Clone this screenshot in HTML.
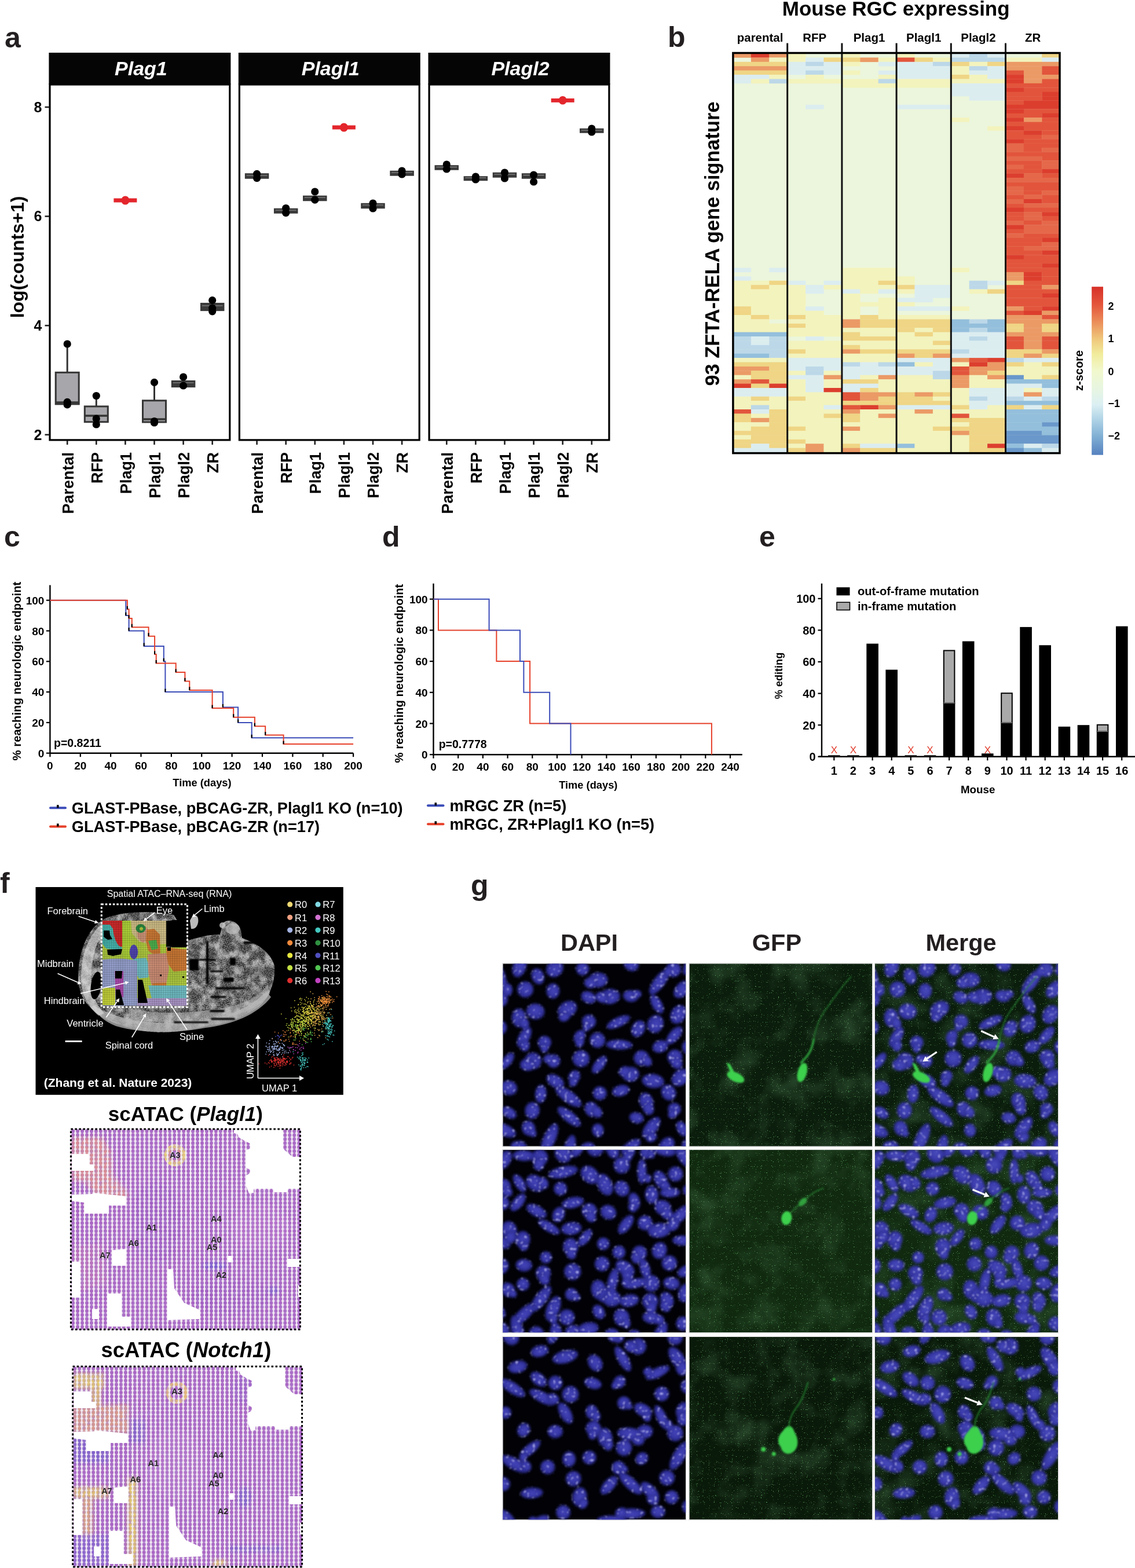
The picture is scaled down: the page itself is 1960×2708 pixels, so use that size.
<!DOCTYPE html>
<html><head><meta charset="utf-8"><title>Figure</title>
<style>
html,body{margin:0;padding:0;background:#fff;}
body{width:1960px;height:2708px;overflow:hidden;}
svg{display:block;}
svg text{font-family:"Liberation Sans", Arial, Helvetica, sans-serif;}
</style></head><body>
<svg width="1960" height="2708" viewBox="0 0 1960 2708">
<rect width="1960" height="2708" fill="#fff"/>
<rect x="84.4" y="91" width="314" height="55" fill="#050505"/>
<rect x="86.0" y="146" width="310.8" height="613.9" fill="none" stroke="#000" stroke-width="3.2"/>
<text x="243.4" y="129.5" font-size="34" font-weight="bold" font-style="italic" fill="#fff" text-anchor="middle">Plag1</text>
<line x1="116.2" y1="761" x2="116.2" y2="768" stroke="#222" stroke-width="2.6"/>
<text transform="translate(126.5,781) rotate(-90)" font-size="27" font-weight="bold" text-anchor="end">Parental</text>
<line x1="166.3" y1="761" x2="166.3" y2="768" stroke="#222" stroke-width="2.6"/>
<text transform="translate(176.6,781) rotate(-90)" font-size="27" font-weight="bold" text-anchor="end">RFP</text>
<line x1="216.4" y1="761" x2="216.4" y2="768" stroke="#222" stroke-width="2.6"/>
<text transform="translate(226.7,781) rotate(-90)" font-size="27" font-weight="bold" text-anchor="end">Plag1</text>
<line x1="266.5" y1="761" x2="266.5" y2="768" stroke="#222" stroke-width="2.6"/>
<text transform="translate(276.8,781) rotate(-90)" font-size="27" font-weight="bold" text-anchor="end">Plagl1</text>
<line x1="316.6" y1="761" x2="316.6" y2="768" stroke="#222" stroke-width="2.6"/>
<text transform="translate(326.9,781) rotate(-90)" font-size="27" font-weight="bold" text-anchor="end">Plagl2</text>
<line x1="366.7" y1="761" x2="366.7" y2="768" stroke="#222" stroke-width="2.6"/>
<text transform="translate(377.0,781) rotate(-90)" font-size="27" font-weight="bold" text-anchor="end">ZR</text>
<rect x="411.8" y="91" width="314" height="55" fill="#050505"/>
<rect x="413.40000000000003" y="146" width="310.8" height="613.9" fill="none" stroke="#000" stroke-width="3.2"/>
<text x="570.8" y="129.5" font-size="34" font-weight="bold" font-style="italic" fill="#fff" text-anchor="middle">Plagl1</text>
<line x1="443.6" y1="761" x2="443.6" y2="768" stroke="#222" stroke-width="2.6"/>
<text transform="translate(453.9,781) rotate(-90)" font-size="27" font-weight="bold" text-anchor="end">Parental</text>
<line x1="493.7" y1="761" x2="493.7" y2="768" stroke="#222" stroke-width="2.6"/>
<text transform="translate(504.0,781) rotate(-90)" font-size="27" font-weight="bold" text-anchor="end">RFP</text>
<line x1="543.8" y1="761" x2="543.8" y2="768" stroke="#222" stroke-width="2.6"/>
<text transform="translate(554.1,781) rotate(-90)" font-size="27" font-weight="bold" text-anchor="end">Plag1</text>
<line x1="593.9" y1="761" x2="593.9" y2="768" stroke="#222" stroke-width="2.6"/>
<text transform="translate(604.2,781) rotate(-90)" font-size="27" font-weight="bold" text-anchor="end">Plagl1</text>
<line x1="644.0" y1="761" x2="644.0" y2="768" stroke="#222" stroke-width="2.6"/>
<text transform="translate(654.3,781) rotate(-90)" font-size="27" font-weight="bold" text-anchor="end">Plagl2</text>
<line x1="694.1" y1="761" x2="694.1" y2="768" stroke="#222" stroke-width="2.6"/>
<text transform="translate(704.4,781) rotate(-90)" font-size="27" font-weight="bold" text-anchor="end">ZR</text>
<rect x="739.5" y="91" width="314" height="55" fill="#050505"/>
<rect x="741.1" y="146" width="310.8" height="613.9" fill="none" stroke="#000" stroke-width="3.2"/>
<text x="898.5" y="129.5" font-size="34" font-weight="bold" font-style="italic" fill="#fff" text-anchor="middle">Plagl2</text>
<line x1="771.3" y1="761" x2="771.3" y2="768" stroke="#222" stroke-width="2.6"/>
<text transform="translate(781.6,781) rotate(-90)" font-size="27" font-weight="bold" text-anchor="end">Parental</text>
<line x1="821.4" y1="761" x2="821.4" y2="768" stroke="#222" stroke-width="2.6"/>
<text transform="translate(831.7,781) rotate(-90)" font-size="27" font-weight="bold" text-anchor="end">RFP</text>
<line x1="871.5" y1="761" x2="871.5" y2="768" stroke="#222" stroke-width="2.6"/>
<text transform="translate(881.8,781) rotate(-90)" font-size="27" font-weight="bold" text-anchor="end">Plag1</text>
<line x1="921.6" y1="761" x2="921.6" y2="768" stroke="#222" stroke-width="2.6"/>
<text transform="translate(931.9,781) rotate(-90)" font-size="27" font-weight="bold" text-anchor="end">Plagl1</text>
<line x1="971.7" y1="761" x2="971.7" y2="768" stroke="#222" stroke-width="2.6"/>
<text transform="translate(982.0,781) rotate(-90)" font-size="27" font-weight="bold" text-anchor="end">Plagl2</text>
<line x1="1021.8" y1="761" x2="1021.8" y2="768" stroke="#222" stroke-width="2.6"/>
<text transform="translate(1032.1,781) rotate(-90)" font-size="27" font-weight="bold" text-anchor="end">ZR</text>
<line x1="77.5" y1="750.8" x2="85" y2="750.8" stroke="#222" stroke-width="2.6"/>
<text x="72.5" y="759.6" font-size="25" font-weight="bold" text-anchor="end">2</text>
<line x1="77.5" y1="562.2" x2="85" y2="562.2" stroke="#222" stroke-width="2.6"/>
<text x="72.5" y="571.0" font-size="25" font-weight="bold" text-anchor="end">4</text>
<line x1="77.5" y1="373.6" x2="85" y2="373.6" stroke="#222" stroke-width="2.6"/>
<text x="72.5" y="382.4" font-size="25" font-weight="bold" text-anchor="end">6</text>
<line x1="77.5" y1="185.0" x2="85" y2="185.0" stroke="#222" stroke-width="2.6"/>
<text x="72.5" y="193.8" font-size="25" font-weight="bold" text-anchor="end">8</text>
<text transform="translate(41.3,444) rotate(-90)" font-size="32" font-weight="bold" text-anchor="middle">log(counts+1)</text>
<line x1="116.2" y1="594.0" x2="116.2" y2="643.3" stroke="#333" stroke-width="3"/>
<rect x="96.2" y="643.3" width="40" height="54.6" fill="#a7a7ab" stroke="#353535" stroke-width="3"/>
<line x1="96.2" y1="695.0" x2="136.2" y2="695.0" stroke="#353535" stroke-width="3.5"/>
<circle cx="116.2" cy="594.0" r="6.6" fill="#000"/>
<circle cx="116.2" cy="694.3" r="6.6" fill="#000"/>
<circle cx="116.2" cy="698.9" r="6.6" fill="#000"/>
<line x1="166.3" y1="683.5" x2="166.3" y2="701.9" stroke="#333" stroke-width="3"/>
<rect x="146.3" y="701.9" width="40" height="26.8" fill="#a7a7ab" stroke="#353535" stroke-width="3"/>
<line x1="146.3" y1="718.0" x2="186.3" y2="718.0" stroke="#353535" stroke-width="3.5"/>
<circle cx="166.3" cy="683.5" r="6.6" fill="#000"/>
<circle cx="166.3" cy="723.0" r="6.6" fill="#000"/>
<circle cx="166.3" cy="733.0" r="6.6" fill="#000"/>
<rect x="196.4" y="342.5" width="40" height="7.0" fill="#e3262c"/>
<circle cx="216.4" cy="345.0" r="6.6" fill="#e3262c"/>
<circle cx="216.4" cy="346.5" r="6.6" fill="#e3262c"/>
<circle cx="216.4" cy="347.0" r="6.6" fill="#e3262c"/>
<line x1="266.5" y1="660.4" x2="266.5" y2="691.8" stroke="#333" stroke-width="3"/>
<rect x="246.5" y="691.8" width="40" height="37.2" fill="#a7a7ab" stroke="#353535" stroke-width="3"/>
<line x1="246.5" y1="724.0" x2="286.5" y2="724.0" stroke="#353535" stroke-width="3.5"/>
<circle cx="266.5" cy="660.4" r="6.6" fill="#000"/>
<circle cx="266.5" cy="727.5" r="6.6" fill="#000"/>
<circle cx="266.5" cy="730.0" r="6.6" fill="#000"/>
<rect x="296.6" y="657.7" width="40" height="10.7" fill="#3a3a3a" stroke="#383838" stroke-width="1.5"/>
<line x1="298.6" y1="661.0" x2="334.6" y2="661.0" stroke="#9a9a9a" stroke-width="1"/>
<circle cx="316.6" cy="651.0" r="6.6" fill="#000"/>
<circle cx="316.6" cy="666.0" r="6.6" fill="#000"/>
<rect x="346.7" y="523.7" width="40" height="12.7" fill="#3a3a3a" stroke="#383838" stroke-width="1.5"/>
<line x1="348.7" y1="528.0" x2="384.7" y2="528.0" stroke="#9a9a9a" stroke-width="1"/>
<circle cx="366.7" cy="518.7" r="6.6" fill="#000"/>
<circle cx="366.7" cy="532.0" r="6.6" fill="#000"/>
<circle cx="366.7" cy="537.8" r="6.6" fill="#000"/>
<rect x="423.6" y="300.0" width="40" height="8.0" fill="#3a3a3a" stroke="#383838" stroke-width="1.5"/>
<line x1="425.6" y1="303.0" x2="461.6" y2="303.0" stroke="#9a9a9a" stroke-width="1"/>
<circle cx="443.6" cy="300.3" r="6.6" fill="#000"/>
<circle cx="443.6" cy="307.7" r="6.6" fill="#000"/>
<rect x="473.7" y="360.5" width="40" height="7.5" fill="#3a3a3a" stroke="#383838" stroke-width="1.5"/>
<line x1="475.7" y1="363.0" x2="511.7" y2="363.0" stroke="#9a9a9a" stroke-width="1"/>
<circle cx="493.7" cy="359.5" r="6.6" fill="#000"/>
<circle cx="493.7" cy="367.7" r="6.6" fill="#000"/>
<rect x="523.8" y="338.5" width="40" height="8.0" fill="#3a3a3a" stroke="#383838" stroke-width="1.5"/>
<line x1="525.8" y1="341.0" x2="561.8" y2="341.0" stroke="#9a9a9a" stroke-width="1"/>
<circle cx="543.8" cy="331.0" r="6.6" fill="#000"/>
<circle cx="543.8" cy="345.2" r="6.6" fill="#000"/>
<rect x="573.9" y="216.5" width="40" height="7.0" fill="#e3262c"/>
<circle cx="593.9" cy="219.0" r="6.6" fill="#e3262c"/>
<circle cx="593.9" cy="221.0" r="6.6" fill="#e3262c"/>
<rect x="624.0" y="351.5" width="40" height="8.0" fill="#3a3a3a" stroke="#383838" stroke-width="1.5"/>
<line x1="626.0" y1="354.0" x2="662.0" y2="354.0" stroke="#9a9a9a" stroke-width="1"/>
<circle cx="644.0" cy="351.0" r="6.6" fill="#000"/>
<circle cx="644.0" cy="360.0" r="6.6" fill="#000"/>
<rect x="674.1" y="295.5" width="40" height="7.5" fill="#3a3a3a" stroke="#383838" stroke-width="1.5"/>
<line x1="676.1" y1="298.0" x2="712.1" y2="298.0" stroke="#9a9a9a" stroke-width="1"/>
<circle cx="694.1" cy="295.0" r="6.6" fill="#000"/>
<circle cx="694.1" cy="301.0" r="6.6" fill="#000"/>
<rect x="751.3" y="286.0" width="40" height="7.0" fill="#3a3a3a" stroke="#383838" stroke-width="1.5"/>
<line x1="753.3" y1="288.5" x2="789.3" y2="288.5" stroke="#9a9a9a" stroke-width="1"/>
<circle cx="771.3" cy="284.0" r="6.6" fill="#000"/>
<circle cx="771.3" cy="292.0" r="6.6" fill="#000"/>
<rect x="801.4" y="305.0" width="40" height="6.5" fill="#3a3a3a" stroke="#383838" stroke-width="1.5"/>
<line x1="803.4" y1="307.0" x2="839.4" y2="307.0" stroke="#9a9a9a" stroke-width="1"/>
<circle cx="821.4" cy="305.0" r="6.6" fill="#000"/>
<circle cx="821.4" cy="310.0" r="6.6" fill="#000"/>
<rect x="851.5" y="298.5" width="40" height="7.5" fill="#3a3a3a" stroke="#383838" stroke-width="1.5"/>
<line x1="853.5" y1="301.0" x2="889.5" y2="301.0" stroke="#9a9a9a" stroke-width="1"/>
<circle cx="871.5" cy="298.0" r="6.6" fill="#000"/>
<circle cx="871.5" cy="308.0" r="6.6" fill="#000"/>
<rect x="901.6" y="300.0" width="40" height="8.0" fill="#3a3a3a" stroke="#383838" stroke-width="1.5"/>
<line x1="903.6" y1="302.5" x2="939.6" y2="302.5" stroke="#9a9a9a" stroke-width="1"/>
<circle cx="921.6" cy="302.0" r="6.6" fill="#000"/>
<circle cx="921.6" cy="314.0" r="6.6" fill="#000"/>
<rect x="951.7" y="170.0" width="40" height="6.8" fill="#e3262c"/>
<circle cx="971.7" cy="172.5" r="6.6" fill="#e3262c"/>
<circle cx="971.7" cy="174.0" r="6.6" fill="#e3262c"/>
<rect x="1001.8" y="222.5" width="40" height="6.5" fill="#3a3a3a" stroke="#383838" stroke-width="1.5"/>
<line x1="1003.8" y1="225.0" x2="1039.8" y2="225.0" stroke="#9a9a9a" stroke-width="1"/>
<circle cx="1021.8" cy="222.0" r="6.6" fill="#000"/>
<circle cx="1021.8" cy="228.0" r="6.6" fill="#000"/>
<text x="8" y="82" font-size="50" font-weight="bold" fill="#231f20">a</text>
<rect x="1265.5" y="92.0" width="565.2" height="689.1" fill="#ecf6dc"/>
<rect x="1265.5" y="92.00" width="31.7" height="7.71" fill="#eb9a66"/>
<rect x="1296.9" y="92.00" width="31.7" height="7.71" fill="#dc3e2e"/>
<rect x="1328.3" y="92.00" width="31.7" height="7.71" fill="#eb9a66"/>
<rect x="1359.7" y="92.00" width="31.7" height="7.71" fill="#f3f3bd"/>
<rect x="1453.9" y="92.00" width="31.7" height="7.71" fill="#f3f3bd"/>
<rect x="1548.1" y="92.00" width="31.7" height="7.71" fill="#f3f3bd"/>
<rect x="1642.3" y="92.00" width="31.7" height="7.71" fill="#dcedf0"/>
<rect x="1673.7" y="92.00" width="31.7" height="7.71" fill="#bcd8e8"/>
<rect x="1705.1" y="92.00" width="31.7" height="7.71" fill="#dcedf0"/>
<rect x="1799.3" y="92.00" width="31.7" height="7.71" fill="#efd585"/>
<rect x="1296.9" y="99.41" width="31.7" height="7.71" fill="#eb9a66"/>
<rect x="1328.3" y="99.41" width="63.1" height="7.71" fill="#f3f3bd"/>
<rect x="1391.1" y="99.41" width="31.7" height="7.71" fill="#dcedf0"/>
<rect x="1422.5" y="99.41" width="63.1" height="7.71" fill="#efd585"/>
<rect x="1485.3" y="99.41" width="31.7" height="7.71" fill="#eb9a66"/>
<rect x="1516.7" y="99.41" width="31.7" height="7.71" fill="#f3f3bd"/>
<rect x="1548.1" y="99.41" width="31.7" height="7.71" fill="#e2553c"/>
<rect x="1579.5" y="99.41" width="31.7" height="7.71" fill="#efd585"/>
<rect x="1610.9" y="99.41" width="31.7" height="7.71" fill="#f3f3bd"/>
<rect x="1642.3" y="99.41" width="94.5" height="7.71" fill="#bcd8e8"/>
<rect x="1736.5" y="99.41" width="63.1" height="7.71" fill="#f3f3bd"/>
<rect x="1799.3" y="99.41" width="31.7" height="7.71" fill="#dcedf0"/>
<rect x="1265.5" y="106.82" width="94.5" height="7.71" fill="#efd585"/>
<rect x="1359.7" y="106.82" width="31.7" height="7.71" fill="#dcedf0"/>
<rect x="1391.1" y="106.82" width="31.7" height="7.71" fill="#bcd8e8"/>
<rect x="1422.5" y="106.82" width="31.7" height="7.71" fill="#dcedf0"/>
<rect x="1453.9" y="106.82" width="31.7" height="7.71" fill="#f3f3bd"/>
<rect x="1516.7" y="106.82" width="94.5" height="7.71" fill="#dcedf0"/>
<rect x="1610.9" y="106.82" width="31.7" height="7.71" fill="#bcd8e8"/>
<rect x="1642.3" y="106.82" width="31.7" height="7.71" fill="#efd585"/>
<rect x="1673.7" y="106.82" width="31.7" height="7.71" fill="#f3f3bd"/>
<rect x="1705.1" y="106.82" width="31.7" height="7.71" fill="#efd585"/>
<rect x="1736.5" y="106.82" width="94.5" height="7.71" fill="#eb9a66"/>
<rect x="1265.5" y="114.23" width="94.5" height="7.71" fill="#eb9a66"/>
<rect x="1359.7" y="114.23" width="94.5" height="7.71" fill="#dcedf0"/>
<rect x="1548.1" y="114.23" width="94.5" height="7.71" fill="#dcedf0"/>
<rect x="1642.3" y="114.23" width="31.7" height="7.71" fill="#f3f3bd"/>
<rect x="1673.7" y="114.23" width="31.7" height="7.71" fill="#bcd8e8"/>
<rect x="1705.1" y="114.23" width="31.7" height="7.71" fill="#dcedf0"/>
<rect x="1736.5" y="114.23" width="63.1" height="7.71" fill="#eb9a66"/>
<rect x="1799.3" y="114.23" width="31.7" height="7.71" fill="#e2553c"/>
<rect x="1265.5" y="121.64" width="94.5" height="7.71" fill="#efd585"/>
<rect x="1359.7" y="121.64" width="31.7" height="7.71" fill="#dcedf0"/>
<rect x="1391.1" y="121.64" width="31.7" height="7.71" fill="#bcd8e8"/>
<rect x="1422.5" y="121.64" width="31.7" height="7.71" fill="#dcedf0"/>
<rect x="1453.9" y="121.64" width="31.7" height="7.71" fill="#f3f3bd"/>
<rect x="1516.7" y="121.64" width="125.9" height="7.71" fill="#dcedf0"/>
<rect x="1642.3" y="121.64" width="31.7" height="7.71" fill="#f3f3bd"/>
<rect x="1673.7" y="121.64" width="63.1" height="7.71" fill="#dcedf0"/>
<rect x="1736.5" y="121.64" width="31.7" height="7.71" fill="#e2553c"/>
<rect x="1767.9" y="121.64" width="31.7" height="7.71" fill="#eb9a66"/>
<rect x="1799.3" y="121.64" width="31.7" height="7.71" fill="#e2553c"/>
<rect x="1265.5" y="129.05" width="63.1" height="7.71" fill="#dcedf0"/>
<rect x="1328.3" y="129.05" width="31.7" height="7.71" fill="#f3f3bd"/>
<rect x="1391.1" y="129.05" width="31.7" height="7.71" fill="#f3f3bd"/>
<rect x="1516.7" y="129.05" width="31.7" height="7.71" fill="#f3f3bd"/>
<rect x="1548.1" y="129.05" width="94.5" height="7.71" fill="#dcedf0"/>
<rect x="1642.3" y="129.05" width="31.7" height="7.71" fill="#efd585"/>
<rect x="1673.7" y="129.05" width="31.7" height="7.71" fill="#f3f3bd"/>
<rect x="1705.1" y="129.05" width="31.7" height="7.71" fill="#dcedf0"/>
<rect x="1736.5" y="129.05" width="31.7" height="7.71" fill="#dc3e2e"/>
<rect x="1767.9" y="129.05" width="63.1" height="7.71" fill="#eb9a66"/>
<rect x="1265.5" y="136.46" width="31.7" height="7.71" fill="#dcedf0"/>
<rect x="1296.9" y="136.46" width="31.7" height="7.71" fill="#f3f3bd"/>
<rect x="1328.3" y="136.46" width="31.7" height="7.71" fill="#bcd8e8"/>
<rect x="1359.7" y="136.46" width="157.3" height="7.71" fill="#f3f3bd"/>
<rect x="1516.7" y="136.46" width="31.7" height="7.71" fill="#bcd8e8"/>
<rect x="1548.1" y="136.46" width="188.7" height="7.71" fill="#f3f3bd"/>
<rect x="1736.5" y="136.46" width="31.7" height="7.71" fill="#dc3e2e"/>
<rect x="1767.9" y="136.46" width="31.7" height="7.71" fill="#eb9a66"/>
<rect x="1799.3" y="136.46" width="31.7" height="7.71" fill="#e2553c"/>
<rect x="1453.9" y="143.87" width="188.7" height="7.71" fill="#f3f3bd"/>
<rect x="1642.3" y="143.87" width="94.5" height="7.71" fill="#dcedf0"/>
<rect x="1736.5" y="143.87" width="94.5" height="7.71" fill="#e2553c"/>
<rect x="1642.3" y="151.28" width="94.5" height="7.71" fill="#dcedf0"/>
<rect x="1736.5" y="151.28" width="31.7" height="7.71" fill="#dc3e2e"/>
<rect x="1767.9" y="151.28" width="63.1" height="7.71" fill="#e2553c"/>
<rect x="1642.3" y="158.69" width="94.5" height="7.71" fill="#dcedf0"/>
<rect x="1736.5" y="158.69" width="63.1" height="7.71" fill="#e2553c"/>
<rect x="1799.3" y="158.69" width="31.7" height="7.71" fill="#dc3e2e"/>
<rect x="1673.7" y="166.10" width="63.1" height="7.71" fill="#dcedf0"/>
<rect x="1736.5" y="166.10" width="63.1" height="7.71" fill="#e2553c"/>
<rect x="1799.3" y="166.10" width="31.7" height="7.71" fill="#dc3e2e"/>
<rect x="1736.5" y="173.51" width="31.7" height="7.71" fill="#e2553c"/>
<rect x="1767.9" y="173.51" width="63.1" height="7.71" fill="#dc3e2e"/>
<rect x="1391.1" y="180.92" width="31.7" height="7.71" fill="#dcedf0"/>
<rect x="1548.1" y="180.92" width="94.5" height="7.71" fill="#dcedf0"/>
<rect x="1736.5" y="180.92" width="94.5" height="7.71" fill="#dc3e2e"/>
<rect x="1736.5" y="188.33" width="31.7" height="7.71" fill="#dc3e2e"/>
<rect x="1767.9" y="188.33" width="63.1" height="7.71" fill="#e2553c"/>
<rect x="1736.5" y="195.74" width="63.1" height="7.71" fill="#e2553c"/>
<rect x="1799.3" y="195.74" width="31.7" height="7.71" fill="#dc3e2e"/>
<rect x="1642.3" y="203.15" width="31.7" height="7.71" fill="#f3f3bd"/>
<rect x="1736.5" y="203.15" width="31.7" height="7.71" fill="#dc3e2e"/>
<rect x="1767.9" y="203.15" width="31.7" height="7.71" fill="#eb9a66"/>
<rect x="1799.3" y="203.15" width="31.7" height="7.71" fill="#e2553c"/>
<rect x="1736.5" y="210.56" width="94.5" height="7.71" fill="#e2553c"/>
<rect x="1705.1" y="217.97" width="31.7" height="7.71" fill="#f3f3bd"/>
<rect x="1736.5" y="217.97" width="31.7" height="7.71" fill="#dc3e2e"/>
<rect x="1767.9" y="217.97" width="63.1" height="7.71" fill="#e2553c"/>
<rect x="1736.5" y="225.38" width="31.7" height="7.71" fill="#e2553c"/>
<rect x="1767.9" y="225.38" width="31.7" height="7.71" fill="#dc3e2e"/>
<rect x="1799.3" y="225.38" width="31.7" height="7.71" fill="#e2553c"/>
<rect x="1736.5" y="232.79" width="63.1" height="7.71" fill="#e2553c"/>
<rect x="1799.3" y="232.79" width="31.7" height="7.71" fill="#e5684a"/>
<rect x="1736.5" y="240.20" width="31.7" height="7.71" fill="#dc3e2e"/>
<rect x="1767.9" y="240.20" width="63.1" height="7.71" fill="#e2553c"/>
<rect x="1736.5" y="247.61" width="31.7" height="7.71" fill="#e5684a"/>
<rect x="1767.9" y="247.61" width="63.1" height="7.71" fill="#e2553c"/>
<rect x="1736.5" y="255.02" width="31.7" height="7.71" fill="#e5684a"/>
<rect x="1767.9" y="255.02" width="31.7" height="7.71" fill="#e2553c"/>
<rect x="1799.3" y="255.02" width="31.7" height="7.71" fill="#e5684a"/>
<rect x="1736.5" y="262.43" width="94.5" height="7.71" fill="#e2553c"/>
<rect x="1736.5" y="269.84" width="63.1" height="7.71" fill="#e5684a"/>
<rect x="1799.3" y="269.84" width="31.7" height="7.71" fill="#e2553c"/>
<rect x="1736.5" y="277.25" width="63.1" height="7.71" fill="#e2553c"/>
<rect x="1799.3" y="277.25" width="31.7" height="7.71" fill="#e5684a"/>
<rect x="1736.5" y="284.66" width="31.7" height="7.71" fill="#e5684a"/>
<rect x="1767.9" y="284.66" width="31.7" height="7.71" fill="#e2553c"/>
<rect x="1799.3" y="284.66" width="31.7" height="7.71" fill="#e5684a"/>
<rect x="1736.5" y="292.07" width="63.1" height="7.71" fill="#e2553c"/>
<rect x="1799.3" y="292.07" width="31.7" height="7.71" fill="#dc3e2e"/>
<rect x="1736.5" y="299.48" width="31.7" height="7.71" fill="#dc3e2e"/>
<rect x="1767.9" y="299.48" width="31.7" height="7.71" fill="#e5684a"/>
<rect x="1799.3" y="299.48" width="31.7" height="7.71" fill="#e2553c"/>
<rect x="1736.5" y="306.89" width="94.5" height="7.71" fill="#e5684a"/>
<rect x="1736.5" y="314.30" width="94.5" height="7.71" fill="#e2553c"/>
<rect x="1736.5" y="321.71" width="31.7" height="7.71" fill="#e5684a"/>
<rect x="1767.9" y="321.71" width="63.1" height="7.71" fill="#e2553c"/>
<rect x="1736.5" y="329.12" width="31.7" height="7.71" fill="#e5684a"/>
<rect x="1767.9" y="329.12" width="31.7" height="7.71" fill="#e2553c"/>
<rect x="1799.3" y="329.12" width="31.7" height="7.71" fill="#e5684a"/>
<rect x="1736.5" y="336.53" width="31.7" height="7.71" fill="#e2553c"/>
<rect x="1767.9" y="336.53" width="31.7" height="7.71" fill="#e5684a"/>
<rect x="1799.3" y="336.53" width="31.7" height="7.71" fill="#e2553c"/>
<rect x="1736.5" y="343.94" width="31.7" height="7.71" fill="#e5684a"/>
<rect x="1767.9" y="343.94" width="31.7" height="7.71" fill="#dc3e2e"/>
<rect x="1799.3" y="343.94" width="31.7" height="7.71" fill="#e2553c"/>
<rect x="1736.5" y="351.35" width="31.7" height="7.71" fill="#e2553c"/>
<rect x="1767.9" y="351.35" width="63.1" height="7.71" fill="#e5684a"/>
<rect x="1736.5" y="358.76" width="31.7" height="7.71" fill="#dc3e2e"/>
<rect x="1767.9" y="358.76" width="63.1" height="7.71" fill="#e2553c"/>
<rect x="1736.5" y="366.17" width="31.7" height="7.71" fill="#e2553c"/>
<rect x="1767.9" y="366.17" width="31.7" height="7.71" fill="#e5684a"/>
<rect x="1799.3" y="366.17" width="31.7" height="7.71" fill="#dc3e2e"/>
<rect x="1736.5" y="373.58" width="31.7" height="7.71" fill="#e2553c"/>
<rect x="1767.9" y="373.58" width="31.7" height="7.71" fill="#e5684a"/>
<rect x="1799.3" y="373.58" width="31.7" height="7.71" fill="#e2553c"/>
<rect x="1736.5" y="380.99" width="31.7" height="7.71" fill="#e5684a"/>
<rect x="1767.9" y="380.99" width="31.7" height="7.71" fill="#e2553c"/>
<rect x="1799.3" y="380.99" width="31.7" height="7.71" fill="#e5684a"/>
<rect x="1736.5" y="388.40" width="31.7" height="7.71" fill="#dc3e2e"/>
<rect x="1767.9" y="388.40" width="63.1" height="7.71" fill="#e5684a"/>
<rect x="1736.5" y="395.81" width="31.7" height="7.71" fill="#e2553c"/>
<rect x="1767.9" y="395.81" width="63.1" height="7.71" fill="#e5684a"/>
<rect x="1736.5" y="403.22" width="31.7" height="7.71" fill="#e5684a"/>
<rect x="1767.9" y="403.22" width="63.1" height="7.71" fill="#e2553c"/>
<rect x="1736.5" y="410.63" width="63.1" height="7.71" fill="#e2553c"/>
<rect x="1799.3" y="410.63" width="31.7" height="7.71" fill="#dc3e2e"/>
<rect x="1736.5" y="418.04" width="63.1" height="7.71" fill="#e2553c"/>
<rect x="1799.3" y="418.04" width="31.7" height="7.71" fill="#e5684a"/>
<rect x="1736.5" y="425.45" width="31.7" height="7.71" fill="#e2553c"/>
<rect x="1767.9" y="425.45" width="63.1" height="7.71" fill="#e5684a"/>
<rect x="1736.5" y="432.86" width="63.1" height="7.71" fill="#e2553c"/>
<rect x="1799.3" y="432.86" width="31.7" height="7.71" fill="#dc3e2e"/>
<rect x="1736.5" y="440.27" width="31.7" height="7.71" fill="#dc3e2e"/>
<rect x="1767.9" y="440.27" width="63.1" height="7.71" fill="#e2553c"/>
<rect x="1736.5" y="447.68" width="94.5" height="7.71" fill="#e2553c"/>
<rect x="1736.5" y="455.09" width="63.1" height="7.71" fill="#e2553c"/>
<rect x="1799.3" y="455.09" width="31.7" height="7.71" fill="#dc3e2e"/>
<rect x="1265.5" y="462.50" width="31.7" height="7.71" fill="#dcedf0"/>
<rect x="1328.3" y="462.50" width="31.7" height="7.71" fill="#dcedf0"/>
<rect x="1453.9" y="462.50" width="94.5" height="7.71" fill="#f3f3bd"/>
<rect x="1642.3" y="462.50" width="31.7" height="7.71" fill="#f3f3bd"/>
<rect x="1736.5" y="462.50" width="94.5" height="7.71" fill="#e2553c"/>
<rect x="1453.9" y="469.91" width="94.5" height="7.71" fill="#f3f3bd"/>
<rect x="1736.5" y="469.91" width="31.7" height="7.71" fill="#eb9a66"/>
<rect x="1767.9" y="469.91" width="31.7" height="7.71" fill="#dc3e2e"/>
<rect x="1799.3" y="469.91" width="31.7" height="7.71" fill="#e2553c"/>
<rect x="1265.5" y="477.32" width="31.7" height="7.71" fill="#dcedf0"/>
<rect x="1453.9" y="477.32" width="125.9" height="7.71" fill="#f3f3bd"/>
<rect x="1736.5" y="477.32" width="31.7" height="7.71" fill="#eb9a66"/>
<rect x="1767.9" y="477.32" width="31.7" height="7.71" fill="#dc3e2e"/>
<rect x="1799.3" y="477.32" width="31.7" height="7.71" fill="#e2553c"/>
<rect x="1265.5" y="484.73" width="63.1" height="7.71" fill="#f3f3bd"/>
<rect x="1328.3" y="484.73" width="31.7" height="7.71" fill="#efd585"/>
<rect x="1359.7" y="484.73" width="31.7" height="7.71" fill="#dcedf0"/>
<rect x="1422.5" y="484.73" width="31.7" height="7.71" fill="#dcedf0"/>
<rect x="1453.9" y="484.73" width="63.1" height="7.71" fill="#f3f3bd"/>
<rect x="1516.7" y="484.73" width="31.7" height="7.71" fill="#efd585"/>
<rect x="1548.1" y="484.73" width="31.7" height="7.71" fill="#f3f3bd"/>
<rect x="1673.7" y="484.73" width="31.7" height="7.71" fill="#bcd8e8"/>
<rect x="1705.1" y="484.73" width="31.7" height="7.71" fill="#dcedf0"/>
<rect x="1736.5" y="484.73" width="31.7" height="7.71" fill="#efd585"/>
<rect x="1767.9" y="484.73" width="63.1" height="7.71" fill="#e2553c"/>
<rect x="1265.5" y="492.14" width="31.7" height="7.71" fill="#f3f3bd"/>
<rect x="1296.9" y="492.14" width="31.7" height="7.71" fill="#efd585"/>
<rect x="1328.3" y="492.14" width="63.1" height="7.71" fill="#f3f3bd"/>
<rect x="1391.1" y="492.14" width="31.7" height="7.71" fill="#dcedf0"/>
<rect x="1422.5" y="492.14" width="125.9" height="7.71" fill="#f3f3bd"/>
<rect x="1548.1" y="492.14" width="31.7" height="7.71" fill="#efd585"/>
<rect x="1579.5" y="492.14" width="63.1" height="7.71" fill="#dcedf0"/>
<rect x="1673.7" y="492.14" width="31.7" height="7.71" fill="#bcd8e8"/>
<rect x="1736.5" y="492.14" width="63.1" height="7.71" fill="#e2553c"/>
<rect x="1799.3" y="492.14" width="31.7" height="7.71" fill="#eb9a66"/>
<rect x="1265.5" y="499.55" width="125.9" height="7.71" fill="#f3f3bd"/>
<rect x="1391.1" y="499.55" width="31.7" height="7.71" fill="#dcedf0"/>
<rect x="1453.9" y="499.55" width="31.7" height="7.71" fill="#dcedf0"/>
<rect x="1485.3" y="499.55" width="31.7" height="7.71" fill="#f3f3bd"/>
<rect x="1516.7" y="499.55" width="31.7" height="7.71" fill="#dcedf0"/>
<rect x="1548.1" y="499.55" width="31.7" height="7.71" fill="#f3f3bd"/>
<rect x="1579.5" y="499.55" width="63.1" height="7.71" fill="#dcedf0"/>
<rect x="1673.7" y="499.55" width="31.7" height="7.71" fill="#f3f3bd"/>
<rect x="1705.1" y="499.55" width="31.7" height="7.71" fill="#efd585"/>
<rect x="1736.5" y="499.55" width="94.5" height="7.71" fill="#e2553c"/>
<rect x="1265.5" y="506.96" width="125.9" height="7.71" fill="#f3f3bd"/>
<rect x="1453.9" y="506.96" width="31.7" height="7.71" fill="#f3f3bd"/>
<rect x="1579.5" y="506.96" width="63.1" height="7.71" fill="#dcedf0"/>
<rect x="1736.5" y="506.96" width="63.1" height="7.71" fill="#e2553c"/>
<rect x="1799.3" y="506.96" width="31.7" height="7.71" fill="#dc3e2e"/>
<rect x="1265.5" y="514.37" width="125.9" height="7.71" fill="#f3f3bd"/>
<rect x="1453.9" y="514.37" width="31.7" height="7.71" fill="#f3f3bd"/>
<rect x="1516.7" y="514.37" width="31.7" height="7.71" fill="#f3f3bd"/>
<rect x="1548.1" y="514.37" width="63.1" height="7.71" fill="#dcedf0"/>
<rect x="1736.5" y="514.37" width="94.5" height="7.71" fill="#e2553c"/>
<rect x="1265.5" y="521.78" width="125.9" height="7.71" fill="#f3f3bd"/>
<rect x="1453.9" y="521.78" width="125.9" height="7.71" fill="#f3f3bd"/>
<rect x="1736.5" y="521.78" width="94.5" height="7.71" fill="#e2553c"/>
<rect x="1265.5" y="529.19" width="31.7" height="7.71" fill="#efd585"/>
<rect x="1296.9" y="529.19" width="94.5" height="7.71" fill="#f3f3bd"/>
<rect x="1391.1" y="529.19" width="31.7" height="7.71" fill="#dcedf0"/>
<rect x="1453.9" y="529.19" width="31.7" height="7.71" fill="#f3f3bd"/>
<rect x="1516.7" y="529.19" width="31.7" height="7.71" fill="#f3f3bd"/>
<rect x="1548.1" y="529.19" width="94.5" height="7.71" fill="#dcedf0"/>
<rect x="1642.3" y="529.19" width="31.7" height="7.71" fill="#f3f3bd"/>
<rect x="1736.5" y="529.19" width="31.7" height="7.71" fill="#eb9a66"/>
<rect x="1767.9" y="529.19" width="31.7" height="7.71" fill="#e2553c"/>
<rect x="1799.3" y="529.19" width="31.7" height="7.71" fill="#dc3e2e"/>
<rect x="1265.5" y="536.60" width="31.7" height="7.71" fill="#efd585"/>
<rect x="1296.9" y="536.60" width="125.9" height="7.71" fill="#f3f3bd"/>
<rect x="1453.9" y="536.60" width="31.7" height="7.71" fill="#f3f3bd"/>
<rect x="1516.7" y="536.60" width="31.7" height="7.71" fill="#f3f3bd"/>
<rect x="1736.5" y="536.60" width="31.7" height="7.71" fill="#e2553c"/>
<rect x="1767.9" y="536.60" width="31.7" height="7.71" fill="#dc3e2e"/>
<rect x="1799.3" y="536.60" width="31.7" height="7.71" fill="#eb9a66"/>
<rect x="1265.5" y="544.01" width="31.7" height="7.71" fill="#f3f3bd"/>
<rect x="1296.9" y="544.01" width="31.7" height="7.71" fill="#efd585"/>
<rect x="1328.3" y="544.01" width="31.7" height="7.71" fill="#f3f3bd"/>
<rect x="1359.7" y="544.01" width="31.7" height="7.71" fill="#efd585"/>
<rect x="1391.1" y="544.01" width="94.5" height="7.71" fill="#f3f3bd"/>
<rect x="1485.3" y="544.01" width="31.7" height="7.71" fill="#efd585"/>
<rect x="1516.7" y="544.01" width="125.9" height="7.71" fill="#f3f3bd"/>
<rect x="1736.5" y="544.01" width="63.1" height="7.71" fill="#eb9a66"/>
<rect x="1799.3" y="544.01" width="31.7" height="7.71" fill="#e2553c"/>
<rect x="1265.5" y="551.42" width="63.1" height="7.71" fill="#f3f3bd"/>
<rect x="1359.7" y="551.42" width="94.5" height="7.71" fill="#f3f3bd"/>
<rect x="1453.9" y="551.42" width="31.7" height="7.71" fill="#eb9a66"/>
<rect x="1485.3" y="551.42" width="157.3" height="7.71" fill="#efd585"/>
<rect x="1642.3" y="551.42" width="31.7" height="7.71" fill="#94bfdc"/>
<rect x="1673.7" y="551.42" width="31.7" height="7.71" fill="#bcd8e8"/>
<rect x="1705.1" y="551.42" width="31.7" height="7.71" fill="#94bfdc"/>
<rect x="1736.5" y="551.42" width="94.5" height="7.71" fill="#eb9a66"/>
<rect x="1265.5" y="558.83" width="94.5" height="7.71" fill="#f3f3bd"/>
<rect x="1359.7" y="558.83" width="31.7" height="7.71" fill="#efd585"/>
<rect x="1391.1" y="558.83" width="63.1" height="7.71" fill="#f3f3bd"/>
<rect x="1453.9" y="558.83" width="31.7" height="7.71" fill="#eb9a66"/>
<rect x="1485.3" y="558.83" width="157.3" height="7.71" fill="#efd585"/>
<rect x="1642.3" y="558.83" width="94.5" height="7.71" fill="#94bfdc"/>
<rect x="1736.5" y="558.83" width="31.7" height="7.71" fill="#efd585"/>
<rect x="1767.9" y="558.83" width="31.7" height="7.71" fill="#eb9a66"/>
<rect x="1799.3" y="558.83" width="31.7" height="7.71" fill="#efd585"/>
<rect x="1265.5" y="566.24" width="282.9" height="7.71" fill="#f3f3bd"/>
<rect x="1548.1" y="566.24" width="31.7" height="7.71" fill="#efd585"/>
<rect x="1579.5" y="566.24" width="31.7" height="7.71" fill="#f3f3bd"/>
<rect x="1610.9" y="566.24" width="31.7" height="7.71" fill="#efd585"/>
<rect x="1642.3" y="566.24" width="31.7" height="7.71" fill="#94bfdc"/>
<rect x="1673.7" y="566.24" width="31.7" height="7.71" fill="#bcd8e8"/>
<rect x="1705.1" y="566.24" width="31.7" height="7.71" fill="#94bfdc"/>
<rect x="1736.5" y="566.24" width="31.7" height="7.71" fill="#efd585"/>
<rect x="1767.9" y="566.24" width="31.7" height="7.71" fill="#eb9a66"/>
<rect x="1799.3" y="566.24" width="31.7" height="7.71" fill="#efd585"/>
<rect x="1265.5" y="573.65" width="94.5" height="7.71" fill="#94bfdc"/>
<rect x="1359.7" y="573.65" width="94.5" height="7.71" fill="#f3f3bd"/>
<rect x="1453.9" y="573.65" width="31.7" height="7.71" fill="#efd585"/>
<rect x="1485.3" y="573.65" width="94.5" height="7.71" fill="#f3f3bd"/>
<rect x="1579.5" y="573.65" width="31.7" height="7.71" fill="#efd585"/>
<rect x="1610.9" y="573.65" width="31.7" height="7.71" fill="#f3f3bd"/>
<rect x="1642.3" y="573.65" width="94.5" height="7.71" fill="#dcedf0"/>
<rect x="1736.5" y="573.65" width="94.5" height="7.71" fill="#eb9a66"/>
<rect x="1265.5" y="581.06" width="31.7" height="7.71" fill="#bcd8e8"/>
<rect x="1296.9" y="581.06" width="31.7" height="7.71" fill="#dcedf0"/>
<rect x="1328.3" y="581.06" width="31.7" height="7.71" fill="#bcd8e8"/>
<rect x="1391.1" y="581.06" width="31.7" height="7.71" fill="#dcedf0"/>
<rect x="1453.9" y="581.06" width="94.5" height="7.71" fill="#efd585"/>
<rect x="1548.1" y="581.06" width="94.5" height="7.71" fill="#f3f3bd"/>
<rect x="1642.3" y="581.06" width="31.7" height="7.71" fill="#dcedf0"/>
<rect x="1673.7" y="581.06" width="31.7" height="7.71" fill="#bcd8e8"/>
<rect x="1705.1" y="581.06" width="31.7" height="7.71" fill="#dcedf0"/>
<rect x="1736.5" y="581.06" width="31.7" height="7.71" fill="#e2553c"/>
<rect x="1767.9" y="581.06" width="31.7" height="7.71" fill="#eb9a66"/>
<rect x="1799.3" y="581.06" width="31.7" height="7.71" fill="#e2553c"/>
<rect x="1265.5" y="588.47" width="31.7" height="7.71" fill="#bcd8e8"/>
<rect x="1296.9" y="588.47" width="31.7" height="7.71" fill="#dcedf0"/>
<rect x="1328.3" y="588.47" width="31.7" height="7.71" fill="#bcd8e8"/>
<rect x="1359.7" y="588.47" width="251.5" height="7.71" fill="#f3f3bd"/>
<rect x="1610.9" y="588.47" width="31.7" height="7.71" fill="#efd585"/>
<rect x="1642.3" y="588.47" width="94.5" height="7.71" fill="#dcedf0"/>
<rect x="1736.5" y="588.47" width="31.7" height="7.71" fill="#e2553c"/>
<rect x="1767.9" y="588.47" width="31.7" height="7.71" fill="#eb9a66"/>
<rect x="1799.3" y="588.47" width="31.7" height="7.71" fill="#e2553c"/>
<rect x="1265.5" y="595.88" width="94.5" height="7.71" fill="#bcd8e8"/>
<rect x="1359.7" y="595.88" width="94.5" height="7.71" fill="#f3f3bd"/>
<rect x="1453.9" y="595.88" width="31.7" height="7.71" fill="#efd585"/>
<rect x="1485.3" y="595.88" width="157.3" height="7.71" fill="#f3f3bd"/>
<rect x="1642.3" y="595.88" width="94.5" height="7.71" fill="#dcedf0"/>
<rect x="1736.5" y="595.88" width="31.7" height="7.71" fill="#e2553c"/>
<rect x="1767.9" y="595.88" width="31.7" height="7.71" fill="#eb9a66"/>
<rect x="1799.3" y="595.88" width="31.7" height="7.71" fill="#e2553c"/>
<rect x="1265.5" y="603.29" width="94.5" height="7.71" fill="#bcd8e8"/>
<rect x="1359.7" y="603.29" width="31.7" height="7.71" fill="#efd585"/>
<rect x="1391.1" y="603.29" width="63.1" height="7.71" fill="#f3f3bd"/>
<rect x="1453.9" y="603.29" width="31.7" height="7.71" fill="#eb9a66"/>
<rect x="1485.3" y="603.29" width="157.3" height="7.71" fill="#efd585"/>
<rect x="1642.3" y="603.29" width="31.7" height="7.71" fill="#bcd8e8"/>
<rect x="1673.7" y="603.29" width="63.1" height="7.71" fill="#dcedf0"/>
<rect x="1736.5" y="603.29" width="63.1" height="7.71" fill="#efd585"/>
<rect x="1799.3" y="603.29" width="31.7" height="7.71" fill="#eb9a66"/>
<rect x="1265.5" y="610.70" width="63.1" height="7.71" fill="#94bfdc"/>
<rect x="1328.3" y="610.70" width="31.7" height="7.71" fill="#bcd8e8"/>
<rect x="1359.7" y="610.70" width="188.7" height="7.71" fill="#f3f3bd"/>
<rect x="1548.1" y="610.70" width="31.7" height="7.71" fill="#eb9a66"/>
<rect x="1579.5" y="610.70" width="31.7" height="7.71" fill="#efd585"/>
<rect x="1610.9" y="610.70" width="31.7" height="7.71" fill="#eb9a66"/>
<rect x="1642.3" y="610.70" width="94.5" height="7.71" fill="#dcedf0"/>
<rect x="1736.5" y="610.70" width="31.7" height="7.71" fill="#efd585"/>
<rect x="1767.9" y="610.70" width="31.7" height="7.71" fill="#eb9a66"/>
<rect x="1799.3" y="610.70" width="31.7" height="7.71" fill="#efd585"/>
<rect x="1265.5" y="618.11" width="94.5" height="7.71" fill="#f3f3bd"/>
<rect x="1359.7" y="618.11" width="94.5" height="7.71" fill="#dcedf0"/>
<rect x="1453.9" y="618.11" width="94.5" height="7.71" fill="#f3f3bd"/>
<rect x="1548.1" y="618.11" width="94.5" height="7.71" fill="#dcedf0"/>
<rect x="1642.3" y="618.11" width="31.7" height="7.71" fill="#eb9a66"/>
<rect x="1673.7" y="618.11" width="31.7" height="7.71" fill="#e2553c"/>
<rect x="1705.1" y="618.11" width="31.7" height="7.71" fill="#dc3e2e"/>
<rect x="1736.5" y="618.11" width="31.7" height="7.71" fill="#bcd8e8"/>
<rect x="1767.9" y="618.11" width="63.1" height="7.71" fill="#dcedf0"/>
<rect x="1265.5" y="625.52" width="94.5" height="7.71" fill="#efd585"/>
<rect x="1359.7" y="625.52" width="94.5" height="7.71" fill="#dcedf0"/>
<rect x="1453.9" y="625.52" width="31.7" height="7.71" fill="#bcd8e8"/>
<rect x="1485.3" y="625.52" width="31.7" height="7.71" fill="#dcedf0"/>
<rect x="1516.7" y="625.52" width="31.7" height="7.71" fill="#bcd8e8"/>
<rect x="1548.1" y="625.52" width="31.7" height="7.71" fill="#94bfdc"/>
<rect x="1579.5" y="625.52" width="31.7" height="7.71" fill="#f3f3bd"/>
<rect x="1610.9" y="625.52" width="31.7" height="7.71" fill="#dcedf0"/>
<rect x="1642.3" y="625.52" width="31.7" height="7.71" fill="#f3f3bd"/>
<rect x="1673.7" y="625.52" width="31.7" height="7.71" fill="#dc3e2e"/>
<rect x="1705.1" y="625.52" width="31.7" height="7.71" fill="#eb9a66"/>
<rect x="1736.5" y="625.52" width="31.7" height="7.71" fill="#efd585"/>
<rect x="1767.9" y="625.52" width="31.7" height="7.71" fill="#f3f3bd"/>
<rect x="1799.3" y="625.52" width="31.7" height="7.71" fill="#efd585"/>
<rect x="1265.5" y="632.93" width="63.1" height="7.71" fill="#eb9a66"/>
<rect x="1328.3" y="632.93" width="31.7" height="7.71" fill="#efd585"/>
<rect x="1359.7" y="632.93" width="31.7" height="7.71" fill="#dcedf0"/>
<rect x="1391.1" y="632.93" width="31.7" height="7.71" fill="#bcd8e8"/>
<rect x="1422.5" y="632.93" width="220.1" height="7.71" fill="#dcedf0"/>
<rect x="1642.3" y="632.93" width="31.7" height="7.71" fill="#e2553c"/>
<rect x="1673.7" y="632.93" width="63.1" height="7.71" fill="#eb9a66"/>
<rect x="1736.5" y="632.93" width="94.5" height="7.71" fill="#f3f3bd"/>
<rect x="1265.5" y="640.34" width="31.7" height="7.71" fill="#eb9a66"/>
<rect x="1296.9" y="640.34" width="63.1" height="7.71" fill="#efd585"/>
<rect x="1359.7" y="640.34" width="31.7" height="7.71" fill="#f3f3bd"/>
<rect x="1391.1" y="640.34" width="31.7" height="7.71" fill="#bcd8e8"/>
<rect x="1422.5" y="640.34" width="31.7" height="7.71" fill="#f3f3bd"/>
<rect x="1453.9" y="640.34" width="157.3" height="7.71" fill="#dcedf0"/>
<rect x="1610.9" y="640.34" width="31.7" height="7.71" fill="#bcd8e8"/>
<rect x="1642.3" y="640.34" width="31.7" height="7.71" fill="#e2553c"/>
<rect x="1673.7" y="640.34" width="31.7" height="7.71" fill="#eb9a66"/>
<rect x="1705.1" y="640.34" width="31.7" height="7.71" fill="#efd585"/>
<rect x="1736.5" y="640.34" width="94.5" height="7.71" fill="#f3f3bd"/>
<rect x="1265.5" y="647.75" width="31.7" height="7.71" fill="#f3f3bd"/>
<rect x="1296.9" y="647.75" width="63.1" height="7.71" fill="#efd585"/>
<rect x="1359.7" y="647.75" width="63.1" height="7.71" fill="#dcedf0"/>
<rect x="1422.5" y="647.75" width="31.7" height="7.71" fill="#eb9a66"/>
<rect x="1453.9" y="647.75" width="31.7" height="7.71" fill="#dcedf0"/>
<rect x="1485.3" y="647.75" width="31.7" height="7.71" fill="#f3f3bd"/>
<rect x="1516.7" y="647.75" width="31.7" height="7.71" fill="#eb9a66"/>
<rect x="1548.1" y="647.75" width="63.1" height="7.71" fill="#f3f3bd"/>
<rect x="1610.9" y="647.75" width="31.7" height="7.71" fill="#bcd8e8"/>
<rect x="1642.3" y="647.75" width="31.7" height="7.71" fill="#eb9a66"/>
<rect x="1673.7" y="647.75" width="31.7" height="7.71" fill="#f3f3bd"/>
<rect x="1705.1" y="647.75" width="31.7" height="7.71" fill="#eb9a66"/>
<rect x="1736.5" y="647.75" width="31.7" height="7.71" fill="#6a98cb"/>
<rect x="1767.9" y="647.75" width="31.7" height="7.71" fill="#f3f3bd"/>
<rect x="1799.3" y="647.75" width="31.7" height="7.71" fill="#efd585"/>
<rect x="1265.5" y="655.16" width="31.7" height="7.71" fill="#eb9a66"/>
<rect x="1296.9" y="655.16" width="31.7" height="7.71" fill="#e2553c"/>
<rect x="1328.3" y="655.16" width="31.7" height="7.71" fill="#efd585"/>
<rect x="1359.7" y="655.16" width="31.7" height="7.71" fill="#f3f3bd"/>
<rect x="1391.1" y="655.16" width="31.7" height="7.71" fill="#dcedf0"/>
<rect x="1422.5" y="655.16" width="31.7" height="7.71" fill="#f3f3bd"/>
<rect x="1453.9" y="655.16" width="63.1" height="7.71" fill="#efd585"/>
<rect x="1516.7" y="655.16" width="125.9" height="7.71" fill="#f3f3bd"/>
<rect x="1642.3" y="655.16" width="31.7" height="7.71" fill="#eb9a66"/>
<rect x="1673.7" y="655.16" width="63.1" height="7.71" fill="#f3f3bd"/>
<rect x="1736.5" y="655.16" width="94.5" height="7.71" fill="#94bfdc"/>
<rect x="1265.5" y="662.57" width="31.7" height="7.71" fill="#dc3e2e"/>
<rect x="1296.9" y="662.57" width="31.7" height="7.71" fill="#efd585"/>
<rect x="1328.3" y="662.57" width="31.7" height="7.71" fill="#dc3e2e"/>
<rect x="1359.7" y="662.57" width="31.7" height="7.71" fill="#f3f3bd"/>
<rect x="1391.1" y="662.57" width="31.7" height="7.71" fill="#dcedf0"/>
<rect x="1422.5" y="662.57" width="31.7" height="7.71" fill="#f3f3bd"/>
<rect x="1453.9" y="662.57" width="63.1" height="7.71" fill="#dcedf0"/>
<rect x="1516.7" y="662.57" width="125.9" height="7.71" fill="#f3f3bd"/>
<rect x="1642.3" y="662.57" width="31.7" height="7.71" fill="#eb9a66"/>
<rect x="1673.7" y="662.57" width="63.1" height="7.71" fill="#f3f3bd"/>
<rect x="1736.5" y="662.57" width="63.1" height="7.71" fill="#dcedf0"/>
<rect x="1799.3" y="662.57" width="31.7" height="7.71" fill="#94bfdc"/>
<rect x="1265.5" y="669.98" width="94.5" height="7.71" fill="#dcedf0"/>
<rect x="1359.7" y="669.98" width="31.7" height="7.71" fill="#f3f3bd"/>
<rect x="1391.1" y="669.98" width="31.7" height="7.71" fill="#dcedf0"/>
<rect x="1422.5" y="669.98" width="31.7" height="7.71" fill="#dc3e2e"/>
<rect x="1453.9" y="669.98" width="31.7" height="7.71" fill="#dcedf0"/>
<rect x="1485.3" y="669.98" width="31.7" height="7.71" fill="#efd585"/>
<rect x="1516.7" y="669.98" width="157.3" height="7.71" fill="#f3f3bd"/>
<rect x="1673.7" y="669.98" width="94.5" height="7.71" fill="#dcedf0"/>
<rect x="1767.9" y="669.98" width="31.7" height="7.71" fill="#f3f3bd"/>
<rect x="1799.3" y="669.98" width="31.7" height="7.71" fill="#dcedf0"/>
<rect x="1265.5" y="677.39" width="94.5" height="7.71" fill="#dcedf0"/>
<rect x="1359.7" y="677.39" width="94.5" height="7.71" fill="#f3f3bd"/>
<rect x="1453.9" y="677.39" width="31.7" height="7.71" fill="#e2553c"/>
<rect x="1485.3" y="677.39" width="63.1" height="7.71" fill="#eb9a66"/>
<rect x="1548.1" y="677.39" width="31.7" height="7.71" fill="#efd585"/>
<rect x="1579.5" y="677.39" width="31.7" height="7.71" fill="#eb9a66"/>
<rect x="1610.9" y="677.39" width="31.7" height="7.71" fill="#efd585"/>
<rect x="1642.3" y="677.39" width="31.7" height="7.71" fill="#f3f3bd"/>
<rect x="1673.7" y="677.39" width="94.5" height="7.71" fill="#dcedf0"/>
<rect x="1767.9" y="677.39" width="31.7" height="7.71" fill="#eb9a66"/>
<rect x="1799.3" y="677.39" width="31.7" height="7.71" fill="#dcedf0"/>
<rect x="1265.5" y="684.80" width="31.7" height="7.71" fill="#f3f3bd"/>
<rect x="1296.9" y="684.80" width="31.7" height="7.71" fill="#efd585"/>
<rect x="1328.3" y="684.80" width="31.7" height="7.71" fill="#f3f3bd"/>
<rect x="1359.7" y="684.80" width="31.7" height="7.71" fill="#efd585"/>
<rect x="1391.1" y="684.80" width="63.1" height="7.71" fill="#f3f3bd"/>
<rect x="1453.9" y="684.80" width="31.7" height="7.71" fill="#e2553c"/>
<rect x="1485.3" y="684.80" width="31.7" height="7.71" fill="#eb9a66"/>
<rect x="1516.7" y="684.80" width="94.5" height="7.71" fill="#efd585"/>
<rect x="1610.9" y="684.80" width="63.1" height="7.71" fill="#f3f3bd"/>
<rect x="1673.7" y="684.80" width="31.7" height="7.71" fill="#bcd8e8"/>
<rect x="1705.1" y="684.80" width="31.7" height="7.71" fill="#dcedf0"/>
<rect x="1736.5" y="684.80" width="31.7" height="7.71" fill="#bcd8e8"/>
<rect x="1767.9" y="684.80" width="31.7" height="7.71" fill="#dcedf0"/>
<rect x="1799.3" y="684.80" width="31.7" height="7.71" fill="#bcd8e8"/>
<rect x="1265.5" y="692.21" width="188.7" height="7.71" fill="#f3f3bd"/>
<rect x="1453.9" y="692.21" width="188.7" height="7.71" fill="#efd585"/>
<rect x="1642.3" y="692.21" width="31.7" height="7.71" fill="#f3f3bd"/>
<rect x="1673.7" y="692.21" width="63.1" height="7.71" fill="#dcedf0"/>
<rect x="1736.5" y="692.21" width="94.5" height="7.71" fill="#94bfdc"/>
<rect x="1265.5" y="699.62" width="31.7" height="7.71" fill="#f3f3bd"/>
<rect x="1296.9" y="699.62" width="31.7" height="7.71" fill="#bcd8e8"/>
<rect x="1328.3" y="699.62" width="94.5" height="7.71" fill="#f3f3bd"/>
<rect x="1422.5" y="699.62" width="31.7" height="7.71" fill="#dcedf0"/>
<rect x="1453.9" y="699.62" width="31.7" height="7.71" fill="#e2553c"/>
<rect x="1485.3" y="699.62" width="31.7" height="7.71" fill="#dc3e2e"/>
<rect x="1516.7" y="699.62" width="31.7" height="7.71" fill="#eb9a66"/>
<rect x="1548.1" y="699.62" width="94.5" height="7.71" fill="#dcedf0"/>
<rect x="1642.3" y="699.62" width="31.7" height="7.71" fill="#efd585"/>
<rect x="1673.7" y="699.62" width="31.7" height="7.71" fill="#dcedf0"/>
<rect x="1705.1" y="699.62" width="31.7" height="7.71" fill="#f3f3bd"/>
<rect x="1736.5" y="699.62" width="31.7" height="7.71" fill="#efd585"/>
<rect x="1767.9" y="699.62" width="31.7" height="7.71" fill="#dcedf0"/>
<rect x="1799.3" y="699.62" width="31.7" height="7.71" fill="#efd585"/>
<rect x="1265.5" y="707.03" width="31.7" height="7.71" fill="#e2553c"/>
<rect x="1296.9" y="707.03" width="31.7" height="7.71" fill="#dcedf0"/>
<rect x="1328.3" y="707.03" width="31.7" height="7.71" fill="#efd585"/>
<rect x="1359.7" y="707.03" width="94.5" height="7.71" fill="#f3f3bd"/>
<rect x="1453.9" y="707.03" width="31.7" height="7.71" fill="#eb9a66"/>
<rect x="1485.3" y="707.03" width="94.5" height="7.71" fill="#f3f3bd"/>
<rect x="1579.5" y="707.03" width="31.7" height="7.71" fill="#eb9a66"/>
<rect x="1610.9" y="707.03" width="125.9" height="7.71" fill="#f3f3bd"/>
<rect x="1736.5" y="707.03" width="94.5" height="7.71" fill="#94bfdc"/>
<rect x="1265.5" y="714.44" width="31.7" height="7.71" fill="#efd585"/>
<rect x="1296.9" y="714.44" width="31.7" height="7.71" fill="#f3f3bd"/>
<rect x="1328.3" y="714.44" width="31.7" height="7.71" fill="#efd585"/>
<rect x="1359.7" y="714.44" width="63.1" height="7.71" fill="#f3f3bd"/>
<rect x="1422.5" y="714.44" width="63.1" height="7.71" fill="#efd585"/>
<rect x="1485.3" y="714.44" width="31.7" height="7.71" fill="#f3f3bd"/>
<rect x="1516.7" y="714.44" width="31.7" height="7.71" fill="#eb9a66"/>
<rect x="1548.1" y="714.44" width="94.5" height="7.71" fill="#f3f3bd"/>
<rect x="1642.3" y="714.44" width="31.7" height="7.71" fill="#e2553c"/>
<rect x="1673.7" y="714.44" width="63.1" height="7.71" fill="#f3f3bd"/>
<rect x="1736.5" y="714.44" width="94.5" height="7.71" fill="#94bfdc"/>
<rect x="1265.5" y="721.85" width="31.7" height="7.71" fill="#efd585"/>
<rect x="1296.9" y="721.85" width="31.7" height="7.71" fill="#eb9a66"/>
<rect x="1328.3" y="721.85" width="31.7" height="7.71" fill="#efd585"/>
<rect x="1359.7" y="721.85" width="94.5" height="7.71" fill="#f3f3bd"/>
<rect x="1453.9" y="721.85" width="31.7" height="7.71" fill="#efd585"/>
<rect x="1485.3" y="721.85" width="157.3" height="7.71" fill="#f3f3bd"/>
<rect x="1642.3" y="721.85" width="94.5" height="7.71" fill="#efd585"/>
<rect x="1736.5" y="721.85" width="94.5" height="7.71" fill="#94bfdc"/>
<rect x="1265.5" y="729.26" width="63.1" height="7.71" fill="#f3f3bd"/>
<rect x="1328.3" y="729.26" width="31.7" height="7.71" fill="#efd585"/>
<rect x="1359.7" y="729.26" width="314.3" height="7.71" fill="#f3f3bd"/>
<rect x="1673.7" y="729.26" width="63.1" height="7.71" fill="#efd585"/>
<rect x="1736.5" y="729.26" width="63.1" height="7.71" fill="#94bfdc"/>
<rect x="1799.3" y="729.26" width="31.7" height="7.71" fill="#6a98cb"/>
<rect x="1265.5" y="736.67" width="31.7" height="7.71" fill="#f3f3bd"/>
<rect x="1296.9" y="736.67" width="94.5" height="7.71" fill="#efd585"/>
<rect x="1391.1" y="736.67" width="63.1" height="7.71" fill="#f3f3bd"/>
<rect x="1453.9" y="736.67" width="31.7" height="7.71" fill="#eb9a66"/>
<rect x="1485.3" y="736.67" width="125.9" height="7.71" fill="#f3f3bd"/>
<rect x="1610.9" y="736.67" width="125.9" height="7.71" fill="#efd585"/>
<rect x="1736.5" y="736.67" width="94.5" height="7.71" fill="#94bfdc"/>
<rect x="1265.5" y="744.08" width="94.5" height="7.71" fill="#efd585"/>
<rect x="1359.7" y="744.08" width="282.9" height="7.71" fill="#f3f3bd"/>
<rect x="1642.3" y="744.08" width="31.7" height="7.71" fill="#eb9a66"/>
<rect x="1673.7" y="744.08" width="63.1" height="7.71" fill="#efd585"/>
<rect x="1736.5" y="744.08" width="63.1" height="7.71" fill="#6a98cb"/>
<rect x="1799.3" y="744.08" width="31.7" height="7.71" fill="#94bfdc"/>
<rect x="1265.5" y="751.49" width="31.7" height="7.71" fill="#f3f3bd"/>
<rect x="1296.9" y="751.49" width="63.1" height="7.71" fill="#efd585"/>
<rect x="1359.7" y="751.49" width="314.3" height="7.71" fill="#f3f3bd"/>
<rect x="1673.7" y="751.49" width="63.1" height="7.71" fill="#efd585"/>
<rect x="1736.5" y="751.49" width="94.5" height="7.71" fill="#6a98cb"/>
<rect x="1265.5" y="758.90" width="125.9" height="7.71" fill="#efd585"/>
<rect x="1391.1" y="758.90" width="282.9" height="7.71" fill="#f3f3bd"/>
<rect x="1673.7" y="758.90" width="63.1" height="7.71" fill="#efd585"/>
<rect x="1736.5" y="758.90" width="94.5" height="7.71" fill="#6a98cb"/>
<rect x="1265.5" y="766.31" width="31.7" height="7.71" fill="#efd585"/>
<rect x="1296.9" y="766.31" width="31.7" height="7.71" fill="#dcedf0"/>
<rect x="1328.3" y="766.31" width="31.7" height="7.71" fill="#efd585"/>
<rect x="1359.7" y="766.31" width="31.7" height="7.71" fill="#f3f3bd"/>
<rect x="1391.1" y="766.31" width="31.7" height="7.71" fill="#eb9a66"/>
<rect x="1422.5" y="766.31" width="31.7" height="7.71" fill="#f3f3bd"/>
<rect x="1453.9" y="766.31" width="31.7" height="7.71" fill="#efd585"/>
<rect x="1485.3" y="766.31" width="63.1" height="7.71" fill="#dcedf0"/>
<rect x="1548.1" y="766.31" width="31.7" height="7.71" fill="#94bfdc"/>
<rect x="1579.5" y="766.31" width="94.5" height="7.71" fill="#f3f3bd"/>
<rect x="1673.7" y="766.31" width="31.7" height="7.71" fill="#efd585"/>
<rect x="1705.1" y="766.31" width="31.7" height="7.71" fill="#dc3e2e"/>
<rect x="1736.5" y="766.31" width="31.7" height="7.71" fill="#94bfdc"/>
<rect x="1767.9" y="766.31" width="31.7" height="7.71" fill="#dcedf0"/>
<rect x="1799.3" y="766.31" width="31.7" height="7.71" fill="#bcd8e8"/>
<rect x="1265.5" y="773.72" width="94.5" height="7.71" fill="#dcedf0"/>
<rect x="1359.7" y="773.72" width="31.7" height="7.71" fill="#efd585"/>
<rect x="1391.1" y="773.72" width="31.7" height="7.71" fill="#eb9a66"/>
<rect x="1422.5" y="773.72" width="31.7" height="7.71" fill="#f3f3bd"/>
<rect x="1453.9" y="773.72" width="31.7" height="7.71" fill="#eb9a66"/>
<rect x="1485.3" y="773.72" width="63.1" height="7.71" fill="#efd585"/>
<rect x="1548.1" y="773.72" width="125.9" height="7.71" fill="#f3f3bd"/>
<rect x="1673.7" y="773.72" width="63.1" height="7.71" fill="#efd585"/>
<rect x="1736.5" y="773.72" width="31.7" height="7.71" fill="#6a98cb"/>
<rect x="1767.9" y="773.72" width="31.7" height="7.71" fill="#94bfdc"/>
<rect x="1799.3" y="773.72" width="31.7" height="7.71" fill="#dcedf0"/>
<line x1="1359.7" y1="74.5" x2="1359.7" y2="782.6" stroke="#111" stroke-width="3"/>
<line x1="1453.9" y1="74.5" x2="1453.9" y2="782.6" stroke="#111" stroke-width="3"/>
<line x1="1548.1" y1="74.5" x2="1548.1" y2="782.6" stroke="#111" stroke-width="3"/>
<line x1="1642.3" y1="74.5" x2="1642.3" y2="782.6" stroke="#111" stroke-width="3"/>
<line x1="1736.5" y1="74.5" x2="1736.5" y2="782.6" stroke="#111" stroke-width="3"/>
<rect x="1265.9" y="91.5" width="564.1" height="691.1" fill="none" stroke="#000" stroke-width="3.5"/>
<text x="1312.6" y="72.3" font-size="20.5" font-weight="bold" text-anchor="middle">parental</text>
<text x="1406.8" y="72.3" font-size="20.5" font-weight="bold" text-anchor="middle">RFP</text>
<text x="1501.0" y="72.3" font-size="20.5" font-weight="bold" text-anchor="middle">Plag1</text>
<text x="1595.2" y="72.3" font-size="20.5" font-weight="bold" text-anchor="middle">Plagl1</text>
<text x="1689.4" y="72.3" font-size="20.5" font-weight="bold" text-anchor="middle">Plagl2</text>
<text x="1783.6" y="72.3" font-size="20.5" font-weight="bold" text-anchor="middle">ZR</text>
<text x="1547.2" y="27" font-size="35" font-weight="bold" text-anchor="middle">Mouse RGC expressing</text>
<text x="1153" y="81" font-size="50" font-weight="bold" fill="#231f20">b</text>
<text transform="translate(1241.5,421) rotate(-90)" font-size="34.4" font-weight="bold" text-anchor="middle">93 ZFTA-RELA gene signature</text>
<defs><linearGradient id="cbar" x1="0" y1="0" x2="0" y2="1">
<stop offset="0" stop-color="#d73027"/><stop offset="0.11" stop-color="#e4573d"/><stop offset="0.21" stop-color="#eb8e5a"/>
<stop offset="0.31" stop-color="#efc77b"/><stop offset="0.40" stop-color="#f1ec9c"/><stop offset="0.50" stop-color="#f1f8cd"/>
<stop offset="0.60" stop-color="#e8f6e0"/><stop offset="0.70" stop-color="#dcf0f3"/><stop offset="0.79" stop-color="#afd3e6"/>
<stop offset="0.89" stop-color="#80afd4"/><stop offset="1" stop-color="#5681bf"/></linearGradient></defs>
<rect x="1885.2" y="495.2" width="19.8" height="290.5" fill="url(#cbar)"/>
<text x="1913.4" y="534.5" font-size="18" font-weight="bold">2</text>
<text x="1913.4" y="591.0" font-size="18" font-weight="bold">1</text>
<text x="1913.4" y="647.5" font-size="18" font-weight="bold">0</text>
<text x="1913.4" y="703.0" font-size="18" font-weight="bold">−1</text>
<text x="1913.4" y="759.0" font-size="18" font-weight="bold">−2</text>
<text transform="translate(1869.6,640) rotate(-90)" font-size="20" font-weight="bold" text-anchor="middle">z-score</text>
<path d="M86.4,1010.5 L86.4,1300.7 L610.1,1300.7" fill="none" stroke="#000" stroke-width="2.4"/>
<line x1="79.9" y1="1300.7" x2="86.4" y2="1300.7" stroke="#000" stroke-width="2.2"/>
<text x="76.4" y="1307.7" font-size="19" font-weight="bold" text-anchor="end">0</text>
<line x1="79.9" y1="1247.9" x2="86.4" y2="1247.9" stroke="#000" stroke-width="2.2"/>
<text x="76.4" y="1254.9" font-size="19" font-weight="bold" text-anchor="end">20</text>
<line x1="79.9" y1="1195.1" x2="86.4" y2="1195.1" stroke="#000" stroke-width="2.2"/>
<text x="76.4" y="1202.1" font-size="19" font-weight="bold" text-anchor="end">40</text>
<line x1="79.9" y1="1142.3" x2="86.4" y2="1142.3" stroke="#000" stroke-width="2.2"/>
<text x="76.4" y="1149.3" font-size="19" font-weight="bold" text-anchor="end">60</text>
<line x1="79.9" y1="1089.5" x2="86.4" y2="1089.5" stroke="#000" stroke-width="2.2"/>
<text x="76.4" y="1096.5" font-size="19" font-weight="bold" text-anchor="end">80</text>
<line x1="79.9" y1="1036.7" x2="86.4" y2="1036.7" stroke="#000" stroke-width="2.2"/>
<text x="76.4" y="1043.7" font-size="19" font-weight="bold" text-anchor="end">100</text>
<line x1="86.4" y1="1300.7" x2="86.4" y2="1307.2" stroke="#000" stroke-width="2.2"/>
<line x1="138.8" y1="1300.7" x2="138.8" y2="1307.2" stroke="#000" stroke-width="2.2"/>
<line x1="191.1" y1="1300.7" x2="191.1" y2="1307.2" stroke="#000" stroke-width="2.2"/>
<line x1="243.5" y1="1300.7" x2="243.5" y2="1307.2" stroke="#000" stroke-width="2.2"/>
<line x1="295.9" y1="1300.7" x2="295.9" y2="1307.2" stroke="#000" stroke-width="2.2"/>
<line x1="348.2" y1="1300.7" x2="348.2" y2="1307.2" stroke="#000" stroke-width="2.2"/>
<line x1="400.6" y1="1300.7" x2="400.6" y2="1307.2" stroke="#000" stroke-width="2.2"/>
<line x1="453.0" y1="1300.7" x2="453.0" y2="1307.2" stroke="#000" stroke-width="2.2"/>
<line x1="505.4" y1="1300.7" x2="505.4" y2="1307.2" stroke="#000" stroke-width="2.2"/>
<line x1="557.7" y1="1300.7" x2="557.7" y2="1307.2" stroke="#000" stroke-width="2.2"/>
<line x1="610.1" y1="1300.7" x2="610.1" y2="1307.2" stroke="#000" stroke-width="2.2"/>
<text x="86.4" y="1328.5" font-size="19" font-weight="bold" text-anchor="middle">0</text>
<text x="138.8" y="1328.5" font-size="19" font-weight="bold" text-anchor="middle">20</text>
<text x="191.1" y="1328.5" font-size="19" font-weight="bold" text-anchor="middle">40</text>
<text x="243.5" y="1328.5" font-size="19" font-weight="bold" text-anchor="middle">60</text>
<text x="295.9" y="1328.5" font-size="19" font-weight="bold" text-anchor="middle">80</text>
<text x="348.2" y="1328.5" font-size="19" font-weight="bold" text-anchor="middle">100</text>
<text x="400.6" y="1328.5" font-size="19" font-weight="bold" text-anchor="middle">120</text>
<text x="453.0" y="1328.5" font-size="19" font-weight="bold" text-anchor="middle">140</text>
<text x="505.4" y="1328.5" font-size="19" font-weight="bold" text-anchor="middle">160</text>
<text x="557.7" y="1328.5" font-size="19" font-weight="bold" text-anchor="middle">180</text>
<text x="610.1" y="1328.5" font-size="19" font-weight="bold" text-anchor="middle">200</text>
<path d="M86.4,1036.7 L217.3,1036.7 L217.3,1063.1 L222.6,1063.1 L222.6,1089.5 L248.7,1089.5 L248.7,1115.9 L282.8,1115.9 L282.8,1142.3 L285.4,1142.3 L285.4,1195.1 L384.9,1195.1 L384.9,1221.5 L411.1,1221.5 L411.1,1247.9 L434.7,1247.9 L434.7,1274.3 L610.1,1274.3" fill="none" stroke="#3b4cb8" stroke-width="2"/>
<path d="M86.4,1036.7 L219.9,1036.7 L219.9,1052.3 L222.6,1052.3 L222.6,1067.9 L227.8,1067.9 L227.8,1083.2 L256.6,1083.2 L256.6,1098.7 L267.1,1098.7 L267.1,1129.9 L269.7,1129.9 L269.7,1145.5 L303.7,1145.5 L303.7,1161.0 L319.4,1161.0 L319.4,1176.4 L327.3,1176.4 L327.3,1191.9 L366.6,1191.9 L366.6,1223.1 L403.2,1223.1 L403.2,1238.7 L439.9,1238.7 L439.9,1254.2 L458.2,1254.2 L458.2,1269.5 L489.6,1269.5 L489.6,1285.1 L610.1,1285.1" fill="none" stroke="#e6402a" stroke-width="2"/>
<line x1="217.3" y1="1057.6" x2="217.3" y2="1063.1" stroke="#000" stroke-width="2.2"/>
<line x1="222.6" y1="1084.0" x2="222.6" y2="1089.5" stroke="#000" stroke-width="2.2"/>
<line x1="248.7" y1="1110.4" x2="248.7" y2="1115.9" stroke="#000" stroke-width="2.2"/>
<line x1="282.8" y1="1136.8" x2="282.8" y2="1142.3" stroke="#000" stroke-width="2.2"/>
<line x1="285.4" y1="1189.6" x2="285.4" y2="1195.1" stroke="#000" stroke-width="2.2"/>
<line x1="384.9" y1="1216.0" x2="384.9" y2="1221.5" stroke="#000" stroke-width="2.2"/>
<line x1="411.1" y1="1242.4" x2="411.1" y2="1247.9" stroke="#000" stroke-width="2.2"/>
<line x1="434.7" y1="1268.8" x2="434.7" y2="1274.3" stroke="#000" stroke-width="2.2"/>
<line x1="219.9" y1="1046.8" x2="219.9" y2="1052.3" stroke="#000" stroke-width="2.2"/>
<line x1="222.6" y1="1062.4" x2="222.6" y2="1067.9" stroke="#000" stroke-width="2.2"/>
<line x1="227.8" y1="1077.7" x2="227.8" y2="1083.2" stroke="#000" stroke-width="2.2"/>
<line x1="256.6" y1="1093.2" x2="256.6" y2="1098.7" stroke="#000" stroke-width="2.2"/>
<line x1="267.1" y1="1124.4" x2="267.1" y2="1129.9" stroke="#000" stroke-width="2.2"/>
<line x1="269.7" y1="1140.0" x2="269.7" y2="1145.5" stroke="#000" stroke-width="2.2"/>
<line x1="303.7" y1="1155.5" x2="303.7" y2="1161.0" stroke="#000" stroke-width="2.2"/>
<line x1="319.4" y1="1170.9" x2="319.4" y2="1176.4" stroke="#000" stroke-width="2.2"/>
<line x1="327.3" y1="1186.4" x2="327.3" y2="1191.9" stroke="#000" stroke-width="2.2"/>
<line x1="366.6" y1="1217.6" x2="366.6" y2="1223.1" stroke="#000" stroke-width="2.2"/>
<line x1="403.2" y1="1233.2" x2="403.2" y2="1238.7" stroke="#000" stroke-width="2.2"/>
<line x1="439.9" y1="1248.7" x2="439.9" y2="1254.2" stroke="#000" stroke-width="2.2"/>
<line x1="458.2" y1="1264.0" x2="458.2" y2="1269.5" stroke="#000" stroke-width="2.2"/>
<line x1="489.6" y1="1279.6" x2="489.6" y2="1285.1" stroke="#000" stroke-width="2.2"/>
<text x="93" y="1290" font-size="19.5" font-weight="bold">p=0.8211</text>
<text x="349" y="1358" font-size="18.3" font-weight="bold" text-anchor="middle">Time (days)</text>
<text transform="translate(36.3,1159) rotate(-90)" font-size="20.3" font-weight="bold" text-anchor="middle">% reaching neurologic endpoint</text>
<line x1="87" y1="1395.2" x2="113" y2="1395.2" stroke="#3b4cb8" stroke-width="4" stroke-linecap="round"/>
<rect x="98" y="1390.2" width="3.6" height="5" fill="#000"/>
<text x="123.8" y="1404.5" font-size="27.2" font-weight="bold">GLAST-PBase, pBCAG-ZR, Plagl1 KO (n=10)</text>
<line x1="87" y1="1427.4" x2="113" y2="1427.4" stroke="#e6402a" stroke-width="4" stroke-linecap="round"/>
<rect x="98" y="1422.4" width="3.6" height="5" fill="#000"/>
<text x="123.8" y="1436.8" font-size="27.2" font-weight="bold">GLAST-PBase, pBCAG-ZR (n=17)</text>
<text x="7" y="943.5" font-size="50" font-weight="bold" fill="#231f20">c</text>
<path d="M748.5,1007.7 L748.5,1303.2 L1281.8,1303.2" fill="none" stroke="#000" stroke-width="2.4"/>
<line x1="742.0" y1="1303.2" x2="748.5" y2="1303.2" stroke="#000" stroke-width="2.2"/>
<text x="738.6" y="1310.2" font-size="19" font-weight="bold" text-anchor="end">0</text>
<line x1="742.0" y1="1249.5" x2="748.5" y2="1249.5" stroke="#000" stroke-width="2.2"/>
<text x="738.6" y="1256.5" font-size="19" font-weight="bold" text-anchor="end">20</text>
<line x1="742.0" y1="1195.8" x2="748.5" y2="1195.8" stroke="#000" stroke-width="2.2"/>
<text x="738.6" y="1202.8" font-size="19" font-weight="bold" text-anchor="end">40</text>
<line x1="742.0" y1="1142.1" x2="748.5" y2="1142.1" stroke="#000" stroke-width="2.2"/>
<text x="738.6" y="1149.1" font-size="19" font-weight="bold" text-anchor="end">60</text>
<line x1="742.0" y1="1088.4" x2="748.5" y2="1088.4" stroke="#000" stroke-width="2.2"/>
<text x="738.6" y="1095.4" font-size="19" font-weight="bold" text-anchor="end">80</text>
<line x1="742.0" y1="1034.7" x2="748.5" y2="1034.7" stroke="#000" stroke-width="2.2"/>
<text x="738.6" y="1041.7" font-size="19" font-weight="bold" text-anchor="end">100</text>
<line x1="748.5" y1="1303.2" x2="748.5" y2="1309.7" stroke="#000" stroke-width="2.2"/>
<line x1="791.2" y1="1303.2" x2="791.2" y2="1309.7" stroke="#000" stroke-width="2.2"/>
<line x1="833.9" y1="1303.2" x2="833.9" y2="1309.7" stroke="#000" stroke-width="2.2"/>
<line x1="876.6" y1="1303.2" x2="876.6" y2="1309.7" stroke="#000" stroke-width="2.2"/>
<line x1="919.3" y1="1303.2" x2="919.3" y2="1309.7" stroke="#000" stroke-width="2.2"/>
<line x1="962.0" y1="1303.2" x2="962.0" y2="1309.7" stroke="#000" stroke-width="2.2"/>
<line x1="1004.7" y1="1303.2" x2="1004.7" y2="1309.7" stroke="#000" stroke-width="2.2"/>
<line x1="1047.4" y1="1303.2" x2="1047.4" y2="1309.7" stroke="#000" stroke-width="2.2"/>
<line x1="1090.1" y1="1303.2" x2="1090.1" y2="1309.7" stroke="#000" stroke-width="2.2"/>
<line x1="1132.9" y1="1303.2" x2="1132.9" y2="1309.7" stroke="#000" stroke-width="2.2"/>
<line x1="1175.6" y1="1303.2" x2="1175.6" y2="1309.7" stroke="#000" stroke-width="2.2"/>
<line x1="1218.3" y1="1303.2" x2="1218.3" y2="1309.7" stroke="#000" stroke-width="2.2"/>
<line x1="1261.0" y1="1303.2" x2="1261.0" y2="1309.7" stroke="#000" stroke-width="2.2"/>
<text x="748.5" y="1331" font-size="19" font-weight="bold" text-anchor="middle">0</text>
<text x="791.2" y="1331" font-size="19" font-weight="bold" text-anchor="middle">20</text>
<text x="833.9" y="1331" font-size="19" font-weight="bold" text-anchor="middle">40</text>
<text x="876.6" y="1331" font-size="19" font-weight="bold" text-anchor="middle">60</text>
<text x="919.3" y="1331" font-size="19" font-weight="bold" text-anchor="middle">80</text>
<text x="962.0" y="1331" font-size="19" font-weight="bold" text-anchor="middle">100</text>
<text x="1004.7" y="1331" font-size="19" font-weight="bold" text-anchor="middle">120</text>
<text x="1047.4" y="1331" font-size="19" font-weight="bold" text-anchor="middle">140</text>
<text x="1090.1" y="1331" font-size="19" font-weight="bold" text-anchor="middle">160</text>
<text x="1132.9" y="1331" font-size="19" font-weight="bold" text-anchor="middle">180</text>
<text x="1175.6" y="1331" font-size="19" font-weight="bold" text-anchor="middle">200</text>
<text x="1218.3" y="1331" font-size="19" font-weight="bold" text-anchor="middle">220</text>
<text x="1261.0" y="1331" font-size="19" font-weight="bold" text-anchor="middle">240</text>
<path d="M748.5,1034.7 L757.0,1034.7 L757.0,1088.4 L857.4,1088.4 L857.4,1142.1 L915.1,1142.1 L915.1,1249.5 L1228.9,1249.5 L1228.9,1303.2" fill="none" stroke="#e6402a" stroke-width="2"/>
<path d="M748.5,1034.7 L844.6,1034.7 L844.6,1088.4 L898.0,1088.4 L898.0,1142.1 L904.4,1142.1 L904.4,1195.8 L949.2,1195.8 L949.2,1249.5 L985.5,1249.5 L985.5,1303.2" fill="none" stroke="#3b4cb8" stroke-width="2"/>
<text x="757.7" y="1292" font-size="19.5" font-weight="bold">p=0.7778</text>
<text x="1015.8" y="1362" font-size="18.3" font-weight="bold" text-anchor="middle">Time (days)</text>
<text transform="translate(696,1163) rotate(-90)" font-size="20.3" font-weight="bold" text-anchor="middle">% reaching neurologic endpoint</text>
<line x1="739" y1="1391.2" x2="765.5" y2="1391.2" stroke="#3b4cb8" stroke-width="4" stroke-linecap="round"/>
<rect x="750.5" y="1386.2" width="3.6" height="5" fill="#000"/>
<text x="776.6" y="1400.5" font-size="27.2" font-weight="bold">mRGC ZR (n=5)</text>
<line x1="739" y1="1423.3" x2="765.5" y2="1423.3" stroke="#e6402a" stroke-width="4" stroke-linecap="round"/>
<rect x="750.5" y="1418.3" width="3.6" height="5" fill="#000"/>
<text x="776.6" y="1432.6" font-size="27.2" font-weight="bold">mRGC, ZR+Plagl1 KO (n=5)</text>
<text x="660" y="943.5" font-size="50" font-weight="bold" fill="#231f20">d</text>
<path d="M1419,1007.7 L1419,1306.8" fill="none" stroke="#000" stroke-width="2.4"/>
<line x1="1413.7" y1="1306.8" x2="1960" y2="1306.8" stroke="#000" stroke-width="2.4"/>
<line x1="1412.5" y1="1306.8" x2="1419" y2="1306.8" stroke="#000" stroke-width="2.2"/>
<text x="1408.5" y="1314.1" font-size="20" font-weight="bold" text-anchor="end">0</text>
<line x1="1412.5" y1="1252.2" x2="1419" y2="1252.2" stroke="#000" stroke-width="2.2"/>
<text x="1408.5" y="1259.5" font-size="20" font-weight="bold" text-anchor="end">20</text>
<line x1="1412.5" y1="1197.6" x2="1419" y2="1197.6" stroke="#000" stroke-width="2.2"/>
<text x="1408.5" y="1204.9" font-size="20" font-weight="bold" text-anchor="end">40</text>
<line x1="1412.5" y1="1143.0" x2="1419" y2="1143.0" stroke="#000" stroke-width="2.2"/>
<text x="1408.5" y="1150.3" font-size="20" font-weight="bold" text-anchor="end">60</text>
<line x1="1412.5" y1="1088.4" x2="1419" y2="1088.4" stroke="#000" stroke-width="2.2"/>
<text x="1408.5" y="1095.7" font-size="20" font-weight="bold" text-anchor="end">80</text>
<line x1="1412.5" y1="1033.8" x2="1419" y2="1033.8" stroke="#000" stroke-width="2.2"/>
<text x="1408.5" y="1041.1" font-size="20" font-weight="bold" text-anchor="end">100</text>
<line x1="1440.3" y1="1306.8" x2="1440.3" y2="1313.3" stroke="#000" stroke-width="2.2"/>
<rect x="1430.0" y="1304.3" width="20.6" height="2.5" fill="#000"/>
<text x="1440.3" y="1337.5" font-size="20" font-weight="bold" text-anchor="middle">1</text>
<text x="1440.3" y="1300.5" font-size="17" fill="#e03a2a" text-anchor="middle">X</text>
<line x1="1473.4" y1="1306.8" x2="1473.4" y2="1313.3" stroke="#000" stroke-width="2.2"/>
<rect x="1463.1" y="1304.3" width="20.6" height="2.5" fill="#000"/>
<text x="1473.4" y="1337.5" font-size="20" font-weight="bold" text-anchor="middle">2</text>
<text x="1473.4" y="1300.5" font-size="17" fill="#e03a2a" text-anchor="middle">X</text>
<line x1="1506.6" y1="1306.8" x2="1506.6" y2="1313.3" stroke="#000" stroke-width="2.2"/>
<rect x="1496.3" y="1111.6" width="20.6" height="195.2" fill="#000"/>
<text x="1506.6" y="1337.5" font-size="20" font-weight="bold" text-anchor="middle">3</text>
<line x1="1539.7" y1="1306.8" x2="1539.7" y2="1313.3" stroke="#000" stroke-width="2.2"/>
<rect x="1529.4" y="1156.6" width="20.6" height="150.2" fill="#000"/>
<text x="1539.7" y="1337.5" font-size="20" font-weight="bold" text-anchor="middle">4</text>
<line x1="1572.8" y1="1306.8" x2="1572.8" y2="1313.3" stroke="#000" stroke-width="2.2"/>
<rect x="1562.5" y="1304.3" width="20.6" height="2.5" fill="#000"/>
<text x="1572.8" y="1337.5" font-size="20" font-weight="bold" text-anchor="middle">5</text>
<text x="1572.8" y="1300.5" font-size="17" fill="#e03a2a" text-anchor="middle">X</text>
<line x1="1606.0" y1="1306.8" x2="1606.0" y2="1313.3" stroke="#000" stroke-width="2.2"/>
<rect x="1595.7" y="1304.3" width="20.6" height="2.5" fill="#000"/>
<text x="1606.0" y="1337.5" font-size="20" font-weight="bold" text-anchor="middle">6</text>
<text x="1606.0" y="1300.5" font-size="17" fill="#e03a2a" text-anchor="middle">X</text>
<line x1="1639.1" y1="1306.8" x2="1639.1" y2="1313.3" stroke="#000" stroke-width="2.2"/>
<rect x="1628.8" y="1214.0" width="20.6" height="92.8" fill="#000"/>
<rect x="1629.8" y="1123.5" width="18.6" height="90.5" fill="#a9a9a9" stroke="#000" stroke-width="2"/>
<line x1="1629.8" y1="1214.0" x2="1648.4" y2="1214.0" stroke="#ccc" stroke-width="1"/>
<text x="1639.1" y="1337.5" font-size="20" font-weight="bold" text-anchor="middle">7</text>
<line x1="1672.2" y1="1306.8" x2="1672.2" y2="1313.3" stroke="#000" stroke-width="2.2"/>
<rect x="1661.9" y="1107.5" width="20.6" height="199.3" fill="#000"/>
<text x="1672.2" y="1337.5" font-size="20" font-weight="bold" text-anchor="middle">8</text>
<line x1="1705.3" y1="1306.8" x2="1705.3" y2="1313.3" stroke="#000" stroke-width="2.2"/>
<rect x="1695.0" y="1301.3" width="20.6" height="5.5" fill="#000"/>
<text x="1705.3" y="1337.5" font-size="20" font-weight="bold" text-anchor="middle">9</text>
<text x="1705.3" y="1300.5" font-size="17" fill="#e03a2a" text-anchor="middle">X</text>
<line x1="1738.5" y1="1306.8" x2="1738.5" y2="1313.3" stroke="#000" stroke-width="2.2"/>
<rect x="1728.2" y="1248.1" width="20.6" height="58.7" fill="#000"/>
<rect x="1729.2" y="1197.2" width="18.6" height="50.9" fill="#a9a9a9" stroke="#000" stroke-width="2"/>
<line x1="1729.2" y1="1248.1" x2="1747.8" y2="1248.1" stroke="#ccc" stroke-width="1"/>
<text x="1738.5" y="1337.5" font-size="20" font-weight="bold" text-anchor="middle">10</text>
<line x1="1771.6" y1="1306.8" x2="1771.6" y2="1313.3" stroke="#000" stroke-width="2.2"/>
<rect x="1761.3" y="1082.9" width="20.6" height="223.9" fill="#000"/>
<text x="1771.6" y="1337.5" font-size="20" font-weight="bold" text-anchor="middle">11</text>
<line x1="1804.7" y1="1306.8" x2="1804.7" y2="1313.3" stroke="#000" stroke-width="2.2"/>
<rect x="1794.4" y="1114.3" width="20.6" height="192.5" fill="#000"/>
<text x="1804.7" y="1337.5" font-size="20" font-weight="bold" text-anchor="middle">12</text>
<line x1="1837.9" y1="1306.8" x2="1837.9" y2="1313.3" stroke="#000" stroke-width="2.2"/>
<rect x="1827.6" y="1254.9" width="20.6" height="51.9" fill="#000"/>
<text x="1837.9" y="1337.5" font-size="20" font-weight="bold" text-anchor="middle">13</text>
<line x1="1871.0" y1="1306.8" x2="1871.0" y2="1313.3" stroke="#000" stroke-width="2.2"/>
<rect x="1860.7" y="1252.2" width="20.6" height="54.6" fill="#000"/>
<text x="1871.0" y="1337.5" font-size="20" font-weight="bold" text-anchor="middle">14</text>
<line x1="1904.1" y1="1306.8" x2="1904.1" y2="1313.3" stroke="#000" stroke-width="2.2"/>
<rect x="1893.8" y="1263.1" width="20.6" height="43.7" fill="#000"/>
<rect x="1894.8" y="1251.8" width="18.6" height="11.3" fill="#a9a9a9" stroke="#000" stroke-width="2"/>
<line x1="1894.8" y1="1263.1" x2="1913.4" y2="1263.1" stroke="#ccc" stroke-width="1"/>
<text x="1904.1" y="1337.5" font-size="20" font-weight="bold" text-anchor="middle">15</text>
<line x1="1937.2" y1="1306.8" x2="1937.2" y2="1313.3" stroke="#000" stroke-width="2.2"/>
<rect x="1927.0" y="1081.6" width="20.6" height="225.2" fill="#000"/>
<text x="1937.2" y="1337.5" font-size="20" font-weight="bold" text-anchor="middle">16</text>
<text x="1688.7" y="1370" font-size="18.8" font-weight="bold" text-anchor="middle">Mouse</text>
<text transform="translate(1351.3,1167) rotate(-90)" font-size="18.1" font-weight="bold" text-anchor="middle">% editing</text>
<rect x="1444.5" y="1014.3" width="23" height="14" fill="#000"/>
<rect x="1445" y="1040.2" width="22.5" height="13.3" fill="#a9a9a9" stroke="#000" stroke-width="1.6"/>
<text x="1480.9" y="1028" font-size="20.2" font-weight="bold">out-of-frame mutation</text>
<text x="1480.9" y="1053.7" font-size="20.2" font-weight="bold">in-frame mutation</text>
<text x="1311" y="943.5" font-size="50" font-weight="bold" fill="#231f20">e</text>
<rect x="61.5" y="1532" width="531.3" height="358.8" fill="#000"/>
<defs>
<filter id="speck" x="0" y="0" width="100%" height="100%" filterUnits="objectBoundingBox">
<feTurbulence type="fractalNoise" baseFrequency="0.55" numOctaves="2" seed="11" result="t"/>
<feColorMatrix in="t" type="matrix" values="0 0 0 0 1  0 0 0 0 1  0 0 0 0 1  3.2 0 0 0 -1.05" result="w"/>
<feComposite in="w" in2="SourceGraphic" operator="in"/>
</filter>
<filter id="speck2" x="0" y="0" width="100%" height="100%" filterUnits="objectBoundingBox">
<feTurbulence type="fractalNoise" baseFrequency="0.5" numOctaves="2" seed="4" result="t"/>
<feColorMatrix in="t" type="matrix" values="0 0 0 0 1  0 0 0 0 1  0 0 0 0 1  3.6 0 0 0 -1.45" result="w"/>
<feComposite in="w" in2="SourceGraphic" operator="in"/>
</filter>
<pattern id="gridpat" x="177" y="1590" width="3.1" height="3.1" patternUnits="userSpaceOnUse">
<rect width="3.1" height="3.1" fill="none" stroke="#000" stroke-width="0.6" stroke-opacity="0.6"/>
</pattern>
</defs>
<defs>
<filter id="etex" x="0" y="0" width="100%" height="100%" filterUnits="objectBoundingBox">
<feTurbulence type="fractalNoise" baseFrequency="0.07" numOctaves="4" seed="3" result="t"/>
<feColorMatrix in="t" type="matrix" values="0 0 0 0 1  0 0 0 0 1  0 0 0 0 1  2.6 0 0 0 -0.95" result="w"/>
<feComposite in="w" in2="SourceGraphic" operator="in"/>
</filter>
<filter id="eblur" x="-20%" y="-50%" width="140%" height="200%"><feGaussianBlur stdDeviation="1.0"/></filter>
</defs>
<path d="M135,1690 C135,1645 150,1605 178,1588 C205,1574 260,1572 300,1580 L326,1624 C345,1618 360,1614 380,1614 L385,1594 C395,1586 410,1590 416,1606 L418,1620 C445,1630 468,1645 474,1668 C476,1700 462,1728 445,1740 C420,1758 385,1770 355,1772 C320,1782 280,1786 245,1780 C205,1772 175,1760 158,1742 C143,1728 135,1710 135,1690 Z" fill="#262626"/>
<path d="M135,1690 C135,1645 150,1605 178,1588 C205,1574 260,1572 300,1580 L326,1624 C345,1618 360,1614 380,1614 L385,1594 C395,1586 410,1590 416,1606 L418,1620 C445,1630 468,1645 474,1668 C476,1700 462,1728 445,1740 C420,1758 385,1770 355,1772 C320,1782 280,1786 245,1780 C205,1772 175,1760 158,1742 C143,1728 135,1710 135,1690 Z" fill="#fff" filter="url(#etex)" opacity="0.55"/>
<path d="M135,1690 C135,1645 150,1605 178,1588 C205,1574 260,1572 300,1580 L326,1624 C345,1618 360,1614 380,1614 L385,1594 C395,1586 410,1590 416,1606 L418,1620 C445,1630 468,1645 474,1668 C476,1700 462,1728 445,1740 C420,1758 385,1770 355,1772 C320,1782 280,1786 245,1780 C205,1772 175,1760 158,1742 C143,1728 135,1710 135,1690 Z" fill="#fff" filter="url(#speck)" opacity="0.35"/>
<path d="M160,1735 C200,1762 260,1770 330,1765 C380,1760 430,1745 460,1712 L468,1722 C445,1752 400,1770 355,1775 C300,1786 240,1784 200,1772 C180,1764 166,1752 160,1735Z" fill="#b8b8b8" opacity="0.75"/>
<path d="M226,1742 C270,1752 330,1752 400,1738 C430,1730 450,1718 462,1700 L466,1716 C450,1738 420,1752 380,1760 C330,1768 270,1768 226,1760Z" fill="#bbb" opacity="0.55"/>
<path d="M140,1690 C140,1650 152,1615 176,1596 L184,1602 C166,1622 156,1660 158,1698 C160,1722 168,1738 180,1750 L170,1754 C152,1738 140,1715 140,1690Z" fill="#ddd" opacity="0.6"/>
<ellipse cx="166" cy="1702" rx="9" ry="24" fill="#000" transform="rotate(8 166 1702)"/>
<g fill="#000" filter="url(#eblur)">
<rect x="356" y="1625" width="4" height="75" rx="2"/>
<rect x="343" y="1656" width="30" height="3" rx="2"/>
<rect x="363" y="1676" width="22" height="3" rx="2"/>
<rect x="372" y="1705" width="50" height="3.5" rx="2"/>
<rect x="363" y="1720" width="28" height="3.5" rx="2"/>
<rect x="362" y="1744" width="26" height="4" rx="2"/>
<rect x="364" y="1758" width="42" height="3.5" rx="2"/>
<rect x="386" y="1688" width="18" height="8" rx="2"/>
<rect x="327" y="1656" width="16" height="20" rx="2"/>
<rect x="397" y="1654" width="10" height="13" rx="2"/>
<rect x="420" y="1626" width="30" height="4" rx="2"/>
<rect x="300" y="1764" width="60" height="3" rx="2"/>
</g>
<ellipse cx="384" cy="1598" rx="5" ry="5" fill="#ccc" opacity="0.8"/>
<ellipse cx="402" cy="1604" rx="12" ry="10" fill="#bbb" opacity="0.7"/>
<rect x="297" y="1589" width="26" height="48" fill="#000"/>
<path d="M328,1590 C332,1580 340,1578 342,1586 C344,1596 338,1606 330,1604Z" fill="#bbb"/>
<g><path d="M177,1590 L287,1590 L287,1636 L322,1636 L322,1737 L177,1737Z" fill="#c6e448"/><path d="M226,1590 L287,1590 L287,1630 L262,1632 L240,1626 L228,1612Z" fill="#ecd89a"/><path d="M236,1604 L252,1600 L262,1612 L258,1622 L246,1628 L238,1620Z" fill="#eaa486" opacity="0.9"/><path d="M177,1597 L195,1597 L199,1612 L205,1628 L212,1638 L200,1641 L183,1638 L177,1630Z" fill="#4ec8c0"/><path d="M177,1590 L217,1590 C223,1598 224,1615 221,1625 C218,1633 212,1637 206,1634 C200,1628 196,1616 195,1604 L190,1597 L177,1597 Z" fill="#e83030"/><path d="M179,1607 L189,1607 L190,1615 L194,1622 L186,1623 L179,1618Z" fill="#000"/><path d="M185,1640 L211,1639 L209,1648 L195,1651 L186,1649Z" fill="#000"/><path d="M211,1590 L225,1590 L225,1658 L214,1660 L211,1645Z" fill="#c2ec40"/><ellipse cx="243" cy="1603.5" rx="8.5" ry="7.5" fill="#2f9a48"/><ellipse cx="244" cy="1604" rx="3" ry="3" fill="#c6e448"/><path d="M253,1606 L266,1604 L276,1614 L277,1646 L268,1650 L256,1642 L252,1626Z" fill="#e88a3c"/><path d="M256,1625 L270,1623 L273,1638 L262,1641Z" fill="#58c858"/><path d="M287,1636 L322,1640 L322,1676 L300,1678 L288,1662Z" fill="#e88a3c"/><path d="M230,1656 L252,1654 L258,1668 L256,1688 L240,1690 L232,1676Z" fill="#80d8e0"/><path d="M255,1648 L287,1646 L292,1672 L287,1700 L262,1702 L256,1680Z" fill="#eaa286"/><path d="M263,1698 L287,1697 L288,1710 L264,1711Z" fill="#e88a3c"/><path d="M256,1702 L322,1702 L322,1724 L262,1724Z" fill="#80d8e0"/><path d="M218,1724 L322,1724 L322,1737 L218,1737Z" fill="#c0a8e0"/><path d="M177,1657 C200,1655 225,1655 237,1660 L237,1737 L177,1737Z" fill="#a8b4e6"/><path d="M198,1677 L213,1677 L213,1722 L200,1722Z" fill="#c454c4"/><path d="M199,1677 L211,1677 L210,1690 L199,1690Z" fill="#000"/><path d="M238,1692 L246,1692 L255,1732 L238,1732Z" fill="#000"/><path d="M200,1709 L207,1709 L214,1736 L200,1736Z" fill="#000"/><path d="M177,1706 L199,1706 L199,1736 L177,1736Z" fill="#dcec40"/><ellipse cx="231" cy="1644" rx="7.2" ry="12.5" fill="#5a4ec8"/><rect x="287" y="1590" width="35" height="45" fill="#000"/><rect x="289" y="1636" width="6" height="6" fill="#000"/><rect x="276" y="1683" width="3" height="3" fill="#000"/><rect x="315" y="1686" width="3" height="3" fill="#000"/></g>
<rect x="177" y="1590" width="145" height="147" fill="url(#gridpat)"/>
<rect x="175.3" y="1561.7" width="148.2" height="177.6" fill="none" stroke="#fff" stroke-width="3" stroke-dasharray="3.5 3"/>
<circle cx="500.7" cy="1561.9" r="4.6" fill="#efd873"/>
<text x="509.0" y="1568.4" font-size="16.5" fill="#fff">R0</text>
<circle cx="500.7" cy="1584.3" r="4.6" fill="#f0a283"/>
<text x="509.0" y="1590.8" font-size="16.5" fill="#fff">R1</text>
<circle cx="500.7" cy="1606.3" r="4.6" fill="#a3b3e3"/>
<text x="509.0" y="1612.8" font-size="16.5" fill="#fff">R2</text>
<circle cx="500.7" cy="1628.3" r="4.6" fill="#f08a3c"/>
<text x="509.0" y="1634.8" font-size="16.5" fill="#fff">R3</text>
<circle cx="500.7" cy="1650" r="4.6" fill="#e6e640"/>
<text x="509.0" y="1656.5" font-size="16.5" fill="#fff">R4</text>
<circle cx="500.7" cy="1671.4" r="4.6" fill="#c2e044"/>
<text x="509.0" y="1677.9" font-size="16.5" fill="#fff">R5</text>
<circle cx="500.7" cy="1693.4" r="4.6" fill="#e03030"/>
<text x="509.0" y="1699.9" font-size="16.5" fill="#fff">R6</text>
<circle cx="549" cy="1561.9" r="4.6" fill="#82d8e2"/>
<text x="557.3" y="1568.4" font-size="16.5" fill="#fff">R7</text>
<circle cx="549" cy="1584.3" r="4.6" fill="#d272d2"/>
<text x="557.3" y="1590.8" font-size="16.5" fill="#fff">R8</text>
<circle cx="549" cy="1606.3" r="4.6" fill="#44c8c0"/>
<text x="557.3" y="1612.8" font-size="16.5" fill="#fff">R9</text>
<circle cx="549" cy="1628.3" r="4.6" fill="#2f9040"/>
<text x="557.3" y="1634.8" font-size="16.5" fill="#fff">R10</text>
<circle cx="549" cy="1650" r="4.6" fill="#5050c0"/>
<text x="557.3" y="1656.5" font-size="16.5" fill="#fff">R11</text>
<circle cx="549" cy="1671.4" r="4.6" fill="#52c452"/>
<text x="557.3" y="1677.9" font-size="16.5" fill="#fff">R12</text>
<circle cx="549" cy="1693.4" r="4.6" fill="#c244c2"/>
<text x="557.3" y="1699.9" font-size="16.5" fill="#fff">R13</text>
<g><rect x="533.2" y="1767.0" width="1.5" height="1.5" fill="#d8d040"/><rect x="519.9" y="1763.9" width="1.5" height="1.5" fill="#d8d040"/><rect x="528.6" y="1748.9" width="1.5" height="1.5" fill="#d8d040"/><rect x="556.7" y="1753.9" width="1.5" height="1.5" fill="#d8d040"/><rect x="531.4" y="1760.8" width="1.5" height="1.5" fill="#d8d040"/><rect x="546.6" y="1751.6" width="1.5" height="1.5" fill="#d8d040"/><rect x="539.6" y="1740.3" width="1.5" height="1.5" fill="#d8d040"/><rect x="527.2" y="1746.7" width="1.5" height="1.5" fill="#d8d040"/><rect x="514.7" y="1733.9" width="1.5" height="1.5" fill="#d8d040"/><rect x="510.9" y="1749.1" width="1.5" height="1.5" fill="#d8d040"/><rect x="529.8" y="1748.2" width="1.5" height="1.5" fill="#d8d040"/><rect x="532.9" y="1736.0" width="1.5" height="1.5" fill="#d8d040"/><rect x="531.0" y="1754.9" width="1.5" height="1.5" fill="#d8d040"/><rect x="541.8" y="1741.8" width="1.5" height="1.5" fill="#d8d040"/><rect x="526.8" y="1727.8" width="1.5" height="1.5" fill="#d8d040"/><rect x="525.5" y="1725.6" width="1.5" height="1.5" fill="#d8d040"/><rect x="513.5" y="1765.2" width="1.5" height="1.5" fill="#d8d040"/><rect x="503.4" y="1761.6" width="1.5" height="1.5" fill="#d8d040"/><rect x="536.3" y="1748.3" width="1.5" height="1.5" fill="#d8d040"/><rect x="538.0" y="1758.3" width="1.5" height="1.5" fill="#d8d040"/><rect x="545.6" y="1749.2" width="1.5" height="1.5" fill="#d8d040"/><rect x="524.3" y="1744.7" width="1.5" height="1.5" fill="#d8d040"/><rect x="519.2" y="1751.5" width="1.5" height="1.5" fill="#d8d040"/><rect x="521.8" y="1764.8" width="1.5" height="1.5" fill="#d8d040"/><rect x="507.7" y="1738.9" width="1.5" height="1.5" fill="#d8d040"/><rect x="519.6" y="1726.9" width="1.5" height="1.5" fill="#d8d040"/><rect x="556.7" y="1723.1" width="1.5" height="1.5" fill="#d8d040"/><rect x="528.3" y="1745.7" width="1.5" height="1.5" fill="#d8d040"/><rect x="553.5" y="1728.2" width="1.5" height="1.5" fill="#d8d040"/><rect x="545.9" y="1743.2" width="1.5" height="1.5" fill="#d8d040"/><rect x="530.0" y="1743.9" width="1.5" height="1.5" fill="#d8d040"/><rect x="540.3" y="1738.3" width="1.5" height="1.5" fill="#d8d040"/><rect x="531.0" y="1756.2" width="1.5" height="1.5" fill="#d8d040"/><rect x="555.9" y="1723.1" width="1.5" height="1.5" fill="#d8d040"/><rect x="551.8" y="1763.4" width="1.5" height="1.5" fill="#d8d040"/><rect x="525.7" y="1755.7" width="1.5" height="1.5" fill="#d8d040"/><rect x="525.9" y="1771.8" width="1.5" height="1.5" fill="#d8d040"/><rect x="534.7" y="1749.4" width="1.5" height="1.5" fill="#d8d040"/><rect x="529.0" y="1749.6" width="1.5" height="1.5" fill="#d8d040"/><rect x="529.7" y="1741.5" width="1.5" height="1.5" fill="#d8d040"/><rect x="558.8" y="1729.1" width="1.5" height="1.5" fill="#d8d040"/><rect x="485.1" y="1750.5" width="1.5" height="1.5" fill="#d8d040"/><rect x="530.1" y="1756.5" width="1.5" height="1.5" fill="#d8d040"/><rect x="529.3" y="1750.2" width="1.5" height="1.5" fill="#d8d040"/><rect x="536.3" y="1763.6" width="1.5" height="1.5" fill="#d8d040"/><rect x="526.2" y="1747.5" width="1.5" height="1.5" fill="#d8d040"/><rect x="557.2" y="1758.4" width="1.5" height="1.5" fill="#d8d040"/><rect x="519.2" y="1779.9" width="1.5" height="1.5" fill="#d8d040"/><rect x="542.1" y="1744.9" width="1.5" height="1.5" fill="#d8d040"/><rect x="516.7" y="1755.6" width="1.5" height="1.5" fill="#d8d040"/><rect x="521.2" y="1739.3" width="1.5" height="1.5" fill="#d8d040"/><rect x="515.2" y="1745.9" width="1.5" height="1.5" fill="#d8d040"/><rect x="546.4" y="1746.8" width="1.5" height="1.5" fill="#d8d040"/><rect x="513.2" y="1760.0" width="1.5" height="1.5" fill="#d8d040"/><rect x="532.9" y="1762.1" width="1.5" height="1.5" fill="#d8d040"/><rect x="547.6" y="1750.0" width="1.5" height="1.5" fill="#d8d040"/><rect x="530.1" y="1751.5" width="1.5" height="1.5" fill="#d8d040"/><rect x="517.3" y="1760.0" width="1.5" height="1.5" fill="#d8d040"/><rect x="549.8" y="1754.1" width="1.5" height="1.5" fill="#d8d040"/><rect x="528.9" y="1748.9" width="1.5" height="1.5" fill="#d8d040"/><rect x="521.9" y="1742.4" width="1.5" height="1.5" fill="#d8d040"/><rect x="526.8" y="1741.9" width="1.5" height="1.5" fill="#d8d040"/><rect x="526.3" y="1733.1" width="1.5" height="1.5" fill="#d8d040"/><rect x="536.6" y="1752.6" width="1.5" height="1.5" fill="#d8d040"/><rect x="517.0" y="1724.4" width="1.5" height="1.5" fill="#d8d040"/><rect x="531.9" y="1765.2" width="1.5" height="1.5" fill="#d8d040"/><rect x="522.5" y="1746.2" width="1.5" height="1.5" fill="#d8d040"/><rect x="524.6" y="1759.8" width="1.5" height="1.5" fill="#d8d040"/><rect x="520.1" y="1763.8" width="1.5" height="1.5" fill="#d8d040"/><rect x="528.1" y="1763.1" width="1.5" height="1.5" fill="#d8d040"/><rect x="532.4" y="1749.2" width="1.5" height="1.5" fill="#d8d040"/><rect x="512.8" y="1743.8" width="1.5" height="1.5" fill="#d8d040"/><rect x="528.6" y="1759.9" width="1.5" height="1.5" fill="#d8d040"/><rect x="535.2" y="1743.6" width="1.5" height="1.5" fill="#d8d040"/><rect x="537.3" y="1763.8" width="1.5" height="1.5" fill="#d8d040"/><rect x="530.1" y="1746.7" width="1.5" height="1.5" fill="#d8d040"/><rect x="526.9" y="1761.7" width="1.5" height="1.5" fill="#d8d040"/><rect x="539.0" y="1740.8" width="1.5" height="1.5" fill="#d8d040"/><rect x="536.9" y="1746.2" width="1.5" height="1.5" fill="#d8d040"/><rect x="522.2" y="1766.9" width="1.5" height="1.5" fill="#d8d040"/><rect x="542.7" y="1743.3" width="1.5" height="1.5" fill="#d8d040"/><rect x="533.0" y="1758.0" width="1.5" height="1.5" fill="#d8d040"/><rect x="523.7" y="1750.6" width="1.5" height="1.5" fill="#d8d040"/><rect x="540.7" y="1730.5" width="1.5" height="1.5" fill="#d8d040"/><rect x="536.3" y="1760.9" width="1.5" height="1.5" fill="#d8d040"/><rect x="538.6" y="1735.9" width="1.5" height="1.5" fill="#d8d040"/><rect x="536.1" y="1741.6" width="1.5" height="1.5" fill="#d8d040"/><rect x="539.4" y="1759.3" width="1.5" height="1.5" fill="#d8d040"/><rect x="534.8" y="1742.8" width="1.5" height="1.5" fill="#d8d040"/><rect x="524.3" y="1762.2" width="1.5" height="1.5" fill="#d8d040"/><rect x="520.3" y="1757.9" width="1.5" height="1.5" fill="#d8d040"/><rect x="538.6" y="1748.7" width="1.5" height="1.5" fill="#d8d040"/><rect x="563.1" y="1752.8" width="1.5" height="1.5" fill="#d8d040"/><rect x="559.9" y="1727.8" width="1.5" height="1.5" fill="#d8d040"/><rect x="502.8" y="1763.8" width="1.5" height="1.5" fill="#d8d040"/><rect x="540.3" y="1748.3" width="1.5" height="1.5" fill="#d8d040"/><rect x="531.3" y="1729.2" width="1.5" height="1.5" fill="#d8d040"/><rect x="523.8" y="1739.6" width="1.5" height="1.5" fill="#d8d040"/><rect x="529.1" y="1762.6" width="1.5" height="1.5" fill="#d8d040"/><rect x="532.7" y="1756.5" width="1.5" height="1.5" fill="#d8d040"/><rect x="522.9" y="1746.8" width="1.5" height="1.5" fill="#d8d040"/><rect x="533.5" y="1748.6" width="1.5" height="1.5" fill="#d8d040"/><rect x="548.4" y="1741.5" width="1.5" height="1.5" fill="#d8d040"/><rect x="556.6" y="1740.2" width="1.5" height="1.5" fill="#d8d040"/><rect x="545.8" y="1742.7" width="1.5" height="1.5" fill="#d8d040"/><rect x="553.4" y="1753.6" width="1.5" height="1.5" fill="#d8d040"/><rect x="537.2" y="1760.9" width="1.5" height="1.5" fill="#d8d040"/><rect x="523.7" y="1739.5" width="1.5" height="1.5" fill="#d8d040"/><rect x="505.7" y="1766.6" width="1.5" height="1.5" fill="#d8d040"/><rect x="523.0" y="1744.9" width="1.5" height="1.5" fill="#d8d040"/><rect x="531.6" y="1775.9" width="1.5" height="1.5" fill="#d8d040"/><rect x="509.5" y="1755.0" width="1.5" height="1.5" fill="#d8d040"/><rect x="526.9" y="1758.4" width="1.5" height="1.5" fill="#d8d040"/><rect x="508.6" y="1747.2" width="1.5" height="1.5" fill="#d8d040"/><rect x="542.9" y="1770.7" width="1.5" height="1.5" fill="#d8d040"/><rect x="552.8" y="1741.7" width="1.5" height="1.5" fill="#d8d040"/><rect x="532.7" y="1750.7" width="1.5" height="1.5" fill="#d8d040"/><rect x="514.1" y="1734.7" width="1.5" height="1.5" fill="#d8d040"/><rect x="541.8" y="1754.9" width="1.5" height="1.5" fill="#d8d040"/><rect x="530.1" y="1766.6" width="1.5" height="1.5" fill="#d8d040"/><rect x="519.0" y="1758.3" width="1.5" height="1.5" fill="#d8d040"/><rect x="532.1" y="1751.3" width="1.5" height="1.5" fill="#d8d040"/><rect x="538.4" y="1754.1" width="1.5" height="1.5" fill="#d8d040"/><rect x="535.5" y="1755.2" width="1.5" height="1.5" fill="#d8d040"/><rect x="557.2" y="1748.3" width="1.5" height="1.5" fill="#d8d040"/><rect x="545.2" y="1759.3" width="1.5" height="1.5" fill="#d8d040"/><rect x="527.5" y="1761.5" width="1.5" height="1.5" fill="#d8d040"/><rect x="520.9" y="1765.9" width="1.5" height="1.5" fill="#d8d040"/><rect x="521.5" y="1746.1" width="1.5" height="1.5" fill="#d8d040"/><rect x="536.2" y="1762.0" width="1.5" height="1.5" fill="#d8d040"/><rect x="543.8" y="1762.7" width="1.5" height="1.5" fill="#d8d040"/><rect x="529.3" y="1740.5" width="1.5" height="1.5" fill="#d8d040"/><rect x="539.1" y="1755.6" width="1.5" height="1.5" fill="#d8d040"/><rect x="519.6" y="1763.7" width="1.5" height="1.5" fill="#d8d040"/><rect x="534.6" y="1740.5" width="1.5" height="1.5" fill="#d8d040"/><rect x="537.7" y="1736.1" width="1.5" height="1.5" fill="#d8d040"/><rect x="520.6" y="1756.8" width="1.5" height="1.5" fill="#d8d040"/><rect x="511.8" y="1752.5" width="1.5" height="1.5" fill="#d8d040"/><rect x="514.4" y="1760.8" width="1.5" height="1.5" fill="#d8d040"/><rect x="522.5" y="1754.2" width="1.5" height="1.5" fill="#d8d040"/><rect x="512.5" y="1747.9" width="1.5" height="1.5" fill="#d8d040"/><rect x="544.3" y="1757.5" width="1.5" height="1.5" fill="#d8d040"/><rect x="508.1" y="1763.1" width="1.5" height="1.5" fill="#d8d040"/><rect x="543.6" y="1747.5" width="1.5" height="1.5" fill="#d8d040"/><rect x="550.4" y="1739.3" width="1.5" height="1.5" fill="#d8d040"/><rect x="530.9" y="1765.4" width="1.5" height="1.5" fill="#d8d040"/><rect x="549.0" y="1767.4" width="1.5" height="1.5" fill="#d8d040"/><rect x="517.8" y="1730.6" width="1.5" height="1.5" fill="#d8d040"/><rect x="537.1" y="1734.8" width="1.5" height="1.5" fill="#d8d040"/><rect x="530.3" y="1736.6" width="1.5" height="1.5" fill="#d8d040"/><rect x="545.8" y="1761.6" width="1.5" height="1.5" fill="#d8d040"/><rect x="539.2" y="1752.2" width="1.5" height="1.5" fill="#d8d040"/><rect x="532.6" y="1748.4" width="1.5" height="1.5" fill="#d8d040"/><rect x="537.0" y="1755.0" width="1.5" height="1.5" fill="#d8d040"/><rect x="538.0" y="1746.9" width="1.5" height="1.5" fill="#d8d040"/><rect x="556.7" y="1755.4" width="1.5" height="1.5" fill="#d8d040"/><rect x="550.1" y="1768.0" width="1.5" height="1.5" fill="#d8d040"/><rect x="520.6" y="1731.8" width="1.5" height="1.5" fill="#d8d040"/><rect x="548.3" y="1747.3" width="1.5" height="1.5" fill="#d8d040"/><rect x="533.1" y="1748.9" width="1.5" height="1.5" fill="#d8d040"/><rect x="533.7" y="1737.7" width="1.5" height="1.5" fill="#d8d040"/><rect x="530.7" y="1746.4" width="1.5" height="1.5" fill="#d8d040"/><rect x="531.8" y="1724.0" width="1.5" height="1.5" fill="#d8d040"/><rect x="542.7" y="1756.0" width="1.5" height="1.5" fill="#d8d040"/><rect x="509.6" y="1743.2" width="1.5" height="1.5" fill="#d8d040"/><rect x="532.4" y="1759.5" width="1.5" height="1.5" fill="#d8d040"/><rect x="532.0" y="1768.6" width="1.5" height="1.5" fill="#d8d040"/><rect x="532.3" y="1740.0" width="1.5" height="1.5" fill="#d8d040"/><rect x="523.2" y="1760.9" width="1.5" height="1.5" fill="#d8d040"/><rect x="524.0" y="1762.1" width="1.5" height="1.5" fill="#d8d040"/><rect x="545.3" y="1759.1" width="1.5" height="1.5" fill="#d8d040"/><rect x="545.2" y="1749.9" width="1.5" height="1.5" fill="#d8d040"/><rect x="531.9" y="1744.9" width="1.5" height="1.5" fill="#d8d040"/><rect x="524.1" y="1733.2" width="1.5" height="1.5" fill="#d8d040"/><rect x="524.8" y="1739.1" width="1.5" height="1.5" fill="#d8d040"/><rect x="513.4" y="1753.8" width="1.5" height="1.5" fill="#d8d040"/><rect x="537.9" y="1747.9" width="1.5" height="1.5" fill="#d8d040"/><rect x="549.8" y="1763.3" width="1.5" height="1.5" fill="#d8d040"/><rect x="545.6" y="1744.8" width="1.5" height="1.5" fill="#d8d040"/><rect x="512.6" y="1758.7" width="1.5" height="1.5" fill="#d8d040"/><rect x="536.0" y="1760.7" width="1.5" height="1.5" fill="#d8d040"/><rect x="537.4" y="1767.1" width="1.5" height="1.5" fill="#d8d040"/><rect x="528.3" y="1760.0" width="1.5" height="1.5" fill="#d8d040"/><rect x="520.4" y="1724.3" width="1.5" height="1.5" fill="#d8d040"/><rect x="526.2" y="1770.0" width="1.5" height="1.5" fill="#d8d040"/><rect x="510.2" y="1764.2" width="1.5" height="1.5" fill="#d8d040"/><rect x="523.2" y="1747.2" width="1.5" height="1.5" fill="#d8d040"/><rect x="532.6" y="1754.5" width="1.5" height="1.5" fill="#d8d040"/><rect x="519.3" y="1753.5" width="1.5" height="1.5" fill="#d8d040"/><rect x="537.8" y="1762.0" width="1.5" height="1.5" fill="#d8d040"/><rect x="522.2" y="1770.6" width="1.5" height="1.5" fill="#d8d040"/><rect x="556.8" y="1781.0" width="1.5" height="1.5" fill="#d8d040"/><rect x="514.6" y="1754.1" width="1.5" height="1.5" fill="#d8d040"/><rect x="507.8" y="1756.5" width="1.5" height="1.5" fill="#d8d040"/><rect x="539.2" y="1738.2" width="1.5" height="1.5" fill="#d8d040"/><rect x="511.4" y="1754.2" width="1.5" height="1.5" fill="#d8d040"/><rect x="540.2" y="1742.5" width="1.5" height="1.5" fill="#d8d040"/><rect x="528.6" y="1721.7" width="1.5" height="1.5" fill="#d8d040"/><rect x="522.8" y="1753.8" width="1.5" height="1.5" fill="#d8d040"/><rect x="534.0" y="1771.0" width="1.5" height="1.5" fill="#d8d040"/><rect x="517.2" y="1725.0" width="1.5" height="1.5" fill="#d8d040"/><rect x="537.9" y="1744.9" width="1.5" height="1.5" fill="#d8d040"/><rect x="535.7" y="1760.6" width="1.5" height="1.5" fill="#d8d040"/><rect x="539.8" y="1769.3" width="1.5" height="1.5" fill="#d8d040"/><rect x="549.6" y="1732.0" width="1.5" height="1.5" fill="#d8d040"/><rect x="531.2" y="1776.0" width="1.5" height="1.5" fill="#d8d040"/><rect x="526.7" y="1763.6" width="1.5" height="1.5" fill="#d8d040"/><rect x="531.3" y="1747.0" width="1.5" height="1.5" fill="#d8d040"/><rect x="552.6" y="1764.5" width="1.5" height="1.5" fill="#d8d040"/><rect x="528.8" y="1762.9" width="1.5" height="1.5" fill="#d8d040"/><rect x="514.9" y="1743.3" width="1.5" height="1.5" fill="#d8d040"/><rect x="543.7" y="1752.5" width="1.5" height="1.5" fill="#d8d040"/><rect x="518.2" y="1757.4" width="1.5" height="1.5" fill="#d8d040"/><rect x="536.3" y="1767.4" width="1.5" height="1.5" fill="#d8d040"/><rect x="544.4" y="1748.7" width="1.5" height="1.5" fill="#d8d040"/><rect x="525.7" y="1750.3" width="1.5" height="1.5" fill="#d8d040"/><rect x="529.0" y="1769.5" width="1.5" height="1.5" fill="#d8d040"/><rect x="552.6" y="1768.3" width="1.5" height="1.5" fill="#d8d040"/><rect x="536.9" y="1749.1" width="1.5" height="1.5" fill="#d8d040"/><rect x="543.7" y="1747.8" width="1.5" height="1.5" fill="#d8d040"/><rect x="535.1" y="1732.0" width="1.5" height="1.5" fill="#d8d040"/><rect x="526.5" y="1769.3" width="1.5" height="1.5" fill="#d8d040"/><rect x="518.7" y="1734.1" width="1.5" height="1.5" fill="#d8d040"/><rect x="529.9" y="1772.0" width="1.5" height="1.5" fill="#d8d040"/><rect x="550.9" y="1747.7" width="1.5" height="1.5" fill="#d8d040"/><rect x="525.8" y="1750.7" width="1.5" height="1.5" fill="#d8d040"/><rect x="519.9" y="1752.4" width="1.5" height="1.5" fill="#d8d040"/><rect x="528.1" y="1734.3" width="1.5" height="1.5" fill="#d8d040"/><rect x="524.5" y="1748.9" width="1.5" height="1.5" fill="#d8d040"/><rect x="520.8" y="1738.6" width="1.5" height="1.5" fill="#d8d040"/><rect x="543.8" y="1774.7" width="1.5" height="1.5" fill="#d8d040"/><rect x="528.3" y="1746.9" width="1.5" height="1.5" fill="#d8d040"/><rect x="538.5" y="1749.2" width="1.5" height="1.5" fill="#d8d040"/><rect x="521.8" y="1768.7" width="1.5" height="1.5" fill="#d8d040"/><rect x="518.5" y="1743.2" width="1.5" height="1.5" fill="#d8d040"/><rect x="523.4" y="1741.4" width="1.5" height="1.5" fill="#d8d040"/><rect x="528.9" y="1758.9" width="1.5" height="1.5" fill="#d8d040"/><rect x="550.7" y="1760.0" width="1.5" height="1.5" fill="#d8d040"/><rect x="532.5" y="1737.0" width="1.5" height="1.5" fill="#d8d040"/><rect x="531.2" y="1740.7" width="1.5" height="1.5" fill="#d8d040"/><rect x="530.7" y="1763.7" width="1.5" height="1.5" fill="#d8d040"/><rect x="534.7" y="1749.5" width="1.5" height="1.5" fill="#d8d040"/><rect x="522.2" y="1751.7" width="1.5" height="1.5" fill="#d8d040"/><rect x="533.4" y="1740.9" width="1.5" height="1.5" fill="#d8d040"/><rect x="525.4" y="1762.6" width="1.5" height="1.5" fill="#d8d040"/><rect x="510.4" y="1746.7" width="1.5" height="1.5" fill="#d8d040"/><rect x="516.8" y="1770.6" width="1.5" height="1.5" fill="#d8d040"/><rect x="539.9" y="1758.2" width="1.5" height="1.5" fill="#d8d040"/><rect x="537.2" y="1755.4" width="1.5" height="1.5" fill="#d8d040"/><rect x="535.8" y="1733.0" width="1.5" height="1.5" fill="#d8d040"/><rect x="535.4" y="1759.1" width="1.5" height="1.5" fill="#d8d040"/><rect x="513.4" y="1761.9" width="1.5" height="1.5" fill="#d8d040"/><rect x="540.7" y="1733.7" width="1.5" height="1.5" fill="#d8d040"/><rect x="525.9" y="1748.3" width="1.5" height="1.5" fill="#d8d040"/><rect x="525.1" y="1756.7" width="1.5" height="1.5" fill="#d8d040"/><rect x="515.4" y="1749.3" width="1.5" height="1.5" fill="#d8d040"/><rect x="534.9" y="1760.7" width="1.5" height="1.5" fill="#d8d040"/><rect x="532.6" y="1749.1" width="1.5" height="1.5" fill="#d8d040"/><rect x="541.0" y="1728.1" width="1.5" height="1.5" fill="#d8d040"/><rect x="544.1" y="1748.3" width="1.5" height="1.5" fill="#d8d040"/><rect x="515.7" y="1746.8" width="1.5" height="1.5" fill="#d8d040"/><rect x="508.2" y="1727.5" width="1.5" height="1.5" fill="#d8d040"/><rect x="527.7" y="1742.7" width="1.5" height="1.5" fill="#d8d040"/><rect x="541.5" y="1741.4" width="1.5" height="1.5" fill="#d8d040"/><rect x="515.2" y="1740.5" width="1.5" height="1.5" fill="#d8d040"/><rect x="554.3" y="1752.3" width="1.5" height="1.5" fill="#d8d040"/><rect x="524.1" y="1740.1" width="1.5" height="1.5" fill="#d8d040"/><rect x="517.7" y="1750.0" width="1.5" height="1.5" fill="#d8d040"/><rect x="537.6" y="1765.8" width="1.5" height="1.5" fill="#d8d040"/><rect x="546.9" y="1755.3" width="1.5" height="1.5" fill="#d8d040"/><rect x="523.4" y="1741.7" width="1.5" height="1.5" fill="#d8d040"/><rect x="501.9" y="1739.8" width="1.5" height="1.5" fill="#d8d040"/><rect x="537.5" y="1747.9" width="1.5" height="1.5" fill="#d8d040"/><rect x="536.8" y="1735.8" width="1.5" height="1.5" fill="#d8d040"/><rect x="543.7" y="1755.5" width="1.5" height="1.5" fill="#d8d040"/><rect x="532.5" y="1756.8" width="1.5" height="1.5" fill="#d8d040"/><rect x="502.9" y="1745.3" width="1.5" height="1.5" fill="#d8d040"/><rect x="520.3" y="1773.7" width="1.5" height="1.5" fill="#d8d040"/><rect x="529.6" y="1745.9" width="1.5" height="1.5" fill="#d8d040"/><rect x="543.1" y="1739.4" width="1.5" height="1.5" fill="#d8d040"/><rect x="550.5" y="1743.6" width="1.5" height="1.5" fill="#d8d040"/><rect x="531.2" y="1741.0" width="1.5" height="1.5" fill="#d8d040"/><rect x="542.5" y="1725.9" width="1.5" height="1.5" fill="#d8d040"/><rect x="541.0" y="1742.2" width="1.5" height="1.5" fill="#d8d040"/><rect x="532.6" y="1738.2" width="1.5" height="1.5" fill="#d8d040"/><rect x="535.0" y="1754.2" width="1.5" height="1.5" fill="#d8d040"/><rect x="539.7" y="1755.8" width="1.5" height="1.5" fill="#d8d040"/><rect x="540.1" y="1763.9" width="1.5" height="1.5" fill="#d8d040"/><rect x="526.9" y="1737.8" width="1.5" height="1.5" fill="#d8d040"/><rect x="515.4" y="1760.2" width="1.5" height="1.5" fill="#d8d040"/><rect x="527.1" y="1764.6" width="1.5" height="1.5" fill="#d8d040"/><rect x="532.6" y="1739.9" width="1.5" height="1.5" fill="#d8d040"/><rect x="543.8" y="1775.3" width="1.5" height="1.5" fill="#d8d040"/><rect x="529.6" y="1740.7" width="1.5" height="1.5" fill="#d8d040"/><rect x="521.0" y="1762.7" width="1.5" height="1.5" fill="#d8d040"/><rect x="524.4" y="1747.1" width="1.5" height="1.5" fill="#d8d040"/><rect x="540.9" y="1752.1" width="1.5" height="1.5" fill="#d8d040"/><rect x="533.5" y="1745.5" width="1.5" height="1.5" fill="#d8d040"/><rect x="523.7" y="1754.0" width="1.5" height="1.5" fill="#d8d040"/><rect x="534.0" y="1759.1" width="1.5" height="1.5" fill="#d8d040"/><rect x="525.5" y="1756.1" width="1.5" height="1.5" fill="#d8d040"/><rect x="538.2" y="1753.0" width="1.5" height="1.5" fill="#d8d040"/><rect x="539.4" y="1764.1" width="1.5" height="1.5" fill="#d8d040"/><rect x="534.6" y="1752.9" width="1.5" height="1.5" fill="#d8d040"/><rect x="519.4" y="1755.9" width="1.5" height="1.5" fill="#d8d040"/><rect x="530.8" y="1748.3" width="1.5" height="1.5" fill="#d8d040"/><rect x="521.3" y="1758.9" width="1.5" height="1.5" fill="#d8d040"/><rect x="565.3" y="1757.2" width="1.5" height="1.5" fill="#d8d040"/><rect x="533.1" y="1757.2" width="1.5" height="1.5" fill="#d8d040"/><rect x="524.3" y="1753.1" width="1.5" height="1.5" fill="#d8d040"/><rect x="523.4" y="1744.3" width="1.5" height="1.5" fill="#d8d040"/><rect x="535.0" y="1754.8" width="1.5" height="1.5" fill="#d8d040"/><rect x="530.5" y="1742.5" width="1.5" height="1.5" fill="#d8d040"/><rect x="535.4" y="1738.9" width="1.5" height="1.5" fill="#d8d040"/><rect x="542.0" y="1747.8" width="1.5" height="1.5" fill="#d8d040"/><rect x="532.0" y="1761.4" width="1.5" height="1.5" fill="#d8d040"/><rect x="539.2" y="1736.5" width="1.5" height="1.5" fill="#d8d040"/><rect x="528.8" y="1756.4" width="1.5" height="1.5" fill="#d8d040"/><rect x="517.9" y="1723.1" width="1.5" height="1.5" fill="#d8d040"/><rect x="531.1" y="1751.4" width="1.5" height="1.5" fill="#d8d040"/><rect x="552.3" y="1753.2" width="1.5" height="1.5" fill="#e8b050"/><rect x="549.3" y="1755.4" width="1.5" height="1.5" fill="#e8b050"/><rect x="561.7" y="1758.8" width="1.5" height="1.5" fill="#e8b050"/><rect x="553.4" y="1746.5" width="1.5" height="1.5" fill="#e8b050"/><rect x="559.2" y="1749.4" width="1.5" height="1.5" fill="#e8b050"/><rect x="555.4" y="1722.5" width="1.5" height="1.5" fill="#e8b050"/><rect x="550.5" y="1750.6" width="1.5" height="1.5" fill="#e8b050"/><rect x="543.4" y="1770.0" width="1.5" height="1.5" fill="#e8b050"/><rect x="552.0" y="1750.0" width="1.5" height="1.5" fill="#e8b050"/><rect x="542.8" y="1778.3" width="1.5" height="1.5" fill="#e8b050"/><rect x="555.5" y="1761.2" width="1.5" height="1.5" fill="#e8b050"/><rect x="540.4" y="1770.2" width="1.5" height="1.5" fill="#e8b050"/><rect x="553.6" y="1748.2" width="1.5" height="1.5" fill="#e8b050"/><rect x="547.0" y="1729.3" width="1.5" height="1.5" fill="#e8b050"/><rect x="554.5" y="1736.7" width="1.5" height="1.5" fill="#e8b050"/><rect x="556.4" y="1745.9" width="1.5" height="1.5" fill="#e8b050"/><rect x="541.8" y="1757.2" width="1.5" height="1.5" fill="#e8b050"/><rect x="550.1" y="1736.2" width="1.5" height="1.5" fill="#e8b050"/><rect x="547.3" y="1760.5" width="1.5" height="1.5" fill="#e8b050"/><rect x="545.5" y="1733.2" width="1.5" height="1.5" fill="#e8b050"/><rect x="545.6" y="1738.6" width="1.5" height="1.5" fill="#e8b050"/><rect x="542.2" y="1752.7" width="1.5" height="1.5" fill="#e8b050"/><rect x="547.5" y="1749.1" width="1.5" height="1.5" fill="#e8b050"/><rect x="531.5" y="1756.9" width="1.5" height="1.5" fill="#e8b050"/><rect x="546.0" y="1746.3" width="1.5" height="1.5" fill="#e8b050"/><rect x="549.6" y="1778.9" width="1.5" height="1.5" fill="#e8b050"/><rect x="535.1" y="1729.6" width="1.5" height="1.5" fill="#e8b050"/><rect x="555.6" y="1741.0" width="1.5" height="1.5" fill="#e8b050"/><rect x="561.0" y="1738.3" width="1.5" height="1.5" fill="#e8b050"/><rect x="543.2" y="1763.6" width="1.5" height="1.5" fill="#e8b050"/><rect x="557.1" y="1758.2" width="1.5" height="1.5" fill="#e8b050"/><rect x="552.5" y="1750.2" width="1.5" height="1.5" fill="#e8b050"/><rect x="543.6" y="1749.2" width="1.5" height="1.5" fill="#e8b050"/><rect x="560.6" y="1761.9" width="1.5" height="1.5" fill="#e8b050"/><rect x="548.2" y="1756.4" width="1.5" height="1.5" fill="#e8b050"/><rect x="556.3" y="1768.5" width="1.5" height="1.5" fill="#e8b050"/><rect x="546.7" y="1750.9" width="1.5" height="1.5" fill="#e8b050"/><rect x="551.3" y="1788.3" width="1.5" height="1.5" fill="#e8b050"/><rect x="550.4" y="1769.7" width="1.5" height="1.5" fill="#e8b050"/><rect x="532.7" y="1763.8" width="1.5" height="1.5" fill="#e8b050"/><rect x="534.0" y="1737.0" width="1.5" height="1.5" fill="#e8b050"/><rect x="541.7" y="1750.0" width="1.5" height="1.5" fill="#e8b050"/><rect x="549.8" y="1757.1" width="1.5" height="1.5" fill="#e8b050"/><rect x="550.2" y="1745.9" width="1.5" height="1.5" fill="#e8b050"/><rect x="573.8" y="1757.5" width="1.5" height="1.5" fill="#e8b050"/><rect x="554.6" y="1780.1" width="1.5" height="1.5" fill="#e8b050"/><rect x="557.6" y="1760.0" width="1.5" height="1.5" fill="#e8b050"/><rect x="551.2" y="1777.9" width="1.5" height="1.5" fill="#e8b050"/><rect x="537.3" y="1738.7" width="1.5" height="1.5" fill="#e8b050"/><rect x="549.5" y="1723.7" width="1.5" height="1.5" fill="#e8b050"/><rect x="540.3" y="1767.7" width="1.5" height="1.5" fill="#e8b050"/><rect x="543.4" y="1754.3" width="1.5" height="1.5" fill="#e8b050"/><rect x="554.9" y="1735.8" width="1.5" height="1.5" fill="#e8b050"/><rect x="550.7" y="1743.3" width="1.5" height="1.5" fill="#e8b050"/><rect x="537.2" y="1748.2" width="1.5" height="1.5" fill="#e8b050"/><rect x="547.4" y="1746.4" width="1.5" height="1.5" fill="#e8b050"/><rect x="541.5" y="1765.3" width="1.5" height="1.5" fill="#e8b050"/><rect x="559.4" y="1759.7" width="1.5" height="1.5" fill="#e8b050"/><rect x="547.0" y="1737.4" width="1.5" height="1.5" fill="#e8b050"/><rect x="539.9" y="1736.7" width="1.5" height="1.5" fill="#e8b050"/><rect x="550.1" y="1764.7" width="1.5" height="1.5" fill="#e8b050"/><rect x="557.0" y="1751.7" width="1.5" height="1.5" fill="#e8b050"/><rect x="544.2" y="1754.5" width="1.5" height="1.5" fill="#e8b050"/><rect x="549.2" y="1760.2" width="1.5" height="1.5" fill="#e8b050"/><rect x="562.6" y="1742.5" width="1.5" height="1.5" fill="#e8b050"/><rect x="568.7" y="1722.9" width="1.5" height="1.5" fill="#e8b050"/><rect x="530.4" y="1731.0" width="1.5" height="1.5" fill="#e8b050"/><rect x="537.8" y="1748.8" width="1.5" height="1.5" fill="#e8b050"/><rect x="568.5" y="1742.3" width="1.5" height="1.5" fill="#e8b050"/><rect x="558.9" y="1747.0" width="1.5" height="1.5" fill="#e8b050"/><rect x="549.5" y="1737.8" width="1.5" height="1.5" fill="#e8b050"/><rect x="570.5" y="1751.5" width="1.5" height="1.5" fill="#e8b050"/><rect x="541.9" y="1783.5" width="1.5" height="1.5" fill="#e8b050"/><rect x="549.8" y="1757.8" width="1.5" height="1.5" fill="#e8b050"/><rect x="546.6" y="1740.5" width="1.5" height="1.5" fill="#e8b050"/><rect x="533.8" y="1749.6" width="1.5" height="1.5" fill="#e8b050"/><rect x="564.0" y="1757.8" width="1.5" height="1.5" fill="#e8b050"/><rect x="546.3" y="1766.7" width="1.5" height="1.5" fill="#e8b050"/><rect x="538.8" y="1771.1" width="1.5" height="1.5" fill="#e8b050"/><rect x="547.8" y="1740.5" width="1.5" height="1.5" fill="#e8b050"/><rect x="554.7" y="1759.1" width="1.5" height="1.5" fill="#e8b050"/><rect x="544.6" y="1755.0" width="1.5" height="1.5" fill="#e8b050"/><rect x="557.7" y="1771.5" width="1.5" height="1.5" fill="#e8b050"/><rect x="539.6" y="1715.5" width="1.5" height="1.5" fill="#e8b050"/><rect x="568.3" y="1748.4" width="1.5" height="1.5" fill="#e8b050"/><rect x="543.9" y="1758.0" width="1.5" height="1.5" fill="#e8b050"/><rect x="543.8" y="1766.4" width="1.5" height="1.5" fill="#e8b050"/><rect x="535.7" y="1749.2" width="1.5" height="1.5" fill="#e8b050"/><rect x="535.6" y="1773.1" width="1.5" height="1.5" fill="#e8b050"/><rect x="545.6" y="1767.2" width="1.5" height="1.5" fill="#e8b050"/><rect x="561.7" y="1735.4" width="1.5" height="1.5" fill="#e8b050"/><rect x="545.8" y="1762.0" width="1.5" height="1.5" fill="#e8b050"/><rect x="548.5" y="1750.1" width="1.5" height="1.5" fill="#e8b050"/><rect x="556.3" y="1764.7" width="1.5" height="1.5" fill="#e8b050"/><rect x="542.1" y="1750.1" width="1.5" height="1.5" fill="#e8b050"/><rect x="554.4" y="1754.9" width="1.5" height="1.5" fill="#e8b050"/><rect x="549.4" y="1736.4" width="1.5" height="1.5" fill="#e8b050"/><rect x="565.4" y="1748.8" width="1.5" height="1.5" fill="#e8b050"/><rect x="550.7" y="1751.5" width="1.5" height="1.5" fill="#e8b050"/><rect x="548.6" y="1754.1" width="1.5" height="1.5" fill="#e8b050"/><rect x="539.7" y="1757.2" width="1.5" height="1.5" fill="#e8b050"/><rect x="559.9" y="1757.6" width="1.5" height="1.5" fill="#e8b050"/><rect x="555.2" y="1758.7" width="1.5" height="1.5" fill="#e8b050"/><rect x="548.3" y="1777.2" width="1.5" height="1.5" fill="#e8b050"/><rect x="541.2" y="1757.3" width="1.5" height="1.5" fill="#e8b050"/><rect x="558.2" y="1756.0" width="1.5" height="1.5" fill="#e8b050"/><rect x="537.6" y="1736.9" width="1.5" height="1.5" fill="#e8b050"/><rect x="563.5" y="1738.7" width="1.5" height="1.5" fill="#e8b050"/><rect x="548.1" y="1759.6" width="1.5" height="1.5" fill="#e8b050"/><rect x="548.9" y="1727.3" width="1.5" height="1.5" fill="#e8b050"/><rect x="529.2" y="1750.5" width="1.5" height="1.5" fill="#e8b050"/><rect x="540.3" y="1748.4" width="1.5" height="1.5" fill="#e8b050"/><rect x="548.9" y="1754.3" width="1.5" height="1.5" fill="#e8b050"/><rect x="534.7" y="1728.6" width="1.5" height="1.5" fill="#e8b050"/><rect x="557.3" y="1743.3" width="1.5" height="1.5" fill="#e8b050"/><rect x="536.4" y="1724.3" width="1.5" height="1.5" fill="#e8b050"/><rect x="553.3" y="1734.5" width="1.5" height="1.5" fill="#e8b050"/><rect x="537.6" y="1760.7" width="1.5" height="1.5" fill="#e8b050"/><rect x="551.0" y="1759.8" width="1.5" height="1.5" fill="#e8b050"/><rect x="535.4" y="1712.1" width="1.5" height="1.5" fill="#e8b050"/><rect x="538.2" y="1747.8" width="1.5" height="1.5" fill="#e8b050"/><rect x="541.4" y="1764.4" width="1.5" height="1.5" fill="#e8b050"/><rect x="551.6" y="1737.5" width="1.5" height="1.5" fill="#e8b050"/><rect x="553.6" y="1749.9" width="1.5" height="1.5" fill="#e8b050"/><rect x="543.2" y="1767.6" width="1.5" height="1.5" fill="#e8b050"/><rect x="531.4" y="1766.4" width="1.5" height="1.5" fill="#e8b050"/><rect x="558.8" y="1723.4" width="1.5" height="1.5" fill="#e8b050"/><rect x="546.1" y="1749.7" width="1.5" height="1.5" fill="#e8b050"/><rect x="536.7" y="1744.0" width="1.5" height="1.5" fill="#e8b050"/><rect x="539.9" y="1752.9" width="1.5" height="1.5" fill="#e8b050"/><rect x="542.4" y="1722.2" width="1.5" height="1.5" fill="#e8b050"/><rect x="559.9" y="1764.5" width="1.5" height="1.5" fill="#e8b050"/><rect x="539.7" y="1764.2" width="1.5" height="1.5" fill="#e8b050"/><rect x="568.1" y="1730.3" width="1.5" height="1.5" fill="#e8b050"/><rect x="543.9" y="1744.8" width="1.5" height="1.5" fill="#e8b050"/><rect x="553.6" y="1747.8" width="1.5" height="1.5" fill="#e8b050"/><rect x="534.1" y="1769.6" width="1.5" height="1.5" fill="#e8b050"/><rect x="544.8" y="1762.2" width="1.5" height="1.5" fill="#e8b050"/><rect x="570.8" y="1741.6" width="1.5" height="1.5" fill="#e8b050"/><rect x="543.9" y="1764.7" width="1.5" height="1.5" fill="#e8b050"/><rect x="546.9" y="1759.3" width="1.5" height="1.5" fill="#e8b050"/><rect x="548.0" y="1791.2" width="1.5" height="1.5" fill="#e8b050"/><rect x="554.3" y="1756.8" width="1.5" height="1.5" fill="#e8b050"/><rect x="549.3" y="1757.4" width="1.5" height="1.5" fill="#e8b050"/><rect x="531.7" y="1748.2" width="1.5" height="1.5" fill="#e8b050"/><rect x="555.4" y="1735.2" width="1.5" height="1.5" fill="#e8b050"/><rect x="548.4" y="1750.7" width="1.5" height="1.5" fill="#e8b050"/><rect x="542.9" y="1787.0" width="1.5" height="1.5" fill="#e8b050"/><rect x="555.2" y="1756.7" width="1.5" height="1.5" fill="#e8b050"/><rect x="540.1" y="1753.2" width="1.5" height="1.5" fill="#e8b050"/><rect x="545.0" y="1750.8" width="1.5" height="1.5" fill="#e8b050"/><rect x="550.2" y="1787.1" width="1.5" height="1.5" fill="#e8b050"/><rect x="561.4" y="1775.9" width="1.5" height="1.5" fill="#e8b050"/><rect x="561.7" y="1791.6" width="1.5" height="1.5" fill="#e8b050"/><rect x="541.4" y="1734.0" width="1.5" height="1.5" fill="#e8b050"/><rect x="550.1" y="1755.7" width="1.5" height="1.5" fill="#e8b050"/><rect x="548.4" y="1743.3" width="1.5" height="1.5" fill="#e8b050"/><rect x="554.9" y="1776.2" width="1.5" height="1.5" fill="#e8b050"/><rect x="550.2" y="1748.9" width="1.5" height="1.5" fill="#e8b050"/><rect x="560.0" y="1747.8" width="1.5" height="1.5" fill="#e8b050"/><rect x="559.9" y="1728.6" width="1.5" height="1.5" fill="#f0903c"/><rect x="548.3" y="1736.4" width="1.5" height="1.5" fill="#f0903c"/><rect x="561.4" y="1729.6" width="1.5" height="1.5" fill="#f0903c"/><rect x="563.9" y="1729.1" width="1.5" height="1.5" fill="#f0903c"/><rect x="554.0" y="1735.9" width="1.5" height="1.5" fill="#f0903c"/><rect x="565.5" y="1728.5" width="1.5" height="1.5" fill="#f0903c"/><rect x="580.9" y="1720.7" width="1.5" height="1.5" fill="#f0903c"/><rect x="566.5" y="1726.5" width="1.5" height="1.5" fill="#f0903c"/><rect x="553.0" y="1736.7" width="1.5" height="1.5" fill="#f0903c"/><rect x="552.7" y="1727.7" width="1.5" height="1.5" fill="#f0903c"/><rect x="561.5" y="1728.0" width="1.5" height="1.5" fill="#f0903c"/><rect x="556.4" y="1733.9" width="1.5" height="1.5" fill="#f0903c"/><rect x="563.6" y="1720.6" width="1.5" height="1.5" fill="#f0903c"/><rect x="554.7" y="1728.4" width="1.5" height="1.5" fill="#f0903c"/><rect x="555.1" y="1729.2" width="1.5" height="1.5" fill="#f0903c"/><rect x="564.0" y="1724.1" width="1.5" height="1.5" fill="#f0903c"/><rect x="550.4" y="1720.5" width="1.5" height="1.5" fill="#f0903c"/><rect x="564.2" y="1724.4" width="1.5" height="1.5" fill="#f0903c"/><rect x="573.2" y="1724.8" width="1.5" height="1.5" fill="#f0903c"/><rect x="564.3" y="1730.4" width="1.5" height="1.5" fill="#f0903c"/><rect x="562.6" y="1728.6" width="1.5" height="1.5" fill="#f0903c"/><rect x="568.1" y="1726.3" width="1.5" height="1.5" fill="#f0903c"/><rect x="564.1" y="1725.2" width="1.5" height="1.5" fill="#f0903c"/><rect x="574.1" y="1727.9" width="1.5" height="1.5" fill="#f0903c"/><rect x="567.1" y="1712.1" width="1.5" height="1.5" fill="#f0903c"/><rect x="559.1" y="1721.4" width="1.5" height="1.5" fill="#f0903c"/><rect x="562.3" y="1724.8" width="1.5" height="1.5" fill="#f0903c"/><rect x="555.7" y="1725.6" width="1.5" height="1.5" fill="#f0903c"/><rect x="566.9" y="1732.4" width="1.5" height="1.5" fill="#f0903c"/><rect x="558.8" y="1732.3" width="1.5" height="1.5" fill="#f0903c"/><rect x="558.3" y="1730.1" width="1.5" height="1.5" fill="#f0903c"/><rect x="556.9" y="1732.3" width="1.5" height="1.5" fill="#f0903c"/><rect x="576.0" y="1725.6" width="1.5" height="1.5" fill="#f0903c"/><rect x="569.4" y="1719.8" width="1.5" height="1.5" fill="#f0903c"/><rect x="558.2" y="1740.3" width="1.5" height="1.5" fill="#f0903c"/><rect x="561.6" y="1729.5" width="1.5" height="1.5" fill="#f0903c"/><rect x="552.3" y="1727.0" width="1.5" height="1.5" fill="#f0903c"/><rect x="557.3" y="1733.1" width="1.5" height="1.5" fill="#f0903c"/><rect x="558.8" y="1739.8" width="1.5" height="1.5" fill="#f0903c"/><rect x="555.5" y="1728.7" width="1.5" height="1.5" fill="#f0903c"/><rect x="550.0" y="1725.0" width="1.5" height="1.5" fill="#f0903c"/><rect x="569.3" y="1726.5" width="1.5" height="1.5" fill="#f0903c"/><rect x="554.2" y="1729.5" width="1.5" height="1.5" fill="#f0903c"/><rect x="567.7" y="1729.2" width="1.5" height="1.5" fill="#f0903c"/><rect x="568.0" y="1719.9" width="1.5" height="1.5" fill="#f0903c"/><rect x="573.0" y="1730.6" width="1.5" height="1.5" fill="#f0903c"/><rect x="549.4" y="1736.4" width="1.5" height="1.5" fill="#f0903c"/><rect x="559.2" y="1729.6" width="1.5" height="1.5" fill="#f0903c"/><rect x="550.1" y="1723.9" width="1.5" height="1.5" fill="#f0903c"/><rect x="551.1" y="1731.2" width="1.5" height="1.5" fill="#f0903c"/><rect x="560.6" y="1722.4" width="1.5" height="1.5" fill="#f0903c"/><rect x="559.8" y="1732.6" width="1.5" height="1.5" fill="#f0903c"/><rect x="557.3" y="1729.9" width="1.5" height="1.5" fill="#f0903c"/><rect x="554.9" y="1718.7" width="1.5" height="1.5" fill="#f0903c"/><rect x="559.1" y="1725.6" width="1.5" height="1.5" fill="#f0903c"/><rect x="563.1" y="1731.7" width="1.5" height="1.5" fill="#f0903c"/><rect x="559.5" y="1725.2" width="1.5" height="1.5" fill="#f0903c"/><rect x="566.6" y="1729.2" width="1.5" height="1.5" fill="#f0903c"/><rect x="561.7" y="1728.2" width="1.5" height="1.5" fill="#f0903c"/><rect x="548.9" y="1724.3" width="1.5" height="1.5" fill="#f0903c"/><rect x="552.4" y="1725.2" width="1.5" height="1.5" fill="#f0903c"/><rect x="567.4" y="1718.6" width="1.5" height="1.5" fill="#f0903c"/><rect x="567.5" y="1724.2" width="1.5" height="1.5" fill="#f0903c"/><rect x="560.7" y="1724.7" width="1.5" height="1.5" fill="#f0903c"/><rect x="566.3" y="1723.7" width="1.5" height="1.5" fill="#f0903c"/><rect x="549.5" y="1728.6" width="1.5" height="1.5" fill="#f0903c"/><rect x="561.1" y="1730.2" width="1.5" height="1.5" fill="#f0903c"/><rect x="565.6" y="1721.0" width="1.5" height="1.5" fill="#f0903c"/><rect x="563.2" y="1727.6" width="1.5" height="1.5" fill="#f0903c"/><rect x="561.6" y="1727.5" width="1.5" height="1.5" fill="#f0903c"/><rect x="563.9" y="1724.2" width="1.5" height="1.5" fill="#f0903c"/><rect x="561.1" y="1731.9" width="1.5" height="1.5" fill="#f0903c"/><rect x="555.6" y="1726.6" width="1.5" height="1.5" fill="#f0903c"/><rect x="555.9" y="1721.7" width="1.5" height="1.5" fill="#f0903c"/><rect x="559.5" y="1727.9" width="1.5" height="1.5" fill="#f0903c"/><rect x="571.1" y="1726.0" width="1.5" height="1.5" fill="#f0903c"/><rect x="567.6" y="1729.7" width="1.5" height="1.5" fill="#f0903c"/><rect x="562.4" y="1711.5" width="1.5" height="1.5" fill="#f0903c"/><rect x="562.8" y="1727.3" width="1.5" height="1.5" fill="#f0903c"/><rect x="555.8" y="1727.7" width="1.5" height="1.5" fill="#f0903c"/><rect x="570.8" y="1721.2" width="1.5" height="1.5" fill="#f0903c"/><rect x="558.9" y="1731.5" width="1.5" height="1.5" fill="#f0903c"/><rect x="551.2" y="1721.8" width="1.5" height="1.5" fill="#f0903c"/><rect x="563.8" y="1731.8" width="1.5" height="1.5" fill="#f0903c"/><rect x="569.3" y="1730.8" width="1.5" height="1.5" fill="#f0903c"/><rect x="575.8" y="1728.9" width="1.5" height="1.5" fill="#f0903c"/><rect x="554.2" y="1726.0" width="1.5" height="1.5" fill="#f0903c"/><rect x="565.8" y="1728.9" width="1.5" height="1.5" fill="#f0903c"/><rect x="550.4" y="1728.9" width="1.5" height="1.5" fill="#f0903c"/><rect x="557.2" y="1726.0" width="1.5" height="1.5" fill="#f0903c"/><rect x="570.8" y="1726.2" width="1.5" height="1.5" fill="#f0903c"/><rect x="558.0" y="1726.4" width="1.5" height="1.5" fill="#f0903c"/><rect x="558.1" y="1737.2" width="1.5" height="1.5" fill="#f0903c"/><rect x="567.0" y="1731.6" width="1.5" height="1.5" fill="#f0903c"/><rect x="557.9" y="1723.8" width="1.5" height="1.5" fill="#f0903c"/><rect x="563.5" y="1716.1" width="1.5" height="1.5" fill="#f0903c"/><rect x="568.1" y="1720.6" width="1.5" height="1.5" fill="#f0903c"/><rect x="562.6" y="1728.7" width="1.5" height="1.5" fill="#f0903c"/><rect x="557.3" y="1728.8" width="1.5" height="1.5" fill="#f0903c"/><rect x="566.2" y="1736.5" width="1.5" height="1.5" fill="#f0903c"/><rect x="564.4" y="1736.1" width="1.5" height="1.5" fill="#f0903c"/><rect x="564.8" y="1726.0" width="1.5" height="1.5" fill="#f0903c"/><rect x="567.2" y="1724.4" width="1.5" height="1.5" fill="#f0903c"/><rect x="562.9" y="1730.1" width="1.5" height="1.5" fill="#f0903c"/><rect x="568.9" y="1728.4" width="1.5" height="1.5" fill="#f0903c"/><rect x="553.2" y="1733.5" width="1.5" height="1.5" fill="#f0903c"/><rect x="563.0" y="1725.5" width="1.5" height="1.5" fill="#f0903c"/><rect x="557.2" y="1729.9" width="1.5" height="1.5" fill="#f0903c"/><rect x="564.0" y="1730.4" width="1.5" height="1.5" fill="#f0903c"/><rect x="561.2" y="1734.7" width="1.5" height="1.5" fill="#f0903c"/><rect x="560.4" y="1729.0" width="1.5" height="1.5" fill="#f0903c"/><rect x="563.2" y="1732.3" width="1.5" height="1.5" fill="#f0903c"/><rect x="557.9" y="1725.5" width="1.5" height="1.5" fill="#f0903c"/><rect x="560.7" y="1723.7" width="1.5" height="1.5" fill="#f0903c"/><rect x="558.1" y="1721.0" width="1.5" height="1.5" fill="#f0903c"/><rect x="566.5" y="1734.4" width="1.5" height="1.5" fill="#f0903c"/><rect x="556.1" y="1730.8" width="1.5" height="1.5" fill="#f0903c"/><rect x="555.1" y="1722.9" width="1.5" height="1.5" fill="#f0903c"/><rect x="560.1" y="1727.6" width="1.5" height="1.5" fill="#f0903c"/><rect x="564.7" y="1717.4" width="1.5" height="1.5" fill="#f0903c"/><rect x="561.7" y="1772.9" width="1.5" height="1.5" fill="#46c8c0"/><rect x="566.0" y="1795.4" width="1.5" height="1.5" fill="#46c8c0"/><rect x="565.9" y="1764.8" width="1.5" height="1.5" fill="#46c8c0"/><rect x="571.8" y="1742.7" width="1.5" height="1.5" fill="#46c8c0"/><rect x="559.5" y="1801.8" width="1.5" height="1.5" fill="#46c8c0"/><rect x="564.5" y="1772.7" width="1.5" height="1.5" fill="#46c8c0"/><rect x="566.2" y="1762.2" width="1.5" height="1.5" fill="#46c8c0"/><rect x="566.4" y="1757.5" width="1.5" height="1.5" fill="#46c8c0"/><rect x="570.8" y="1780.4" width="1.5" height="1.5" fill="#46c8c0"/><rect x="569.7" y="1761.9" width="1.5" height="1.5" fill="#46c8c0"/><rect x="559.3" y="1766.6" width="1.5" height="1.5" fill="#46c8c0"/><rect x="562.6" y="1776.2" width="1.5" height="1.5" fill="#46c8c0"/><rect x="560.5" y="1761.8" width="1.5" height="1.5" fill="#46c8c0"/><rect x="567.5" y="1776.7" width="1.5" height="1.5" fill="#46c8c0"/><rect x="567.4" y="1758.1" width="1.5" height="1.5" fill="#46c8c0"/><rect x="564.3" y="1794.0" width="1.5" height="1.5" fill="#46c8c0"/><rect x="570.7" y="1762.9" width="1.5" height="1.5" fill="#46c8c0"/><rect x="574.6" y="1770.5" width="1.5" height="1.5" fill="#46c8c0"/><rect x="567.0" y="1762.9" width="1.5" height="1.5" fill="#46c8c0"/><rect x="573.0" y="1773.1" width="1.5" height="1.5" fill="#46c8c0"/><rect x="566.7" y="1761.8" width="1.5" height="1.5" fill="#46c8c0"/><rect x="561.9" y="1773.9" width="1.5" height="1.5" fill="#46c8c0"/><rect x="567.0" y="1789.0" width="1.5" height="1.5" fill="#46c8c0"/><rect x="563.4" y="1767.8" width="1.5" height="1.5" fill="#46c8c0"/><rect x="570.9" y="1780.9" width="1.5" height="1.5" fill="#46c8c0"/><rect x="564.3" y="1788.0" width="1.5" height="1.5" fill="#46c8c0"/><rect x="568.9" y="1781.7" width="1.5" height="1.5" fill="#46c8c0"/><rect x="568.4" y="1782.6" width="1.5" height="1.5" fill="#46c8c0"/><rect x="565.3" y="1769.6" width="1.5" height="1.5" fill="#46c8c0"/><rect x="571.3" y="1776.3" width="1.5" height="1.5" fill="#46c8c0"/><rect x="568.4" y="1784.4" width="1.5" height="1.5" fill="#46c8c0"/><rect x="567.9" y="1776.4" width="1.5" height="1.5" fill="#46c8c0"/><rect x="558.2" y="1766.2" width="1.5" height="1.5" fill="#46c8c0"/><rect x="570.3" y="1762.3" width="1.5" height="1.5" fill="#46c8c0"/><rect x="565.8" y="1774.4" width="1.5" height="1.5" fill="#46c8c0"/><rect x="566.4" y="1781.4" width="1.5" height="1.5" fill="#46c8c0"/><rect x="568.9" y="1770.0" width="1.5" height="1.5" fill="#46c8c0"/><rect x="571.3" y="1768.0" width="1.5" height="1.5" fill="#46c8c0"/><rect x="564.1" y="1775.5" width="1.5" height="1.5" fill="#46c8c0"/><rect x="569.5" y="1770.4" width="1.5" height="1.5" fill="#46c8c0"/><rect x="562.7" y="1766.3" width="1.5" height="1.5" fill="#46c8c0"/><rect x="567.9" y="1779.4" width="1.5" height="1.5" fill="#46c8c0"/><rect x="574.0" y="1770.2" width="1.5" height="1.5" fill="#46c8c0"/><rect x="566.1" y="1748.4" width="1.5" height="1.5" fill="#46c8c0"/><rect x="572.1" y="1782.0" width="1.5" height="1.5" fill="#46c8c0"/><rect x="567.0" y="1764.1" width="1.5" height="1.5" fill="#46c8c0"/><rect x="556.6" y="1779.9" width="1.5" height="1.5" fill="#46c8c0"/><rect x="563.9" y="1788.5" width="1.5" height="1.5" fill="#46c8c0"/><rect x="570.0" y="1786.1" width="1.5" height="1.5" fill="#46c8c0"/><rect x="566.4" y="1785.0" width="1.5" height="1.5" fill="#46c8c0"/><rect x="561.4" y="1788.0" width="1.5" height="1.5" fill="#46c8c0"/><rect x="566.8" y="1759.0" width="1.5" height="1.5" fill="#46c8c0"/><rect x="565.4" y="1761.3" width="1.5" height="1.5" fill="#46c8c0"/><rect x="568.0" y="1764.0" width="1.5" height="1.5" fill="#46c8c0"/><rect x="561.9" y="1768.0" width="1.5" height="1.5" fill="#46c8c0"/><rect x="566.1" y="1774.2" width="1.5" height="1.5" fill="#46c8c0"/><rect x="569.8" y="1785.8" width="1.5" height="1.5" fill="#46c8c0"/><rect x="568.6" y="1790.0" width="1.5" height="1.5" fill="#46c8c0"/><rect x="557.1" y="1771.2" width="1.5" height="1.5" fill="#46c8c0"/><rect x="570.7" y="1757.5" width="1.5" height="1.5" fill="#46c8c0"/><rect x="566.2" y="1774.4" width="1.5" height="1.5" fill="#46c8c0"/><rect x="560.8" y="1765.7" width="1.5" height="1.5" fill="#46c8c0"/><rect x="569.4" y="1768.5" width="1.5" height="1.5" fill="#46c8c0"/><rect x="573.1" y="1797.9" width="1.5" height="1.5" fill="#46c8c0"/><rect x="566.7" y="1759.4" width="1.5" height="1.5" fill="#46c8c0"/><rect x="566.8" y="1765.8" width="1.5" height="1.5" fill="#46c8c0"/><rect x="561.3" y="1767.5" width="1.5" height="1.5" fill="#46c8c0"/><rect x="565.1" y="1768.0" width="1.5" height="1.5" fill="#46c8c0"/><rect x="570.7" y="1783.7" width="1.5" height="1.5" fill="#46c8c0"/><rect x="568.6" y="1768.0" width="1.5" height="1.5" fill="#46c8c0"/><rect x="568.7" y="1772.2" width="1.5" height="1.5" fill="#46c8c0"/><rect x="567.9" y="1761.3" width="1.5" height="1.5" fill="#46c8c0"/><rect x="554.7" y="1781.7" width="1.5" height="1.5" fill="#46c8c0"/><rect x="564.6" y="1766.5" width="1.5" height="1.5" fill="#46c8c0"/><rect x="566.9" y="1771.3" width="1.5" height="1.5" fill="#46c8c0"/><rect x="565.8" y="1788.7" width="1.5" height="1.5" fill="#46c8c0"/><rect x="567.5" y="1774.5" width="1.5" height="1.5" fill="#46c8c0"/><rect x="563.5" y="1770.9" width="1.5" height="1.5" fill="#46c8c0"/><rect x="568.8" y="1771.1" width="1.5" height="1.5" fill="#46c8c0"/><rect x="568.3" y="1761.7" width="1.5" height="1.5" fill="#46c8c0"/><rect x="568.5" y="1760.8" width="1.5" height="1.5" fill="#46c8c0"/><rect x="565.2" y="1763.5" width="1.5" height="1.5" fill="#46c8c0"/><rect x="567.7" y="1783.9" width="1.5" height="1.5" fill="#46c8c0"/><rect x="568.1" y="1762.4" width="1.5" height="1.5" fill="#46c8c0"/><rect x="567.5" y="1783.3" width="1.5" height="1.5" fill="#46c8c0"/><rect x="569.9" y="1777.4" width="1.5" height="1.5" fill="#46c8c0"/><rect x="562.5" y="1765.9" width="1.5" height="1.5" fill="#46c8c0"/><rect x="564.3" y="1766.8" width="1.5" height="1.5" fill="#46c8c0"/><rect x="567.9" y="1772.4" width="1.5" height="1.5" fill="#46c8c0"/><rect x="565.6" y="1778.2" width="1.5" height="1.5" fill="#46c8c0"/><rect x="564.1" y="1768.4" width="1.5" height="1.5" fill="#46c8c0"/><rect x="567.4" y="1757.1" width="1.5" height="1.5" fill="#46c8c0"/><rect x="563.6" y="1756.7" width="1.5" height="1.5" fill="#46c8c0"/><rect x="562.8" y="1770.4" width="1.5" height="1.5" fill="#46c8c0"/><rect x="566.5" y="1775.7" width="1.5" height="1.5" fill="#46c8c0"/><rect x="568.3" y="1759.5" width="1.5" height="1.5" fill="#46c8c0"/><rect x="574.4" y="1786.7" width="1.5" height="1.5" fill="#46c8c0"/><rect x="562.1" y="1764.4" width="1.5" height="1.5" fill="#46c8c0"/><rect x="565.1" y="1774.1" width="1.5" height="1.5" fill="#46c8c0"/><rect x="569.4" y="1772.0" width="1.5" height="1.5" fill="#46c8c0"/><rect x="556.8" y="1803.3" width="1.5" height="1.5" fill="#46c8c0"/><rect x="570.4" y="1781.0" width="1.5" height="1.5" fill="#46c8c0"/><rect x="564.0" y="1773.1" width="1.5" height="1.5" fill="#46c8c0"/><rect x="570.7" y="1766.8" width="1.5" height="1.5" fill="#46c8c0"/><rect x="571.5" y="1772.9" width="1.5" height="1.5" fill="#46c8c0"/><rect x="573.3" y="1772.5" width="1.5" height="1.5" fill="#46c8c0"/><rect x="572.9" y="1754.5" width="1.5" height="1.5" fill="#46c8c0"/><rect x="572.7" y="1776.9" width="1.5" height="1.5" fill="#46c8c0"/><rect x="565.5" y="1783.7" width="1.5" height="1.5" fill="#46c8c0"/><rect x="565.9" y="1780.9" width="1.5" height="1.5" fill="#46c8c0"/><rect x="570.8" y="1783.4" width="1.5" height="1.5" fill="#46c8c0"/><rect x="575.8" y="1787.0" width="1.5" height="1.5" fill="#46c8c0"/><rect x="576.9" y="1779.7" width="1.5" height="1.5" fill="#46c8c0"/><rect x="567.6" y="1776.3" width="1.5" height="1.5" fill="#46c8c0"/><rect x="566.8" y="1758.5" width="1.5" height="1.5" fill="#46c8c0"/><rect x="567.6" y="1759.0" width="1.5" height="1.5" fill="#46c8c0"/><rect x="565.9" y="1768.7" width="1.5" height="1.5" fill="#46c8c0"/><rect x="564.8" y="1760.3" width="1.5" height="1.5" fill="#46c8c0"/><rect x="567.4" y="1771.7" width="1.5" height="1.5" fill="#46c8c0"/><rect x="572.5" y="1778.9" width="1.5" height="1.5" fill="#46c8c0"/><rect x="525.3" y="1767.3" width="1.5" height="1.5" fill="#c2e044"/><rect x="511.6" y="1759.6" width="1.5" height="1.5" fill="#c2e044"/><rect x="505.5" y="1779.1" width="1.5" height="1.5" fill="#c2e044"/><rect x="512.9" y="1770.6" width="1.5" height="1.5" fill="#c2e044"/><rect x="508.8" y="1787.4" width="1.5" height="1.5" fill="#c2e044"/><rect x="514.4" y="1783.3" width="1.5" height="1.5" fill="#c2e044"/><rect x="514.6" y="1781.4" width="1.5" height="1.5" fill="#c2e044"/><rect x="504.4" y="1758.6" width="1.5" height="1.5" fill="#c2e044"/><rect x="527.1" y="1768.9" width="1.5" height="1.5" fill="#c2e044"/><rect x="517.9" y="1780.7" width="1.5" height="1.5" fill="#c2e044"/><rect x="522.6" y="1774.7" width="1.5" height="1.5" fill="#c2e044"/><rect x="502.0" y="1765.0" width="1.5" height="1.5" fill="#c2e044"/><rect x="515.4" y="1778.3" width="1.5" height="1.5" fill="#c2e044"/><rect x="520.6" y="1775.6" width="1.5" height="1.5" fill="#c2e044"/><rect x="506.6" y="1771.9" width="1.5" height="1.5" fill="#c2e044"/><rect x="525.6" y="1763.4" width="1.5" height="1.5" fill="#c2e044"/><rect x="508.7" y="1781.0" width="1.5" height="1.5" fill="#c2e044"/><rect x="532.3" y="1776.0" width="1.5" height="1.5" fill="#c2e044"/><rect x="515.1" y="1762.5" width="1.5" height="1.5" fill="#c2e044"/><rect x="513.7" y="1764.1" width="1.5" height="1.5" fill="#c2e044"/><rect x="516.5" y="1779.1" width="1.5" height="1.5" fill="#c2e044"/><rect x="519.9" y="1784.9" width="1.5" height="1.5" fill="#c2e044"/><rect x="503.9" y="1759.4" width="1.5" height="1.5" fill="#c2e044"/><rect x="529.9" y="1782.3" width="1.5" height="1.5" fill="#c2e044"/><rect x="504.4" y="1773.3" width="1.5" height="1.5" fill="#c2e044"/><rect x="503.3" y="1771.8" width="1.5" height="1.5" fill="#c2e044"/><rect x="518.4" y="1781.5" width="1.5" height="1.5" fill="#c2e044"/><rect x="504.4" y="1759.4" width="1.5" height="1.5" fill="#c2e044"/><rect x="521.2" y="1768.7" width="1.5" height="1.5" fill="#c2e044"/><rect x="530.3" y="1760.6" width="1.5" height="1.5" fill="#c2e044"/><rect x="507.9" y="1744.9" width="1.5" height="1.5" fill="#c2e044"/><rect x="527.3" y="1785.2" width="1.5" height="1.5" fill="#c2e044"/><rect x="519.5" y="1769.0" width="1.5" height="1.5" fill="#c2e044"/><rect x="492.9" y="1758.4" width="1.5" height="1.5" fill="#c2e044"/><rect x="509.2" y="1790.9" width="1.5" height="1.5" fill="#c2e044"/><rect x="524.8" y="1766.1" width="1.5" height="1.5" fill="#c2e044"/><rect x="519.7" y="1777.5" width="1.5" height="1.5" fill="#c2e044"/><rect x="520.5" y="1762.8" width="1.5" height="1.5" fill="#c2e044"/><rect x="510.2" y="1781.9" width="1.5" height="1.5" fill="#c2e044"/><rect x="522.6" y="1768.7" width="1.5" height="1.5" fill="#c2e044"/><rect x="541.7" y="1774.8" width="1.5" height="1.5" fill="#c2e044"/><rect x="510.6" y="1781.0" width="1.5" height="1.5" fill="#c2e044"/><rect x="523.8" y="1770.8" width="1.5" height="1.5" fill="#c2e044"/><rect x="534.7" y="1782.7" width="1.5" height="1.5" fill="#c2e044"/><rect x="515.3" y="1779.1" width="1.5" height="1.5" fill="#c2e044"/><rect x="522.3" y="1769.2" width="1.5" height="1.5" fill="#c2e044"/><rect x="523.1" y="1766.8" width="1.5" height="1.5" fill="#c2e044"/><rect x="512.5" y="1778.6" width="1.5" height="1.5" fill="#c2e044"/><rect x="501.4" y="1768.6" width="1.5" height="1.5" fill="#c2e044"/><rect x="504.5" y="1779.1" width="1.5" height="1.5" fill="#c2e044"/><rect x="508.8" y="1790.2" width="1.5" height="1.5" fill="#c2e044"/><rect x="531.8" y="1765.2" width="1.5" height="1.5" fill="#c2e044"/><rect x="516.8" y="1768.5" width="1.5" height="1.5" fill="#c2e044"/><rect x="515.0" y="1778.7" width="1.5" height="1.5" fill="#c2e044"/><rect x="531.3" y="1793.7" width="1.5" height="1.5" fill="#c2e044"/><rect x="535.2" y="1759.6" width="1.5" height="1.5" fill="#c2e044"/><rect x="509.9" y="1770.2" width="1.5" height="1.5" fill="#c2e044"/><rect x="511.6" y="1773.5" width="1.5" height="1.5" fill="#c2e044"/><rect x="522.1" y="1767.6" width="1.5" height="1.5" fill="#c2e044"/><rect x="508.7" y="1795.5" width="1.5" height="1.5" fill="#c2e044"/><rect x="522.6" y="1793.5" width="1.5" height="1.5" fill="#c2e044"/><rect x="508.9" y="1785.7" width="1.5" height="1.5" fill="#c2e044"/><rect x="533.4" y="1785.3" width="1.5" height="1.5" fill="#c2e044"/><rect x="506.9" y="1777.5" width="1.5" height="1.5" fill="#c2e044"/><rect x="506.7" y="1760.9" width="1.5" height="1.5" fill="#c2e044"/><rect x="515.0" y="1777.1" width="1.5" height="1.5" fill="#c2e044"/><rect x="512.8" y="1771.0" width="1.5" height="1.5" fill="#c2e044"/><rect x="522.0" y="1765.4" width="1.5" height="1.5" fill="#c2e044"/><rect x="519.7" y="1779.8" width="1.5" height="1.5" fill="#c2e044"/><rect x="522.2" y="1777.7" width="1.5" height="1.5" fill="#c2e044"/><rect x="504.2" y="1769.3" width="1.5" height="1.5" fill="#c2e044"/><rect x="510.4" y="1779.2" width="1.5" height="1.5" fill="#c2e044"/><rect x="496.0" y="1773.5" width="1.5" height="1.5" fill="#c2e044"/><rect x="497.6" y="1778.5" width="1.5" height="1.5" fill="#c2e044"/><rect x="509.5" y="1772.6" width="1.5" height="1.5" fill="#c2e044"/><rect x="525.3" y="1789.0" width="1.5" height="1.5" fill="#c2e044"/><rect x="504.3" y="1773.3" width="1.5" height="1.5" fill="#c2e044"/><rect x="493.8" y="1770.1" width="1.5" height="1.5" fill="#c2e044"/><rect x="507.6" y="1778.7" width="1.5" height="1.5" fill="#c2e044"/><rect x="513.9" y="1773.1" width="1.5" height="1.5" fill="#c2e044"/><rect x="502.9" y="1768.8" width="1.5" height="1.5" fill="#c2e044"/><rect x="502.9" y="1772.3" width="1.5" height="1.5" fill="#c2e044"/><rect x="497.8" y="1774.7" width="1.5" height="1.5" fill="#c2e044"/><rect x="527.1" y="1798.0" width="1.5" height="1.5" fill="#c2e044"/><rect x="531.6" y="1785.2" width="1.5" height="1.5" fill="#c2e044"/><rect x="523.9" y="1787.9" width="1.5" height="1.5" fill="#c2e044"/><rect x="514.7" y="1776.0" width="1.5" height="1.5" fill="#c2e044"/><rect x="494.7" y="1767.2" width="1.5" height="1.5" fill="#c2e044"/><rect x="527.7" y="1755.1" width="1.5" height="1.5" fill="#c2e044"/><rect x="518.6" y="1771.6" width="1.5" height="1.5" fill="#c2e044"/><rect x="511.2" y="1775.3" width="1.5" height="1.5" fill="#c2e044"/><rect x="515.4" y="1761.0" width="1.5" height="1.5" fill="#c2e044"/><rect x="514.3" y="1754.2" width="1.5" height="1.5" fill="#c2e044"/><rect x="531.5" y="1771.9" width="1.5" height="1.5" fill="#c2e044"/><rect x="524.8" y="1763.1" width="1.5" height="1.5" fill="#c2e044"/><rect x="535.3" y="1782.2" width="1.5" height="1.5" fill="#c2e044"/><rect x="518.9" y="1774.3" width="1.5" height="1.5" fill="#c2e044"/><rect x="519.3" y="1764.9" width="1.5" height="1.5" fill="#c2e044"/><rect x="513.6" y="1769.9" width="1.5" height="1.5" fill="#c2e044"/><rect x="519.3" y="1787.4" width="1.5" height="1.5" fill="#c2e044"/><rect x="527.8" y="1774.8" width="1.5" height="1.5" fill="#c2e044"/><rect x="522.1" y="1769.3" width="1.5" height="1.5" fill="#c2e044"/><rect x="509.9" y="1756.2" width="1.5" height="1.5" fill="#c2e044"/><rect x="501.3" y="1760.3" width="1.5" height="1.5" fill="#c2e044"/><rect x="514.4" y="1770.4" width="1.5" height="1.5" fill="#c2e044"/><rect x="519.9" y="1783.6" width="1.5" height="1.5" fill="#c2e044"/><rect x="522.6" y="1770.7" width="1.5" height="1.5" fill="#c2e044"/><rect x="510.1" y="1769.3" width="1.5" height="1.5" fill="#c2e044"/><rect x="521.8" y="1763.1" width="1.5" height="1.5" fill="#c2e044"/><rect x="498.8" y="1770.0" width="1.5" height="1.5" fill="#c2e044"/><rect x="526.6" y="1784.2" width="1.5" height="1.5" fill="#c2e044"/><rect x="521.7" y="1753.2" width="1.5" height="1.5" fill="#c2e044"/><rect x="513.4" y="1779.2" width="1.5" height="1.5" fill="#c2e044"/><rect x="527.0" y="1790.4" width="1.5" height="1.5" fill="#c2e044"/><rect x="504.9" y="1775.8" width="1.5" height="1.5" fill="#c2e044"/><rect x="498.1" y="1770.0" width="1.5" height="1.5" fill="#c2e044"/><rect x="510.9" y="1780.2" width="1.5" height="1.5" fill="#c2e044"/><rect x="516.9" y="1754.8" width="1.5" height="1.5" fill="#c2e044"/><rect x="513.8" y="1775.7" width="1.5" height="1.5" fill="#c2e044"/><rect x="531.0" y="1764.9" width="1.5" height="1.5" fill="#c2e044"/><rect x="505.7" y="1766.3" width="1.5" height="1.5" fill="#c2e044"/><rect x="526.3" y="1769.3" width="1.5" height="1.5" fill="#c2e044"/><rect x="516.1" y="1776.5" width="1.5" height="1.5" fill="#c2e044"/><rect x="506.2" y="1782.9" width="1.5" height="1.5" fill="#c2e044"/><rect x="497.4" y="1790.2" width="1.5" height="1.5" fill="#c2e044"/><rect x="507.8" y="1763.1" width="1.5" height="1.5" fill="#c2e044"/><rect x="507.0" y="1760.5" width="1.5" height="1.5" fill="#c2e044"/><rect x="505.5" y="1764.1" width="1.5" height="1.5" fill="#c2e044"/><rect x="502.3" y="1770.3" width="1.5" height="1.5" fill="#c2e044"/><rect x="518.5" y="1766.3" width="1.5" height="1.5" fill="#c2e044"/><rect x="517.0" y="1763.8" width="1.5" height="1.5" fill="#c2e044"/><rect x="517.5" y="1768.8" width="1.5" height="1.5" fill="#c2e044"/><rect x="503.2" y="1773.0" width="1.5" height="1.5" fill="#c2e044"/><rect x="513.2" y="1765.5" width="1.5" height="1.5" fill="#c2e044"/><rect x="514.5" y="1777.3" width="1.5" height="1.5" fill="#c2e044"/><rect x="501.6" y="1767.1" width="1.5" height="1.5" fill="#c2e044"/><rect x="521.9" y="1772.0" width="1.5" height="1.5" fill="#c2e044"/><rect x="523.6" y="1795.9" width="1.5" height="1.5" fill="#c2e044"/><rect x="501.4" y="1775.6" width="1.5" height="1.5" fill="#c2e044"/><rect x="511.0" y="1786.2" width="1.5" height="1.5" fill="#c2e044"/><rect x="521.3" y="1758.2" width="1.5" height="1.5" fill="#c2e044"/><rect x="526.8" y="1772.1" width="1.5" height="1.5" fill="#c2e044"/><rect x="511.7" y="1772.2" width="1.5" height="1.5" fill="#c2e044"/><rect x="517.4" y="1763.5" width="1.5" height="1.5" fill="#c2e044"/><rect x="510.9" y="1785.5" width="1.5" height="1.5" fill="#c2e044"/><rect x="503.9" y="1766.1" width="1.5" height="1.5" fill="#c2e044"/><rect x="523.4" y="1762.6" width="1.5" height="1.5" fill="#c2e044"/><rect x="512.8" y="1775.0" width="1.5" height="1.5" fill="#c2e044"/><rect x="505.1" y="1768.9" width="1.5" height="1.5" fill="#c2e044"/><rect x="505.1" y="1769.9" width="1.5" height="1.5" fill="#c2e044"/><rect x="518.1" y="1772.1" width="1.5" height="1.5" fill="#c2e044"/><rect x="517.7" y="1775.7" width="1.5" height="1.5" fill="#c2e044"/><rect x="523.6" y="1761.4" width="1.5" height="1.5" fill="#c2e044"/><rect x="516.2" y="1787.7" width="1.5" height="1.5" fill="#c2e044"/><rect x="512.4" y="1769.3" width="1.5" height="1.5" fill="#c2e044"/><rect x="515.1" y="1764.8" width="1.5" height="1.5" fill="#c2e044"/><rect x="521.1" y="1771.9" width="1.5" height="1.5" fill="#c2e044"/><rect x="513.1" y="1779.4" width="1.5" height="1.5" fill="#c2e044"/><rect x="528.2" y="1757.9" width="1.5" height="1.5" fill="#c2e044"/><rect x="509.5" y="1769.3" width="1.5" height="1.5" fill="#c2e044"/><rect x="483.2" y="1795.4" width="1.5" height="1.5" fill="#e0803c"/><rect x="525.3" y="1796.4" width="1.5" height="1.5" fill="#e0803c"/><rect x="515.1" y="1774.4" width="1.5" height="1.5" fill="#e0803c"/><rect x="494.7" y="1779.5" width="1.5" height="1.5" fill="#e0803c"/><rect x="509.3" y="1789.0" width="1.5" height="1.5" fill="#e0803c"/><rect x="497.9" y="1793.9" width="1.5" height="1.5" fill="#e0803c"/><rect x="509.1" y="1803.0" width="1.5" height="1.5" fill="#e0803c"/><rect x="516.4" y="1797.4" width="1.5" height="1.5" fill="#e0803c"/><rect x="480.4" y="1799.9" width="1.5" height="1.5" fill="#e0803c"/><rect x="501.1" y="1777.8" width="1.5" height="1.5" fill="#e0803c"/><rect x="502.0" y="1788.0" width="1.5" height="1.5" fill="#e0803c"/><rect x="498.9" y="1797.6" width="1.5" height="1.5" fill="#e0803c"/><rect x="483.9" y="1795.1" width="1.5" height="1.5" fill="#e0803c"/><rect x="514.3" y="1781.0" width="1.5" height="1.5" fill="#e0803c"/><rect x="516.7" y="1784.7" width="1.5" height="1.5" fill="#e0803c"/><rect x="491.1" y="1797.5" width="1.5" height="1.5" fill="#e0803c"/><rect x="499.8" y="1775.3" width="1.5" height="1.5" fill="#e0803c"/><rect x="492.3" y="1795.5" width="1.5" height="1.5" fill="#e0803c"/><rect x="493.5" y="1786.2" width="1.5" height="1.5" fill="#e0803c"/><rect x="500.1" y="1789.9" width="1.5" height="1.5" fill="#e0803c"/><rect x="491.8" y="1782.6" width="1.5" height="1.5" fill="#e0803c"/><rect x="505.3" y="1799.8" width="1.5" height="1.5" fill="#e0803c"/><rect x="469.7" y="1793.3" width="1.5" height="1.5" fill="#e0803c"/><rect x="511.9" y="1782.9" width="1.5" height="1.5" fill="#e0803c"/><rect x="517.2" y="1778.0" width="1.5" height="1.5" fill="#e0803c"/><rect x="511.4" y="1802.9" width="1.5" height="1.5" fill="#e0803c"/><rect x="518.4" y="1768.8" width="1.5" height="1.5" fill="#e0803c"/><rect x="500.7" y="1782.0" width="1.5" height="1.5" fill="#e0803c"/><rect x="504.7" y="1801.2" width="1.5" height="1.5" fill="#e0803c"/><rect x="504.9" y="1803.1" width="1.5" height="1.5" fill="#e0803c"/><rect x="480.0" y="1783.3" width="1.5" height="1.5" fill="#e0803c"/><rect x="493.7" y="1795.3" width="1.5" height="1.5" fill="#e0803c"/><rect x="514.6" y="1783.3" width="1.5" height="1.5" fill="#e0803c"/><rect x="488.9" y="1797.1" width="1.5" height="1.5" fill="#e0803c"/><rect x="484.2" y="1794.5" width="1.5" height="1.5" fill="#e0803c"/><rect x="490.2" y="1789.3" width="1.5" height="1.5" fill="#e0803c"/><rect x="524.8" y="1787.9" width="1.5" height="1.5" fill="#e0803c"/><rect x="500.5" y="1783.5" width="1.5" height="1.5" fill="#e0803c"/><rect x="506.7" y="1802.2" width="1.5" height="1.5" fill="#e0803c"/><rect x="507.7" y="1779.5" width="1.5" height="1.5" fill="#e0803c"/><rect x="504.4" y="1802.4" width="1.5" height="1.5" fill="#e0803c"/><rect x="488.5" y="1788.9" width="1.5" height="1.5" fill="#e0803c"/><rect x="488.9" y="1785.4" width="1.5" height="1.5" fill="#e0803c"/><rect x="488.1" y="1779.3" width="1.5" height="1.5" fill="#e0803c"/><rect x="505.8" y="1789.6" width="1.5" height="1.5" fill="#e0803c"/><rect x="473.9" y="1781.7" width="1.5" height="1.5" fill="#e0803c"/><rect x="491.3" y="1781.2" width="1.5" height="1.5" fill="#e0803c"/><rect x="501.8" y="1788.4" width="1.5" height="1.5" fill="#e0803c"/><rect x="504.4" y="1779.2" width="1.5" height="1.5" fill="#e0803c"/><rect x="491.1" y="1786.5" width="1.5" height="1.5" fill="#e0803c"/><rect x="472.6" y="1807.9" width="1.5" height="1.5" fill="#a3b3e3"/><rect x="469.1" y="1809.3" width="1.5" height="1.5" fill="#a3b3e3"/><rect x="490.8" y="1805.5" width="1.5" height="1.5" fill="#a3b3e3"/><rect x="461.1" y="1811.7" width="1.5" height="1.5" fill="#a3b3e3"/><rect x="467.8" y="1814.8" width="1.5" height="1.5" fill="#a3b3e3"/><rect x="485.4" y="1820.1" width="1.5" height="1.5" fill="#a3b3e3"/><rect x="477.3" y="1799.9" width="1.5" height="1.5" fill="#a3b3e3"/><rect x="490.4" y="1815.5" width="1.5" height="1.5" fill="#a3b3e3"/><rect x="487.6" y="1810.6" width="1.5" height="1.5" fill="#a3b3e3"/><rect x="472.9" y="1810.2" width="1.5" height="1.5" fill="#a3b3e3"/><rect x="459.4" y="1815.9" width="1.5" height="1.5" fill="#a3b3e3"/><rect x="470.4" y="1806.3" width="1.5" height="1.5" fill="#a3b3e3"/><rect x="479.3" y="1804.8" width="1.5" height="1.5" fill="#a3b3e3"/><rect x="483.3" y="1806.3" width="1.5" height="1.5" fill="#a3b3e3"/><rect x="497.2" y="1817.5" width="1.5" height="1.5" fill="#a3b3e3"/><rect x="482.2" y="1812.0" width="1.5" height="1.5" fill="#a3b3e3"/><rect x="476.6" y="1807.1" width="1.5" height="1.5" fill="#a3b3e3"/><rect x="458.9" y="1806.7" width="1.5" height="1.5" fill="#a3b3e3"/><rect x="469.0" y="1807.0" width="1.5" height="1.5" fill="#a3b3e3"/><rect x="476.8" y="1798.8" width="1.5" height="1.5" fill="#a3b3e3"/><rect x="464.9" y="1806.0" width="1.5" height="1.5" fill="#a3b3e3"/><rect x="472.0" y="1815.5" width="1.5" height="1.5" fill="#a3b3e3"/><rect x="500.0" y="1809.2" width="1.5" height="1.5" fill="#a3b3e3"/><rect x="481.9" y="1810.0" width="1.5" height="1.5" fill="#a3b3e3"/><rect x="478.5" y="1820.5" width="1.5" height="1.5" fill="#a3b3e3"/><rect x="477.7" y="1813.5" width="1.5" height="1.5" fill="#a3b3e3"/><rect x="476.5" y="1806.4" width="1.5" height="1.5" fill="#a3b3e3"/><rect x="485.8" y="1809.1" width="1.5" height="1.5" fill="#a3b3e3"/><rect x="489.4" y="1803.4" width="1.5" height="1.5" fill="#a3b3e3"/><rect x="480.2" y="1820.2" width="1.5" height="1.5" fill="#a3b3e3"/><rect x="470.5" y="1812.2" width="1.5" height="1.5" fill="#a3b3e3"/><rect x="489.4" y="1812.7" width="1.5" height="1.5" fill="#a3b3e3"/><rect x="468.9" y="1808.1" width="1.5" height="1.5" fill="#a3b3e3"/><rect x="479.0" y="1806.6" width="1.5" height="1.5" fill="#a3b3e3"/><rect x="472.4" y="1810.9" width="1.5" height="1.5" fill="#a3b3e3"/><rect x="465.0" y="1820.1" width="1.5" height="1.5" fill="#a3b3e3"/><rect x="470.8" y="1810.0" width="1.5" height="1.5" fill="#a3b3e3"/><rect x="477.1" y="1818.6" width="1.5" height="1.5" fill="#a3b3e3"/><rect x="472.7" y="1822.3" width="1.5" height="1.5" fill="#a3b3e3"/><rect x="492.8" y="1814.5" width="1.5" height="1.5" fill="#a3b3e3"/><rect x="463.9" y="1802.3" width="1.5" height="1.5" fill="#a3b3e3"/><rect x="473.9" y="1811.8" width="1.5" height="1.5" fill="#a3b3e3"/><rect x="481.9" y="1817.4" width="1.5" height="1.5" fill="#a3b3e3"/><rect x="480.3" y="1810.5" width="1.5" height="1.5" fill="#a3b3e3"/><rect x="479.7" y="1797.9" width="1.5" height="1.5" fill="#a3b3e3"/><rect x="486.6" y="1801.0" width="1.5" height="1.5" fill="#a3b3e3"/><rect x="458.7" y="1805.9" width="1.5" height="1.5" fill="#a3b3e3"/><rect x="472.3" y="1802.8" width="1.5" height="1.5" fill="#a3b3e3"/><rect x="474.2" y="1810.6" width="1.5" height="1.5" fill="#a3b3e3"/><rect x="481.8" y="1812.4" width="1.5" height="1.5" fill="#a3b3e3"/><rect x="471.6" y="1810.7" width="1.5" height="1.5" fill="#a3b3e3"/><rect x="487.6" y="1808.5" width="1.5" height="1.5" fill="#a3b3e3"/><rect x="474.9" y="1797.3" width="1.5" height="1.5" fill="#a3b3e3"/><rect x="478.8" y="1822.4" width="1.5" height="1.5" fill="#a3b3e3"/><rect x="482.9" y="1808.8" width="1.5" height="1.5" fill="#a3b3e3"/><rect x="487.4" y="1817.6" width="1.5" height="1.5" fill="#a3b3e3"/><rect x="488.4" y="1803.1" width="1.5" height="1.5" fill="#a3b3e3"/><rect x="465.8" y="1814.4" width="1.5" height="1.5" fill="#a3b3e3"/><rect x="481.0" y="1812.9" width="1.5" height="1.5" fill="#a3b3e3"/><rect x="463.0" y="1814.8" width="1.5" height="1.5" fill="#a3b3e3"/><rect x="493.5" y="1817.3" width="1.5" height="1.5" fill="#a3b3e3"/><rect x="499.4" y="1813.0" width="1.5" height="1.5" fill="#a3b3e3"/><rect x="477.4" y="1821.1" width="1.5" height="1.5" fill="#a3b3e3"/><rect x="485.3" y="1796.4" width="1.5" height="1.5" fill="#a3b3e3"/><rect x="462.3" y="1811.7" width="1.5" height="1.5" fill="#a3b3e3"/><rect x="471.6" y="1821.0" width="1.5" height="1.5" fill="#a3b3e3"/><rect x="490.5" y="1817.9" width="1.5" height="1.5" fill="#a3b3e3"/><rect x="473.3" y="1808.8" width="1.5" height="1.5" fill="#a3b3e3"/><rect x="483.3" y="1808.1" width="1.5" height="1.5" fill="#a3b3e3"/><rect x="482.3" y="1811.9" width="1.5" height="1.5" fill="#a3b3e3"/><rect x="483.2" y="1810.8" width="1.5" height="1.5" fill="#a3b3e3"/><rect x="469.3" y="1792.6" width="1.5" height="1.5" fill="#a3b3e3"/><rect x="464.0" y="1801.4" width="1.5" height="1.5" fill="#a3b3e3"/><rect x="482.3" y="1801.5" width="1.5" height="1.5" fill="#a3b3e3"/><rect x="470.9" y="1813.0" width="1.5" height="1.5" fill="#a3b3e3"/><rect x="482.3" y="1816.3" width="1.5" height="1.5" fill="#a3b3e3"/><rect x="480.2" y="1819.4" width="1.5" height="1.5" fill="#a3b3e3"/><rect x="470.9" y="1817.1" width="1.5" height="1.5" fill="#a3b3e3"/><rect x="463.9" y="1807.6" width="1.5" height="1.5" fill="#a3b3e3"/><rect x="479.9" y="1813.8" width="1.5" height="1.5" fill="#a3b3e3"/><rect x="473.7" y="1806.2" width="1.5" height="1.5" fill="#a3b3e3"/><rect x="465.0" y="1796.3" width="1.5" height="1.5" fill="#a3b3e3"/><rect x="458.4" y="1819.8" width="1.5" height="1.5" fill="#a3b3e3"/><rect x="459.7" y="1800.5" width="1.5" height="1.5" fill="#a3b3e3"/><rect x="461.2" y="1808.4" width="1.5" height="1.5" fill="#a3b3e3"/><rect x="473.6" y="1806.4" width="1.5" height="1.5" fill="#a3b3e3"/><rect x="464.2" y="1809.1" width="1.5" height="1.5" fill="#a3b3e3"/><rect x="463.1" y="1812.0" width="1.5" height="1.5" fill="#a3b3e3"/><rect x="489.5" y="1804.2" width="1.5" height="1.5" fill="#a3b3e3"/><rect x="477.9" y="1806.9" width="1.5" height="1.5" fill="#a3b3e3"/><rect x="472.3" y="1801.9" width="1.5" height="1.5" fill="#a3b3e3"/><rect x="476.6" y="1809.8" width="1.5" height="1.5" fill="#a3b3e3"/><rect x="487.5" y="1824.4" width="1.5" height="1.5" fill="#a3b3e3"/><rect x="466.2" y="1816.7" width="1.5" height="1.5" fill="#a3b3e3"/><rect x="468.4" y="1806.7" width="1.5" height="1.5" fill="#a3b3e3"/><rect x="465.3" y="1812.9" width="1.5" height="1.5" fill="#a3b3e3"/><rect x="487.1" y="1809.3" width="1.5" height="1.5" fill="#a3b3e3"/><rect x="477.9" y="1805.1" width="1.5" height="1.5" fill="#a3b3e3"/><rect x="473.1" y="1802.1" width="1.5" height="1.5" fill="#a3b3e3"/><rect x="475.2" y="1797.7" width="1.5" height="1.5" fill="#a3b3e3"/><rect x="496.6" y="1817.5" width="1.5" height="1.5" fill="#a3b3e3"/><rect x="470.6" y="1807.0" width="1.5" height="1.5" fill="#a3b3e3"/><rect x="472.0" y="1810.6" width="1.5" height="1.5" fill="#a3b3e3"/><rect x="478.0" y="1821.4" width="1.5" height="1.5" fill="#a3b3e3"/><rect x="471.6" y="1798.3" width="1.5" height="1.5" fill="#a3b3e3"/><rect x="478.3" y="1812.4" width="1.5" height="1.5" fill="#a3b3e3"/><rect x="468.4" y="1814.8" width="1.5" height="1.5" fill="#a3b3e3"/><rect x="474.2" y="1805.1" width="1.5" height="1.5" fill="#a3b3e3"/><rect x="475.0" y="1802.1" width="1.5" height="1.5" fill="#a3b3e3"/><rect x="472.2" y="1820.3" width="1.5" height="1.5" fill="#a3b3e3"/><rect x="486.8" y="1813.6" width="1.5" height="1.5" fill="#a3b3e3"/><rect x="477.0" y="1811.6" width="1.5" height="1.5" fill="#a3b3e3"/><rect x="465.2" y="1811.0" width="1.5" height="1.5" fill="#a3b3e3"/><rect x="469.4" y="1806.2" width="1.5" height="1.5" fill="#a3b3e3"/><rect x="490.2" y="1805.5" width="1.5" height="1.5" fill="#a3b3e3"/><rect x="476.5" y="1810.5" width="1.5" height="1.5" fill="#a3b3e3"/><rect x="485.0" y="1808.5" width="1.5" height="1.5" fill="#a3b3e3"/><rect x="480.4" y="1812.3" width="1.5" height="1.5" fill="#a3b3e3"/><rect x="474.3" y="1806.4" width="1.5" height="1.5" fill="#a3b3e3"/><rect x="466.6" y="1816.5" width="1.5" height="1.5" fill="#a3b3e3"/><rect x="473.4" y="1836.2" width="1.5" height="1.5" fill="#e03030"/><rect x="501.5" y="1828.5" width="1.5" height="1.5" fill="#e03030"/><rect x="472.3" y="1826.5" width="1.5" height="1.5" fill="#e03030"/><rect x="477.2" y="1837.0" width="1.5" height="1.5" fill="#e03030"/><rect x="474.3" y="1826.2" width="1.5" height="1.5" fill="#e03030"/><rect x="464.7" y="1831.4" width="1.5" height="1.5" fill="#e03030"/><rect x="487.9" y="1837.8" width="1.5" height="1.5" fill="#e03030"/><rect x="485.9" y="1830.8" width="1.5" height="1.5" fill="#e03030"/><rect x="482.6" y="1844.1" width="1.5" height="1.5" fill="#e03030"/><rect x="500.6" y="1835.1" width="1.5" height="1.5" fill="#e03030"/><rect x="479.4" y="1830.2" width="1.5" height="1.5" fill="#e03030"/><rect x="482.1" y="1830.6" width="1.5" height="1.5" fill="#e03030"/><rect x="488.5" y="1827.9" width="1.5" height="1.5" fill="#e03030"/><rect x="503.9" y="1826.6" width="1.5" height="1.5" fill="#e03030"/><rect x="490.3" y="1834.5" width="1.5" height="1.5" fill="#e03030"/><rect x="493.7" y="1837.2" width="1.5" height="1.5" fill="#e03030"/><rect x="486.6" y="1832.0" width="1.5" height="1.5" fill="#e03030"/><rect x="499.2" y="1836.9" width="1.5" height="1.5" fill="#e03030"/><rect x="483.2" y="1835.0" width="1.5" height="1.5" fill="#e03030"/><rect x="469.9" y="1832.9" width="1.5" height="1.5" fill="#e03030"/><rect x="460.2" y="1836.7" width="1.5" height="1.5" fill="#e03030"/><rect x="476.3" y="1835.3" width="1.5" height="1.5" fill="#e03030"/><rect x="488.3" y="1828.4" width="1.5" height="1.5" fill="#e03030"/><rect x="492.6" y="1838.6" width="1.5" height="1.5" fill="#e03030"/><rect x="473.7" y="1839.7" width="1.5" height="1.5" fill="#e03030"/><rect x="487.7" y="1827.1" width="1.5" height="1.5" fill="#e03030"/><rect x="480.5" y="1832.8" width="1.5" height="1.5" fill="#e03030"/><rect x="491.3" y="1827.5" width="1.5" height="1.5" fill="#e03030"/><rect x="479.2" y="1833.3" width="1.5" height="1.5" fill="#e03030"/><rect x="486.4" y="1840.1" width="1.5" height="1.5" fill="#e03030"/><rect x="492.5" y="1835.2" width="1.5" height="1.5" fill="#e03030"/><rect x="473.6" y="1827.1" width="1.5" height="1.5" fill="#e03030"/><rect x="471.9" y="1830.9" width="1.5" height="1.5" fill="#e03030"/><rect x="490.3" y="1838.8" width="1.5" height="1.5" fill="#e03030"/><rect x="494.3" y="1827.5" width="1.5" height="1.5" fill="#e03030"/><rect x="482.7" y="1840.9" width="1.5" height="1.5" fill="#e03030"/><rect x="485.0" y="1833.6" width="1.5" height="1.5" fill="#e03030"/><rect x="468.4" y="1825.0" width="1.5" height="1.5" fill="#e03030"/><rect x="478.2" y="1830.0" width="1.5" height="1.5" fill="#e03030"/><rect x="489.4" y="1830.7" width="1.5" height="1.5" fill="#e03030"/><rect x="464.8" y="1842.2" width="1.5" height="1.5" fill="#e03030"/><rect x="487.8" y="1823.7" width="1.5" height="1.5" fill="#e03030"/><rect x="502.1" y="1835.0" width="1.5" height="1.5" fill="#e03030"/><rect x="481.7" y="1831.4" width="1.5" height="1.5" fill="#e03030"/><rect x="489.2" y="1820.9" width="1.5" height="1.5" fill="#e03030"/><rect x="494.6" y="1832.5" width="1.5" height="1.5" fill="#e03030"/><rect x="491.1" y="1828.7" width="1.5" height="1.5" fill="#e03030"/><rect x="476.8" y="1838.4" width="1.5" height="1.5" fill="#e03030"/><rect x="446.7" y="1836.7" width="1.5" height="1.5" fill="#e03030"/><rect x="496.4" y="1824.0" width="1.5" height="1.5" fill="#e03030"/><rect x="481.1" y="1828.1" width="1.5" height="1.5" fill="#e03030"/><rect x="477.4" y="1825.5" width="1.5" height="1.5" fill="#e03030"/><rect x="468.9" y="1831.6" width="1.5" height="1.5" fill="#e03030"/><rect x="480.5" y="1833.8" width="1.5" height="1.5" fill="#e03030"/><rect x="492.0" y="1828.7" width="1.5" height="1.5" fill="#e03030"/><rect x="506.7" y="1838.6" width="1.5" height="1.5" fill="#e03030"/><rect x="466.5" y="1830.5" width="1.5" height="1.5" fill="#e03030"/><rect x="479.7" y="1833.2" width="1.5" height="1.5" fill="#e03030"/><rect x="472.7" y="1838.4" width="1.5" height="1.5" fill="#e03030"/><rect x="479.4" y="1840.8" width="1.5" height="1.5" fill="#e03030"/><rect x="475.1" y="1840.0" width="1.5" height="1.5" fill="#e03030"/><rect x="488.1" y="1835.4" width="1.5" height="1.5" fill="#e03030"/><rect x="487.3" y="1832.8" width="1.5" height="1.5" fill="#e03030"/><rect x="472.6" y="1830.4" width="1.5" height="1.5" fill="#e03030"/><rect x="475.5" y="1830.3" width="1.5" height="1.5" fill="#e03030"/><rect x="479.4" y="1834.7" width="1.5" height="1.5" fill="#e03030"/><rect x="486.6" y="1829.9" width="1.5" height="1.5" fill="#e03030"/><rect x="464.3" y="1835.4" width="1.5" height="1.5" fill="#e03030"/><rect x="475.4" y="1829.5" width="1.5" height="1.5" fill="#e03030"/><rect x="488.3" y="1831.0" width="1.5" height="1.5" fill="#e03030"/><rect x="484.3" y="1831.6" width="1.5" height="1.5" fill="#e03030"/><rect x="462.8" y="1834.3" width="1.5" height="1.5" fill="#e03030"/><rect x="481.2" y="1834.6" width="1.5" height="1.5" fill="#e03030"/><rect x="484.3" y="1829.3" width="1.5" height="1.5" fill="#e03030"/><rect x="499.1" y="1831.7" width="1.5" height="1.5" fill="#e03030"/><rect x="494.5" y="1833.9" width="1.5" height="1.5" fill="#e03030"/><rect x="492.2" y="1835.8" width="1.5" height="1.5" fill="#e03030"/><rect x="490.2" y="1827.0" width="1.5" height="1.5" fill="#e03030"/><rect x="480.8" y="1837.2" width="1.5" height="1.5" fill="#e03030"/><rect x="481.8" y="1829.5" width="1.5" height="1.5" fill="#e03030"/><rect x="483.7" y="1835.4" width="1.5" height="1.5" fill="#e03030"/><rect x="474.2" y="1830.9" width="1.5" height="1.5" fill="#e03030"/><rect x="478.4" y="1828.1" width="1.5" height="1.5" fill="#e03030"/><rect x="491.5" y="1828.6" width="1.5" height="1.5" fill="#e03030"/><rect x="483.8" y="1832.8" width="1.5" height="1.5" fill="#e03030"/><rect x="488.4" y="1833.2" width="1.5" height="1.5" fill="#e03030"/><rect x="491.5" y="1827.9" width="1.5" height="1.5" fill="#e03030"/><rect x="456.9" y="1835.0" width="1.5" height="1.5" fill="#e03030"/><rect x="501.3" y="1829.4" width="1.5" height="1.5" fill="#e03030"/><rect x="483.6" y="1835.0" width="1.5" height="1.5" fill="#e03030"/><rect x="474.5" y="1830.9" width="1.5" height="1.5" fill="#e03030"/><rect x="478.6" y="1833.5" width="1.5" height="1.5" fill="#e03030"/><rect x="484.0" y="1838.5" width="1.5" height="1.5" fill="#e03030"/><rect x="473.5" y="1828.0" width="1.5" height="1.5" fill="#e03030"/><rect x="468.1" y="1832.1" width="1.5" height="1.5" fill="#e03030"/><rect x="482.1" y="1830.1" width="1.5" height="1.5" fill="#e03030"/><rect x="489.8" y="1826.8" width="1.5" height="1.5" fill="#e03030"/><rect x="467.8" y="1840.5" width="1.5" height="1.5" fill="#e03030"/><rect x="483.4" y="1826.8" width="1.5" height="1.5" fill="#e03030"/><rect x="494.7" y="1831.7" width="1.5" height="1.5" fill="#e03030"/><rect x="473.1" y="1832.6" width="1.5" height="1.5" fill="#e03030"/><rect x="494.8" y="1834.4" width="1.5" height="1.5" fill="#e03030"/><rect x="482.4" y="1838.6" width="1.5" height="1.5" fill="#e03030"/><rect x="474.0" y="1830.3" width="1.5" height="1.5" fill="#e03030"/><rect x="488.5" y="1826.6" width="1.5" height="1.5" fill="#e03030"/><rect x="490.7" y="1832.8" width="1.5" height="1.5" fill="#e03030"/><rect x="494.0" y="1832.5" width="1.5" height="1.5" fill="#e03030"/><rect x="504.9" y="1825.2" width="1.5" height="1.5" fill="#e03030"/><rect x="479.3" y="1828.9" width="1.5" height="1.5" fill="#e03030"/><rect x="483.5" y="1834.0" width="1.5" height="1.5" fill="#e03030"/><rect x="472.1" y="1835.6" width="1.5" height="1.5" fill="#e03030"/><rect x="495.6" y="1831.7" width="1.5" height="1.5" fill="#e03030"/><rect x="468.6" y="1834.0" width="1.5" height="1.5" fill="#e03030"/><rect x="488.1" y="1827.0" width="1.5" height="1.5" fill="#e03030"/><rect x="476.0" y="1828.8" width="1.5" height="1.5" fill="#e03030"/><rect x="468.0" y="1832.8" width="1.5" height="1.5" fill="#e03030"/><rect x="495.5" y="1832.7" width="1.5" height="1.5" fill="#e03030"/><rect x="476.0" y="1831.0" width="1.5" height="1.5" fill="#e03030"/><rect x="483.2" y="1839.4" width="1.5" height="1.5" fill="#e03030"/><rect x="478.8" y="1833.4" width="1.5" height="1.5" fill="#e03030"/><rect x="480.1" y="1836.3" width="1.5" height="1.5" fill="#e03030"/><rect x="474.8" y="1833.5" width="1.5" height="1.5" fill="#e03030"/><rect x="479.6" y="1833.8" width="1.5" height="1.5" fill="#e03030"/><rect x="468.1" y="1830.8" width="1.5" height="1.5" fill="#e03030"/><rect x="495.5" y="1834.2" width="1.5" height="1.5" fill="#e03030"/><rect x="472.2" y="1842.7" width="1.5" height="1.5" fill="#e03030"/><rect x="488.4" y="1830.1" width="1.5" height="1.5" fill="#e03030"/><rect x="479.6" y="1827.1" width="1.5" height="1.5" fill="#e03030"/><rect x="500.2" y="1836.9" width="1.5" height="1.5" fill="#e03030"/><rect x="499.2" y="1826.7" width="1.5" height="1.5" fill="#e03030"/><rect x="463.1" y="1821.6" width="1.5" height="1.5" fill="#e03030"/><rect x="467.5" y="1828.7" width="1.5" height="1.5" fill="#e03030"/><rect x="470.5" y="1823.7" width="1.5" height="1.5" fill="#e03030"/><rect x="488.8" y="1828.0" width="1.5" height="1.5" fill="#e03030"/><rect x="486.6" y="1836.5" width="1.5" height="1.5" fill="#e03030"/><rect x="474.3" y="1828.8" width="1.5" height="1.5" fill="#e03030"/><rect x="496.7" y="1824.3" width="1.5" height="1.5" fill="#e03030"/><rect x="477.7" y="1825.9" width="1.5" height="1.5" fill="#e03030"/><rect x="480.6" y="1828.2" width="1.5" height="1.5" fill="#e03030"/><rect x="485.0" y="1828.8" width="1.5" height="1.5" fill="#e03030"/><rect x="527.2" y="1828.4" width="1.5" height="1.5" fill="#44c8c0"/><rect x="521.5" y="1838.5" width="1.5" height="1.5" fill="#44c8c0"/><rect x="517.9" y="1829.4" width="1.5" height="1.5" fill="#44c8c0"/><rect x="521.3" y="1831.0" width="1.5" height="1.5" fill="#44c8c0"/><rect x="525.4" y="1828.8" width="1.5" height="1.5" fill="#44c8c0"/><rect x="515.2" y="1838.2" width="1.5" height="1.5" fill="#44c8c0"/><rect x="518.2" y="1829.3" width="1.5" height="1.5" fill="#44c8c0"/><rect x="520.7" y="1841.6" width="1.5" height="1.5" fill="#44c8c0"/><rect x="525.4" y="1835.1" width="1.5" height="1.5" fill="#44c8c0"/><rect x="523.0" y="1830.9" width="1.5" height="1.5" fill="#44c8c0"/><rect x="529.5" y="1841.0" width="1.5" height="1.5" fill="#44c8c0"/><rect x="518.1" y="1840.1" width="1.5" height="1.5" fill="#44c8c0"/><rect x="515.9" y="1828.2" width="1.5" height="1.5" fill="#44c8c0"/><rect x="518.8" y="1844.9" width="1.5" height="1.5" fill="#44c8c0"/><rect x="530.7" y="1834.1" width="1.5" height="1.5" fill="#44c8c0"/><rect x="519.7" y="1843.1" width="1.5" height="1.5" fill="#44c8c0"/><rect x="519.5" y="1845.0" width="1.5" height="1.5" fill="#44c8c0"/><rect x="517.6" y="1840.7" width="1.5" height="1.5" fill="#44c8c0"/><rect x="518.3" y="1845.9" width="1.5" height="1.5" fill="#44c8c0"/><rect x="522.5" y="1829.4" width="1.5" height="1.5" fill="#44c8c0"/><rect x="522.4" y="1817.3" width="1.5" height="1.5" fill="#44c8c0"/><rect x="522.2" y="1838.5" width="1.5" height="1.5" fill="#44c8c0"/><rect x="532.5" y="1826.5" width="1.5" height="1.5" fill="#44c8c0"/><rect x="527.3" y="1842.8" width="1.5" height="1.5" fill="#44c8c0"/><rect x="525.2" y="1831.7" width="1.5" height="1.5" fill="#44c8c0"/><rect x="522.7" y="1828.2" width="1.5" height="1.5" fill="#44c8c0"/><rect x="523.2" y="1825.9" width="1.5" height="1.5" fill="#44c8c0"/><rect x="519.7" y="1834.6" width="1.5" height="1.5" fill="#44c8c0"/><rect x="518.0" y="1825.1" width="1.5" height="1.5" fill="#44c8c0"/><rect x="521.7" y="1836.1" width="1.5" height="1.5" fill="#44c8c0"/><rect x="524.9" y="1836.9" width="1.5" height="1.5" fill="#44c8c0"/><rect x="529.4" y="1833.8" width="1.5" height="1.5" fill="#44c8c0"/><rect x="527.9" y="1826.9" width="1.5" height="1.5" fill="#44c8c0"/><rect x="525.0" y="1839.1" width="1.5" height="1.5" fill="#44c8c0"/><rect x="530.4" y="1829.8" width="1.5" height="1.5" fill="#44c8c0"/><rect x="530.3" y="1833.3" width="1.5" height="1.5" fill="#44c8c0"/><rect x="520.1" y="1822.5" width="1.5" height="1.5" fill="#44c8c0"/><rect x="526.1" y="1830.2" width="1.5" height="1.5" fill="#44c8c0"/><rect x="525.8" y="1835.3" width="1.5" height="1.5" fill="#44c8c0"/><rect x="525.6" y="1834.5" width="1.5" height="1.5" fill="#44c8c0"/><rect x="519.0" y="1831.0" width="1.5" height="1.5" fill="#44c8c0"/><rect x="522.0" y="1837.1" width="1.5" height="1.5" fill="#44c8c0"/><rect x="518.6" y="1840.6" width="1.5" height="1.5" fill="#44c8c0"/><rect x="512.9" y="1824.9" width="1.5" height="1.5" fill="#44c8c0"/><rect x="525.1" y="1836.3" width="1.5" height="1.5" fill="#44c8c0"/><rect x="531.2" y="1841.5" width="1.5" height="1.5" fill="#44c8c0"/><rect x="517.6" y="1826.5" width="1.5" height="1.5" fill="#44c8c0"/><rect x="522.1" y="1833.5" width="1.5" height="1.5" fill="#44c8c0"/><rect x="525.3" y="1830.4" width="1.5" height="1.5" fill="#44c8c0"/><rect x="518.8" y="1828.9" width="1.5" height="1.5" fill="#44c8c0"/><rect x="521.9" y="1828.1" width="1.5" height="1.5" fill="#44c8c0"/><rect x="521.4" y="1839.2" width="1.5" height="1.5" fill="#44c8c0"/><rect x="521.2" y="1826.4" width="1.5" height="1.5" fill="#44c8c0"/><rect x="524.4" y="1839.4" width="1.5" height="1.5" fill="#44c8c0"/><rect x="518.0" y="1831.2" width="1.5" height="1.5" fill="#44c8c0"/><rect x="514.8" y="1826.6" width="1.5" height="1.5" fill="#44c8c0"/><rect x="516.8" y="1824.3" width="1.5" height="1.5" fill="#44c8c0"/><rect x="519.0" y="1847.3" width="1.5" height="1.5" fill="#44c8c0"/><rect x="527.1" y="1830.9" width="1.5" height="1.5" fill="#44c8c0"/><rect x="523.9" y="1834.4" width="1.5" height="1.5" fill="#44c8c0"/><rect x="522.4" y="1819.9" width="1.5" height="1.5" fill="#44c8c0"/><rect x="521.1" y="1825.8" width="1.5" height="1.5" fill="#44c8c0"/><rect x="519.8" y="1833.1" width="1.5" height="1.5" fill="#44c8c0"/><rect x="505.5" y="1815.7" width="1.5" height="1.5" fill="#44c8c0"/><rect x="523.7" y="1843.2" width="1.5" height="1.5" fill="#44c8c0"/><rect x="525.9" y="1825.8" width="1.5" height="1.5" fill="#44c8c0"/><rect x="520.0" y="1838.2" width="1.5" height="1.5" fill="#44c8c0"/><rect x="520.9" y="1818.1" width="1.5" height="1.5" fill="#44c8c0"/><rect x="525.3" y="1829.1" width="1.5" height="1.5" fill="#44c8c0"/><rect x="521.7" y="1821.2" width="1.5" height="1.5" fill="#44c8c0"/><rect x="500.5" y="1815.9" width="1.5" height="1.5" fill="#c244c2"/><rect x="506.0" y="1812.2" width="1.5" height="1.5" fill="#c244c2"/><rect x="522.8" y="1810.0" width="1.5" height="1.5" fill="#c244c2"/><rect x="510.0" y="1808.5" width="1.5" height="1.5" fill="#c244c2"/><rect x="516.5" y="1811.7" width="1.5" height="1.5" fill="#c244c2"/><rect x="513.4" y="1817.8" width="1.5" height="1.5" fill="#c244c2"/><rect x="513.9" y="1816.2" width="1.5" height="1.5" fill="#c244c2"/><rect x="503.0" y="1808.5" width="1.5" height="1.5" fill="#c244c2"/><rect x="515.2" y="1805.8" width="1.5" height="1.5" fill="#c244c2"/><rect x="498.2" y="1809.4" width="1.5" height="1.5" fill="#c244c2"/><rect x="505.8" y="1811.8" width="1.5" height="1.5" fill="#c244c2"/><rect x="522.8" y="1807.6" width="1.5" height="1.5" fill="#c244c2"/><rect x="501.0" y="1808.3" width="1.5" height="1.5" fill="#c244c2"/><rect x="505.0" y="1807.2" width="1.5" height="1.5" fill="#c244c2"/><rect x="519.0" y="1812.8" width="1.5" height="1.5" fill="#c244c2"/><rect x="513.0" y="1808.7" width="1.5" height="1.5" fill="#c244c2"/><rect x="517.7" y="1809.4" width="1.5" height="1.5" fill="#c244c2"/><rect x="523.7" y="1809.9" width="1.5" height="1.5" fill="#c244c2"/><rect x="509.2" y="1813.4" width="1.5" height="1.5" fill="#c244c2"/><rect x="527.0" y="1801.0" width="1.5" height="1.5" fill="#c244c2"/><rect x="513.6" y="1803.8" width="1.5" height="1.5" fill="#c244c2"/><rect x="496.5" y="1807.7" width="1.5" height="1.5" fill="#c244c2"/><rect x="516.7" y="1801.5" width="1.5" height="1.5" fill="#c244c2"/><rect x="506.4" y="1819.1" width="1.5" height="1.5" fill="#c244c2"/><rect x="520.0" y="1808.1" width="1.5" height="1.5" fill="#c244c2"/><rect x="481.9" y="1790.1" width="1.5" height="1.5" fill="#5050c0"/><rect x="478.2" y="1787.4" width="1.5" height="1.5" fill="#5050c0"/><rect x="483.7" y="1787.9" width="1.5" height="1.5" fill="#5050c0"/><rect x="479.5" y="1788.4" width="1.5" height="1.5" fill="#5050c0"/><rect x="475.3" y="1789.3" width="1.5" height="1.5" fill="#5050c0"/><rect x="485.6" y="1786.8" width="1.5" height="1.5" fill="#5050c0"/><rect x="479.7" y="1793.5" width="1.5" height="1.5" fill="#5050c0"/><rect x="481.3" y="1789.8" width="1.5" height="1.5" fill="#5050c0"/><rect x="481.7" y="1790.8" width="1.5" height="1.5" fill="#5050c0"/><rect x="479.7" y="1787.4" width="1.5" height="1.5" fill="#5050c0"/><rect x="525.1" y="1775.5" width="1.5" height="1.5" fill="#52c452"/><rect x="531.0" y="1787.9" width="1.5" height="1.5" fill="#52c452"/><rect x="523.3" y="1776.7" width="1.5" height="1.5" fill="#52c452"/><rect x="524.2" y="1774.7" width="1.5" height="1.5" fill="#52c452"/><rect x="535.7" y="1779.9" width="1.5" height="1.5" fill="#52c452"/><rect x="538.4" y="1782.5" width="1.5" height="1.5" fill="#52c452"/><rect x="536.4" y="1794.1" width="1.5" height="1.5" fill="#52c452"/><rect x="538.3" y="1787.0" width="1.5" height="1.5" fill="#52c452"/><rect x="510.0" y="1792.9" width="1.5" height="1.5" fill="#52c452"/><rect x="523.0" y="1777.0" width="1.5" height="1.5" fill="#52c452"/><rect x="518.3" y="1791.8" width="1.5" height="1.5" fill="#52c452"/><rect x="535.9" y="1792.5" width="1.5" height="1.5" fill="#52c452"/><rect x="536.8" y="1798.3" width="1.5" height="1.5" fill="#52c452"/><rect x="526.2" y="1789.5" width="1.5" height="1.5" fill="#52c452"/><rect x="526.9" y="1787.2" width="1.5" height="1.5" fill="#52c452"/><rect x="528.3" y="1791.2" width="1.5" height="1.5" fill="#52c452"/><rect x="524.5" y="1790.7" width="1.5" height="1.5" fill="#52c452"/><rect x="538.8" y="1787.2" width="1.5" height="1.5" fill="#52c452"/><rect x="535.2" y="1782.4" width="1.5" height="1.5" fill="#52c452"/><rect x="521.1" y="1803.6" width="1.5" height="1.5" fill="#52c452"/><rect x="528.1" y="1799.5" width="1.5" height="1.5" fill="#52c452"/><rect x="509.5" y="1770.3" width="1.5" height="1.5" fill="#52c452"/><rect x="529.1" y="1787.5" width="1.5" height="1.5" fill="#52c452"/><rect x="506.3" y="1795.4" width="1.5" height="1.5" fill="#52c452"/><rect x="535.9" y="1783.9" width="1.5" height="1.5" fill="#52c452"/><rect x="535.5" y="1794.6" width="1.5" height="1.5" fill="#52c452"/><rect x="530.3" y="1785.0" width="1.5" height="1.5" fill="#52c452"/><rect x="536.1" y="1786.0" width="1.5" height="1.5" fill="#52c452"/><rect x="524.3" y="1778.6" width="1.5" height="1.5" fill="#52c452"/><rect x="530.6" y="1799.7" width="1.5" height="1.5" fill="#52c452"/></g>
<path d="M445.4,1862 L445.4,1792 M445.4,1862 L519,1862" stroke="#fff" stroke-width="1.6" fill="none"/>
<path d="M441,1794 L445.4,1786 L449.8,1794Z M517,1857.6 L525,1862 L517,1866.4Z" fill="#fff"/>
<text x="452" y="1884.5" font-size="16.5" fill="#fff">UMAP 1</text>
<text transform="translate(438.2,1833) rotate(-90)" font-size="16.5" fill="#fff" text-anchor="middle">UMAP 2</text>
<text x="81.4" y="1578.7" font-size="16.5" fill="#fff">Forebrain</text>
<text x="269.8" y="1577.7" font-size="16.5" fill="#fff">Eye</text>
<text x="352" y="1575.4" font-size="16.5" fill="#fff">Limb</text>
<text x="64" y="1669.8" font-size="16.5" fill="#fff">Midbrain</text>
<text x="75.8" y="1733.9" font-size="16.5" fill="#fff">Hindbrain</text>
<text x="115.3" y="1773.4" font-size="16.5" fill="#fff">Ventricle</text>
<text x="181.7" y="1811.2" font-size="16.5" fill="#fff">Spinal cord</text>
<text x="310" y="1796.4" font-size="16.5" fill="#fff">Spine</text>
<text x="292.5" y="1549" font-size="16" fill="#fff" text-anchor="middle">Spatial ATAC–RNA-seq (RNA)</text>
<text x="75.8" y="1877" font-size="21" font-weight="bold" fill="#fff">(Zhang et al. Nature 2023)</text>
<line x1="135.6" y1="1582.6" x2="164.0" y2="1592.0" stroke="#fff" stroke-width="1.6"/>
<path d="M170.2,1594.1 L163.0,1595.1 L165.0,1589.0Z" fill="#fff"/>
<line x1="267.2" y1="1576" x2="252.7" y2="1586.9" stroke="#fff" stroke-width="1.6"/>
<path d="M247.5,1590.8 L250.8,1584.3 L254.6,1589.5Z" fill="#fff"/>
<line x1="349.4" y1="1569.5" x2="336.3" y2="1580.2" stroke="#fff" stroke-width="1.6"/>
<path d="M331.3,1584.3 L334.3,1577.7 L338.4,1582.7Z" fill="#fff"/>
<line x1="99.5" y1="1681.3" x2="134.7" y2="1696.8" stroke="#fff" stroke-width="1.6"/>
<path d="M140.6,1699.4 L133.4,1699.7 L135.9,1693.9Z" fill="#fff"/>
<line x1="139" y1="1715.8" x2="216.5" y2="1697.5" stroke="#fff" stroke-width="1.6"/>
<path d="M222.8,1696 L217.2,1700.6 L215.7,1694.4Z" fill="#fff"/>
<line x1="183.3" y1="1757" x2="202.6" y2="1729.3" stroke="#fff" stroke-width="1.6"/>
<path d="M206.3,1724 L205.2,1731.2 L200.0,1727.5Z" fill="#fff"/>
<line x1="227.7" y1="1791.5" x2="249.1" y2="1755.9" stroke="#fff" stroke-width="1.6"/>
<path d="M252.4,1750.3 L251.8,1757.5 L246.3,1754.2Z" fill="#fff"/>
<line x1="323" y1="1778.3" x2="290.6" y2="1729.4" stroke="#fff" stroke-width="1.6"/>
<path d="M287,1724 L293.3,1727.6 L287.9,1731.2Z" fill="#fff"/>
<rect x="112.6" y="1797" width="29" height="2.8" fill="#fff"/>
<text x="0" y="1542" font-size="50" font-weight="bold" fill="#231f20">f</text>
<defs><pattern id="p_plagl1" x="122.13000000000001" y="1950.15" width="7.96" height="13.8" patternUnits="userSpaceOnUse">
<ellipse cx="3.98" cy="-3.45" rx="3.0" ry="3.42" fill="#fff"/><ellipse cx="3.98" cy="3.45" rx="3.0" ry="3.42" fill="#fff"/><ellipse cx="3.98" cy="10.35" rx="3.0" ry="3.42" fill="#fff"/><ellipse cx="3.98" cy="17.25" rx="3.0" ry="3.42" fill="#fff"/></pattern>
<mask id="m_plagl1" maskUnits="userSpaceOnUse" x="120.9" y="1948.4" width="400" height="349">
<rect x="122.9" y="1950.4" width="396" height="346" fill="url(#p_plagl1)"/>
<g transform="translate(0.0,0.0)" fill="#000"><path d="M404,1950 L489,1950 L489,1984 L505,1998 L520,1998 L520,2053 L497,2053 L497,2059 L472,2059 L472,2053 L438,2053 L438,2060 L430,2061 L425,2048 L425,2030 L432,2026 L432,2020 L425,2017 L425,1986 L432,1984 L432,1975 L422,1970 L412,1964 L410,1958 L404,1957Z"/><path d="M124,1993 L154,1993 L154,2011 L162,2011 L162,2022 L124,2022Z"/><path d="M124,2063 L160,2062 L160,2060 L218,2066 L218,2082 L188,2082 L188,2096 L146,2096 L146,2077 L124,2074Z"/><path d="M124,2179 L139,2179 L139,2241 L124,2241Z"/><path d="M194,2159 L218,2157 L218,2186 L194,2186Z"/><path d="M185,2234 L210,2234 L210,2274 L226,2274 L226,2291 L185,2291Z"/><path d="M159,2261 L171,2261 L171,2278 L159,2278Z"/><path d="M289,2192 L299,2192 L301,2225 L318,2250 L344,2262 L346,2278 L289,2280Z"/><path d="M496,2174 L520,2174 L520,2188 L496,2188Z"/><path d="M393,2169 L402,2169 L402,2180 L393,2180Z"/><path d="M515,2220 L520,2220 L520,2240 L515,2240Z"/></g>
</mask>
<filter id="dv_plagl1" x="0" y="0" width="100%" height="100%"><feTurbulence type="fractalNoise" baseFrequency="0.13" numOctaves="2" seed="9" result="t"/><feColorMatrix in="t" type="matrix" values="0 0 0 0 0.4  0 0 0 0 0.22  0 0 0 0 0.62  1.6 0 0 0 -0.62" result="c"/><feComposite in="c" in2="SourceGraphic" operator="in"/></filter>
<filter id="bl_plagl1" x="-20%" y="-20%" width="140%" height="140%"><feGaussianBlur stdDeviation="3.5"/></filter>
</defs>
<rect x="120.9" y="1948.4" width="399" height="349" fill="#f4eef5"/>
<g transform="translate(0.0,0.0)" fill="#fff"><path d="M404,1950 L489,1950 L489,1984 L505,1998 L520,1998 L520,2053 L497,2053 L497,2059 L472,2059 L472,2053 L438,2053 L438,2060 L430,2061 L425,2048 L425,2030 L432,2026 L432,2020 L425,2017 L425,1986 L432,1984 L432,1975 L422,1970 L412,1964 L410,1958 L404,1957Z"/><path d="M124,1993 L154,1993 L154,2011 L162,2011 L162,2022 L124,2022Z"/><path d="M124,2063 L160,2062 L160,2060 L218,2066 L218,2082 L188,2082 L188,2096 L146,2096 L146,2077 L124,2074Z"/><path d="M124,2179 L139,2179 L139,2241 L124,2241Z"/><path d="M194,2159 L218,2157 L218,2186 L194,2186Z"/><path d="M185,2234 L210,2234 L210,2274 L226,2274 L226,2291 L185,2291Z"/><path d="M159,2261 L171,2261 L171,2278 L159,2278Z"/><path d="M289,2192 L299,2192 L301,2225 L318,2250 L344,2262 L346,2278 L289,2280Z"/><path d="M496,2174 L520,2174 L520,2188 L496,2188Z"/><path d="M393,2169 L402,2169 L402,2180 L393,2180Z"/><path d="M515,2220 L520,2220 L520,2240 L515,2240Z"/></g>
<g mask="url(#m_plagl1)"><rect x="120.9" y="1948.4" width="400" height="349" fill="#aa66c4"/><g filter="url(#bl_plagl1)"><path d="M124,1964 L176,1964 L192,1990 L194,2030 L220,2058 L220,2070 L168,2070 L148,2042 L124,2038Z" fill="#e3968a" opacity="0.8"/><path d="M128,2150 L180,2150 L185,2220 L140,2230 L128,2200Z" fill="#c57ab8" opacity="0.6"/><ellipse cx="370" cy="2186" rx="22" ry="6" fill="#6c5ad0" opacity="0.95"/><ellipse cx="472" cy="2229" rx="10" ry="7" fill="#7060d0" opacity="0.8"/><ellipse cx="270" cy="2110" rx="45" ry="70" fill="#9454c0" opacity="0.45"/><ellipse cx="400" cy="2240" rx="70" ry="30" fill="#9454c0" opacity="0.35"/><ellipse cx="450" cy="2120" rx="50" ry="40" fill="#c27ad0" opacity="0.45"/></g><circle cx="302.3" cy="1995.3" r="15.5" fill="none" stroke="#eedc68" stroke-width="7" opacity="0.85"/><circle cx="302.3" cy="1995.3" r="10" fill="none" stroke="#e8a070" stroke-width="3" opacity="0.7"/><rect x="120.9" y="1948.4" width="400" height="349" fill="#fff" filter="url(#dv_plagl1)"/></g>
<rect x="122.4" y="1949.9" width="396" height="346" fill="none" stroke="#000" stroke-width="3" stroke-dasharray="3.5 3.5"/>
<text x="302.3" y="2000.3" font-size="14.5" font-weight="bold" fill="#2a2a2a" text-anchor="middle">A3</text>
<text x="373.3" y="2110.2" font-size="14.5" font-weight="bold" fill="#2a2a2a" text-anchor="middle">A4</text>
<text x="261.6" y="2124.6" font-size="14.5" font-weight="bold" fill="#2a2a2a" text-anchor="middle">A1</text>
<text x="373.3" y="2145.5" font-size="14.5" font-weight="bold" fill="#2a2a2a" text-anchor="middle">A0</text>
<text x="230.5" y="2152.2" font-size="14.5" font-weight="bold" fill="#2a2a2a" text-anchor="middle">A6</text>
<text x="366.1" y="2159" font-size="14.5" font-weight="bold" fill="#2a2a2a" text-anchor="middle">A5</text>
<text x="181.2" y="2172.9" font-size="14.5" font-weight="bold" fill="#2a2a2a" text-anchor="middle">A7</text>
<text x="381.9" y="2207.2" font-size="14.5" font-weight="bold" fill="#2a2a2a" text-anchor="middle">A2</text>
<text x="320.4" y="1935.6" font-size="35" font-weight="bold" text-anchor="middle">scATAC (<tspan font-style="italic">Plagl1</tspan>)</text>
<defs><pattern id="p_notch1" x="125.32999999999998" y="2360.15" width="7.96" height="13.8" patternUnits="userSpaceOnUse">
<ellipse cx="3.98" cy="-3.45" rx="3.0" ry="3.42" fill="#fff"/><ellipse cx="3.98" cy="3.45" rx="3.0" ry="3.42" fill="#fff"/><ellipse cx="3.98" cy="10.35" rx="3.0" ry="3.42" fill="#fff"/><ellipse cx="3.98" cy="17.25" rx="3.0" ry="3.42" fill="#fff"/></pattern>
<mask id="m_notch1" maskUnits="userSpaceOnUse" x="124.1" y="2358.4" width="400" height="349">
<rect x="126.1" y="2360.4" width="396" height="346" fill="url(#p_notch1)"/>
<g transform="translate(3.2,410.0)" fill="#000"><path d="M404,1950 L489,1950 L489,1984 L505,1998 L520,1998 L520,2053 L497,2053 L497,2059 L472,2059 L472,2053 L438,2053 L438,2060 L430,2061 L425,2048 L425,2030 L432,2026 L432,2020 L425,2017 L425,1986 L432,1984 L432,1975 L422,1970 L412,1964 L410,1958 L404,1957Z"/><path d="M124,1993 L154,1993 L154,2011 L162,2011 L162,2022 L124,2022Z"/><path d="M124,2063 L160,2062 L160,2060 L218,2066 L218,2082 L188,2082 L188,2096 L146,2096 L146,2077 L124,2074Z"/><path d="M124,2179 L139,2179 L139,2241 L124,2241Z"/><path d="M194,2159 L218,2157 L218,2186 L194,2186Z"/><path d="M185,2234 L210,2234 L210,2274 L226,2274 L226,2291 L185,2291Z"/><path d="M159,2261 L171,2261 L171,2278 L159,2278Z"/><path d="M289,2192 L299,2192 L301,2225 L318,2250 L344,2262 L346,2278 L289,2280Z"/><path d="M496,2174 L520,2174 L520,2188 L496,2188Z"/><path d="M393,2169 L402,2169 L402,2180 L393,2180Z"/><path d="M515,2220 L520,2220 L520,2240 L515,2240Z"/></g>
</mask>
<filter id="dv_notch1" x="0" y="0" width="100%" height="100%"><feTurbulence type="fractalNoise" baseFrequency="0.13" numOctaves="2" seed="13" result="t"/><feColorMatrix in="t" type="matrix" values="0 0 0 0 0.4  0 0 0 0 0.22  0 0 0 0 0.62  1.6 0 0 0 -0.62" result="c"/><feComposite in="c" in2="SourceGraphic" operator="in"/></filter>
<filter id="bl_notch1" x="-20%" y="-20%" width="140%" height="140%"><feGaussianBlur stdDeviation="3.5"/></filter>
</defs>
<rect x="124.1" y="2358.4" width="399" height="349" fill="#f4eef5"/>
<g transform="translate(3.2,410.0)" fill="#fff"><path d="M404,1950 L489,1950 L489,1984 L505,1998 L520,1998 L520,2053 L497,2053 L497,2059 L472,2059 L472,2053 L438,2053 L438,2060 L430,2061 L425,2048 L425,2030 L432,2026 L432,2020 L425,2017 L425,1986 L432,1984 L432,1975 L422,1970 L412,1964 L410,1958 L404,1957Z"/><path d="M124,1993 L154,1993 L154,2011 L162,2011 L162,2022 L124,2022Z"/><path d="M124,2063 L160,2062 L160,2060 L218,2066 L218,2082 L188,2082 L188,2096 L146,2096 L146,2077 L124,2074Z"/><path d="M124,2179 L139,2179 L139,2241 L124,2241Z"/><path d="M194,2159 L218,2157 L218,2186 L194,2186Z"/><path d="M185,2234 L210,2234 L210,2274 L226,2274 L226,2291 L185,2291Z"/><path d="M159,2261 L171,2261 L171,2278 L159,2278Z"/><path d="M289,2192 L299,2192 L301,2225 L318,2250 L344,2262 L346,2278 L289,2280Z"/><path d="M496,2174 L520,2174 L520,2188 L496,2188Z"/><path d="M393,2169 L402,2169 L402,2180 L393,2180Z"/><path d="M515,2220 L520,2220 L520,2240 L515,2240Z"/></g>
<g mask="url(#m_notch1)"><rect x="124.1" y="2358.4" width="400" height="349" fill="#aa66c4"/><g transform="translate(3.2,410.0)"><g filter="url(#bl_notch1)"><path d="M122,1962 L176,1962 L176,1988 L122,1988Z" fill="#e8d468" opacity="0.85"/><path d="M155,1978 L170,1978 L170,2020 L155,2020Z" fill="#e8d060" opacity="0.85"/><path d="M122,2016 L219,2016 L219,2066 L122,2066Z" fill="#e4aa78" opacity="0.75"/><path d="M123,2066 L185,2066 L185,2117 L123,2117Z" fill="#7060cc" opacity="0.75"/><path d="M219,2041 L248,2041 L248,2082 L219,2082Z" fill="#7060cc" opacity="0.6"/><path d="M218,2142 L233,2142 L233,2294 L218,2294Z" fill="#ecdc5a" opacity="0.9"/><path d="M123,2158 L184,2158 L184,2177 L123,2177Z" fill="#e8d060" opacity="0.8"/><path d="M138,2177 L157,2177 L157,2240 L138,2240Z" fill="#e8b868" opacity="0.75"/><path d="M123,2240 L186,2240 L186,2294 L123,2294Z" fill="#7a62d0" opacity="0.7"/><ellipse cx="418" cy="2176" rx="12" ry="18" fill="#7060cc" opacity="0.7"/><path d="M392,2260 L486,2260 L486,2270 L392,2270Z" fill="#7060cc" opacity="0.7"/><path d="M364,2284 L388,2284 L388,2296 L364,2296Z" fill="#e8d060" opacity="0.9"/><ellipse cx="420" cy="1990" rx="25" ry="25" fill="#9060cc" opacity="0.45"/><ellipse cx="300" cy="2120" rx="50" ry="60" fill="#c080d0" opacity="0.35"/></g><circle cx="302.3" cy="1995.3" r="15.5" fill="none" stroke="#ecc868" stroke-width="7" opacity="0.85"/></g><rect x="124.1" y="2358.4" width="400" height="349" fill="#fff" filter="url(#dv_notch1)"/></g>
<rect x="125.6" y="2359.9" width="396" height="346" fill="none" stroke="#000" stroke-width="3" stroke-dasharray="3.5 3.5"/>
<text x="305.5" y="2407.8" font-size="14.5" font-weight="bold" fill="#2a2a2a" text-anchor="middle">A3</text>
<text x="376.5" y="2517.7" font-size="14.5" font-weight="bold" fill="#2a2a2a" text-anchor="middle">A4</text>
<text x="264.8" y="2532.1" font-size="14.5" font-weight="bold" fill="#2a2a2a" text-anchor="middle">A1</text>
<text x="376.5" y="2553.0" font-size="14.5" font-weight="bold" fill="#2a2a2a" text-anchor="middle">A0</text>
<text x="233.7" y="2559.7" font-size="14.5" font-weight="bold" fill="#2a2a2a" text-anchor="middle">A6</text>
<text x="369.3" y="2566.5" font-size="14.5" font-weight="bold" fill="#2a2a2a" text-anchor="middle">A5</text>
<text x="184.39999999999998" y="2580.4" font-size="14.5" font-weight="bold" fill="#2a2a2a" text-anchor="middle">A7</text>
<text x="385.09999999999997" y="2614.7" font-size="14.5" font-weight="bold" fill="#2a2a2a" text-anchor="middle">A2</text>
<text x="321.5" y="2344.2" font-size="36.4" font-weight="bold" text-anchor="middle">scATAC (<tspan font-style="italic">Notch1</tspan>)</text>
<defs>
<filter id="nucf" x="-5%" y="-5%" width="110%" height="110%">
<feGaussianBlur in="SourceGraphic" stdDeviation="2.2" result="b"/>
<feTurbulence type="fractalNoise" baseFrequency="0.2" numOctaves="1" seed="2" result="t"/>
<feColorMatrix in="t" type="matrix" values="0 0 0 0 0.4  0 0 0 0 0.4  0 0 0 0 0.9  6 0 0 0 -3.7" result="sp"/>
<feGaussianBlur in="sp" stdDeviation="1.0" result="spb"/>
<feComposite in="spb" in2="b" operator="in" result="s"/>
<feMerge><feMergeNode in="b"/><feMergeNode in="s"/></feMerge>
</filter>
<filter id="gbg" x="0" y="0" width="100%" height="100%">
<feTurbulence type="fractalNoise" baseFrequency="0.02" numOctaves="3" seed="8" result="t"/>
<feColorMatrix in="t" type="matrix" values="0 0 0 0 0.06  0 0 0 0 0.17  0 0 0 0 0.07  1.0 0 0 0 -0.45" result="m"/>
<feTurbulence type="fractalNoise" baseFrequency="0.9" numOctaves="1" seed="5" result="t2"/>
<feColorMatrix in="t2" type="matrix" values="0 0 0 0 0.15  0 0 0 0 0.45  0 0 0 0 0.15  12 0 0 0 -8.2" result="m2"/>
<feMerge result="mm"><feMergeNode in="m"/><feMergeNode in="m2"/></feMerge>
<feComposite in="mm" in2="SourceGraphic" operator="in"/>
</filter>
<radialGradient id="ngD" cx="0.5" cy="0.45" r="0.55"><stop offset="0" stop-color="#4646ba"/><stop offset="0.65" stop-color="#3434a2"/><stop offset="1" stop-color="#24247e"/></radialGradient>
<radialGradient id="ngM" cx="0.5" cy="0.45" r="0.55"><stop offset="0" stop-color="#4a4cbc"/><stop offset="0.65" stop-color="#3838a8"/><stop offset="1" stop-color="#282884"/></radialGradient>
<filter id="gblur" x="-30%" y="-30%" width="160%" height="160%"><feGaussianBlur stdDeviation="1.4"/></filter>
</defs>
<text x="1017.5" y="1642.4" font-size="41.5" font-weight="bold" fill="#231f20" text-anchor="middle">DAPI</text>
<text x="1341.5" y="1642.4" font-size="41.5" font-weight="bold" fill="#231f20" text-anchor="middle">GFP</text>
<text x="1659.6" y="1642.4" font-size="41.5" font-weight="bold" fill="#231f20" text-anchor="middle">Merge</text>
<text x="813" y="1546" font-size="50" font-weight="bold" fill="#231f20">g</text>
<svg x="868.3" y="1664.2" width="316.0" height="315.6" viewBox="868.3 1664.2 316.0 315.6" overflow="hidden">
<rect x="868.3" y="1664.2" width="316.0" height="315.6" fill="#020206"/>
<g filter="url(#nucf)"><g fill="url(#ngD)"><ellipse cx="1053.2" cy="1720.8" rx="17.6" ry="13.4" transform="rotate(174 1053.2 1720.8)"/><ellipse cx="1040.1" cy="1722.2" rx="12.1" ry="9.9" transform="rotate(199 1040.1 1722.2)"/><ellipse cx="1021.5" cy="1915.8" rx="13.7" ry="11.9" transform="rotate(59 1021.5 1915.8)"/><ellipse cx="1030.7" cy="1920.4" rx="10.9" ry="8.9" transform="rotate(51 1030.7 1920.4)"/><ellipse cx="1016.9" cy="1764.3" rx="12.3" ry="12.3" transform="rotate(115 1016.9 1764.3)"/><ellipse cx="1013.4" cy="1772.9" rx="8.8" ry="7.2" transform="rotate(124 1013.4 1772.9)"/><ellipse cx="1067.8" cy="1765.1" rx="22.2" ry="8.5" transform="rotate(155 1067.8 1765.1)"/><ellipse cx="1000.7" cy="1790.4" rx="12.6" ry="9.6" transform="rotate(120 1000.7 1790.4)"/><ellipse cx="1001.1" cy="1799.8" rx="9.3" ry="7.6" transform="rotate(113 1001.1 1799.8)"/><ellipse cx="979.7" cy="1743.1" rx="17.9" ry="13.6" transform="rotate(147 979.7 1743.1)"/><ellipse cx="974.5" cy="1755.5" rx="10.5" ry="8.6" transform="rotate(159 974.5 1755.5)"/><ellipse cx="1102.1" cy="1776.5" rx="15.2" ry="11.5" transform="rotate(117 1102.1 1776.5)"/><ellipse cx="920.4" cy="1832.1" rx="14.8" ry="14.8" transform="rotate(157 920.4 1832.1)"/><ellipse cx="911.4" cy="1838.5" rx="13.6" ry="11.1" transform="rotate(180 911.4 1838.5)"/><ellipse cx="1138.7" cy="1695.6" rx="26.6" ry="10.1" transform="rotate(127 1138.7 1695.6)"/><ellipse cx="1072.0" cy="1883.6" rx="15.4" ry="9.8" transform="rotate(166 1072.0 1883.6)"/><ellipse cx="1178.1" cy="1949.5" rx="14.6" ry="9.3" transform="rotate(61 1178.1 1949.5)"/><ellipse cx="1191.8" cy="1809.7" rx="14.9" ry="12.9" transform="rotate(35 1191.8 1809.7)"/><ellipse cx="1195.7" cy="1820.2" rx="9.9" ry="8.1" transform="rotate(17 1195.7 1820.2)"/><ellipse cx="897.5" cy="1981.5" rx="11.9" ry="11.9" transform="rotate(162 897.5 1981.5)"/><ellipse cx="889.2" cy="1978.4" rx="8.5" ry="6.9" transform="rotate(133 889.2 1978.4)"/><ellipse cx="991.6" cy="1859.5" rx="11.8" ry="10.2" transform="rotate(118 991.6 1859.5)"/><ellipse cx="990.1" cy="1868.2" rx="9.0" ry="7.4" transform="rotate(121 990.1 1868.2)"/><ellipse cx="1171.4" cy="1751.8" rx="17.4" ry="13.3" transform="rotate(122 1171.4 1751.8)"/><ellipse cx="1107.6" cy="1827.4" rx="13.5" ry="13.5" transform="rotate(39 1107.6 1827.4)"/><ellipse cx="1116.5" cy="1832.3" rx="10.6" ry="8.6" transform="rotate(49 1116.5 1832.3)"/><ellipse cx="940.2" cy="1800.5" rx="11.8" ry="11.8" transform="rotate(82 940.2 1800.5)"/><ellipse cx="940.5" cy="1809.4" rx="8.9" ry="7.3" transform="rotate(105 940.5 1809.4)"/><ellipse cx="1005.9" cy="1673.3" rx="11.4" ry="11.4" transform="rotate(99 1005.9 1673.3)"/><ellipse cx="1014.7" cy="1982.3" rx="12.9" ry="9.8" transform="rotate(166 1014.7 1982.3)"/><ellipse cx="1127.7" cy="1867.0" rx="19.5" ry="12.4" transform="rotate(6 1127.7 1867.0)"/><ellipse cx="1089.8" cy="1980.1" rx="19.2" ry="9.5" transform="rotate(144 1089.8 1980.1)"/><ellipse cx="1078.5" cy="1989.1" rx="11.2" ry="9.1" transform="rotate(120 1078.5 1989.1)"/><ellipse cx="862.4" cy="1774.6" rx="12.9" ry="12.9" transform="rotate(116 862.4 1774.6)"/><ellipse cx="1164.5" cy="1915.6" rx="11.4" ry="11.4" transform="rotate(133 1164.5 1915.6)"/><ellipse cx="1161.8" cy="1923.7" rx="9.1" ry="7.5" transform="rotate(146 1161.8 1923.7)"/><ellipse cx="1165.3" cy="1825.7" rx="13.2" ry="13.2" transform="rotate(41 1165.3 1825.7)"/><ellipse cx="1167.8" cy="1835.3" rx="12.0" ry="9.8" transform="rotate(45 1167.8 1835.3)"/><ellipse cx="897.0" cy="1669.8" rx="18.5" ry="11.8" transform="rotate(110 897.0 1669.8)"/><ellipse cx="956.0" cy="1832.2" rx="11.8" ry="11.8" transform="rotate(178 956.0 1832.2)"/><ellipse cx="947.9" cy="1828.6" rx="9.9" ry="8.1" transform="rotate(170 947.9 1828.6)"/><ellipse cx="1124.8" cy="1947.3" rx="21.9" ry="10.8" transform="rotate(128 1124.8 1947.3)"/><ellipse cx="1124.8" cy="1963.7" rx="10.2" ry="8.3" transform="rotate(151 1124.8 1963.7)"/><ellipse cx="1016.2" cy="1722.6" rx="13.5" ry="10.3" transform="rotate(27 1016.2 1722.6)"/><ellipse cx="924.6" cy="1747.0" rx="16.0" ry="13.9" transform="rotate(5 924.6 1747.0)"/><ellipse cx="871.4" cy="1952.1" rx="21.1" ry="10.4" transform="rotate(23 871.4 1952.1)"/><ellipse cx="1175.3" cy="1860.7" rx="17.5" ry="13.3" transform="rotate(139 1175.3 1860.7)"/><ellipse cx="878.7" cy="1878.9" rx="14.8" ry="12.8" transform="rotate(16 878.7 1878.9)"/><ellipse cx="982.8" cy="1928.6" rx="25.0" ry="9.6" transform="rotate(39 982.8 1928.6)"/><ellipse cx="875.8" cy="1832.1" rx="16.9" ry="8.3" transform="rotate(128 875.8 1832.1)"/><ellipse cx="1116.0" cy="1902.5" rx="16.0" ry="12.1" transform="rotate(70 1116.0 1902.5)"/><ellipse cx="1119.4" cy="1914.0" rx="12.0" ry="9.8" transform="rotate(67 1119.4 1914.0)"/><ellipse cx="1163.0" cy="1674.3" rx="13.1" ry="13.1" transform="rotate(133 1163.0 1674.3)"/><ellipse cx="1153.8" cy="1677.8" rx="9.2" ry="7.6" transform="rotate(111 1153.8 1677.8)"/><ellipse cx="1089.3" cy="1720.2" rx="13.6" ry="10.4" transform="rotate(9 1089.3 1720.2)"/><ellipse cx="1099.0" cy="1716.9" rx="9.0" ry="7.4" transform="rotate(-3 1099.0 1716.9)"/><ellipse cx="907.0" cy="1708.8" rx="14.1" ry="14.1" transform="rotate(76 907.0 1708.8)"/><ellipse cx="948.9" cy="1966.2" rx="28.5" ry="10.9" transform="rotate(114 948.9 1966.2)"/><ellipse cx="1154.5" cy="1886.9" rx="14.4" ry="12.5" transform="rotate(57 1154.5 1886.9)"/><ellipse cx="1031.7" cy="1796.2" rx="13.5" ry="13.5" transform="rotate(142 1031.7 1796.2)"/><ellipse cx="864.0" cy="1692.1" rx="27.5" ry="10.5" transform="rotate(78 864.0 1692.1)"/><ellipse cx="875.7" cy="1709.1" rx="11.5" ry="9.4" transform="rotate(83 875.7 1709.1)"/><ellipse cx="919.1" cy="1917.8" rx="14.9" ry="12.9" transform="rotate(100 919.1 1917.8)"/><ellipse cx="981.5" cy="1893.9" rx="27.4" ry="10.5" transform="rotate(36 981.5 1893.9)"/><ellipse cx="1035.7" cy="1888.1" rx="12.1" ry="12.1" transform="rotate(42 1035.7 1888.1)"/><ellipse cx="1090.0" cy="1665.4" rx="13.6" ry="11.8" transform="rotate(33 1090.0 1665.4)"/><ellipse cx="1032.3" cy="1952.1" rx="11.9" ry="10.3" transform="rotate(78 1032.3 1952.1)"/><ellipse cx="1134.3" cy="1734.2" rx="18.0" ry="8.9" transform="rotate(60 1134.3 1734.2)"/><ellipse cx="933.7" cy="1889.2" rx="15.9" ry="10.1" transform="rotate(95 933.7 1889.2)"/><ellipse cx="896.2" cy="1758.0" rx="16.5" ry="12.6" transform="rotate(85 896.2 1758.0)"/><ellipse cx="904.8" cy="1766.9" rx="10.9" ry="8.9" transform="rotate(61 904.8 1766.9)"/><ellipse cx="1178.4" cy="1708.4" rx="18.4" ry="11.7" transform="rotate(135 1178.4 1708.4)"/><ellipse cx="1035.0" cy="1838.6" rx="18.1" ry="8.9" transform="rotate(128 1035.0 1838.6)"/><ellipse cx="957.9" cy="1673.1" rx="15.8" ry="13.7" transform="rotate(141 957.9 1673.1)"/><ellipse cx="1151.3" cy="1978.0" rx="15.9" ry="12.1" transform="rotate(129 1151.3 1978.0)"/><ellipse cx="1032.7" cy="1692.3" rx="17.2" ry="13.1" transform="rotate(176 1032.7 1692.3)"/><ellipse cx="1020.7" cy="1697.0" rx="12.1" ry="9.9" transform="rotate(178 1020.7 1697.0)"/><ellipse cx="983.0" cy="1985.2" rx="26.1" ry="10.0" transform="rotate(104 983.0 1985.2)"/><ellipse cx="972.8" cy="2001.9" rx="11.6" ry="9.5" transform="rotate(120 972.8 2001.9)"/><ellipse cx="1140.1" cy="1807.2" rx="14.0" ry="10.7" transform="rotate(161 1140.1 1807.2)"/><ellipse cx="954.8" cy="1711.4" rx="13.5" ry="11.7" transform="rotate(92 954.8 1711.4)"/><ellipse cx="958.8" cy="1867.4" rx="16.7" ry="10.6" transform="rotate(31 958.8 1867.4)"/><ellipse cx="1069.4" cy="1804.3" rx="23.1" ry="8.8" transform="rotate(2 1069.4 1804.3)"/><ellipse cx="905.2" cy="1791.0" rx="19.7" ry="9.7" transform="rotate(120 905.2 1791.0)"/><ellipse cx="906.3" cy="1805.7" rx="10.5" ry="8.6" transform="rotate(97 906.3 1805.7)"/><ellipse cx="1164.5" cy="1788.0" rx="18.9" ry="9.3" transform="rotate(131 1164.5 1788.0)"/><ellipse cx="1131.7" cy="1768.3" rx="16.2" ry="14.0" transform="rotate(116 1131.7 1768.3)"/><ellipse cx="1099.2" cy="1930.7" rx="12.8" ry="9.7" transform="rotate(12 1099.2 1930.7)"/><ellipse cx="878.9" cy="1921.6" rx="14.3" ry="9.1" transform="rotate(31 878.9 1921.6)"/><ellipse cx="1190.5" cy="1977.0" rx="13.8" ry="12.0" transform="rotate(160 1190.5 1977.0)"/><ellipse cx="928.7" cy="1686.2" rx="14.4" ry="10.9" transform="rotate(69 928.7 1686.2)"/><ellipse cx="1089.1" cy="1855.2" rx="15.1" ry="13.1" transform="rotate(175 1089.1 1855.2)"/><ellipse cx="1078.9" cy="1850.3" rx="11.0" ry="9.0" transform="rotate(163 1078.9 1850.3)"/><ellipse cx="1191.2" cy="1663.8" rx="22.1" ry="8.4" transform="rotate(115 1191.2 1663.8)"/><ellipse cx="1003.3" cy="1828.4" rx="14.8" ry="14.8" transform="rotate(23 1003.3 1828.4)"/><ellipse cx="912.7" cy="1948.6" rx="13.5" ry="11.7" transform="rotate(68 912.7 1948.6)"/><ellipse cx="919.2" cy="1956.3" rx="8.2" ry="6.7" transform="rotate(43 919.2 1956.3)"/><ellipse cx="864.1" cy="1726.2" rx="12.8" ry="12.8" transform="rotate(122 864.1 1726.2)"/></g></g>
</svg>
<svg x="1190.3" y="1664.2" width="316.0" height="315.6" viewBox="1190.3 1664.2 316.0 315.6" overflow="hidden">
<rect x="1190.3" y="1664.2" width="316.0" height="315.6" fill="#0b1d0c"/>
<rect x="1190.3" y="1664.2" width="316.0" height="315.6" fill="#fff" filter="url(#gbg)"/>
<g fill="#3a9a40" opacity="0.6"><rect x="1237.7" y="1857.8" width="1.3" height="1.3"/><rect x="1244.4" y="1887.9" width="1.3" height="1.3"/><rect x="1381.6" y="1785.3" width="1.3" height="1.3"/><rect x="1384.6" y="1842.2" width="1.3" height="1.3"/><rect x="1204.8" y="1830.9" width="1.3" height="1.3"/><rect x="1385.3" y="1827.6" width="1.3" height="1.3"/><rect x="1466.6" y="1895.1" width="1.3" height="1.3"/><rect x="1309.3" y="1736.1" width="1.3" height="1.3"/><rect x="1231.4" y="1918.5" width="1.3" height="1.3"/><rect x="1407.2" y="1855.7" width="1.3" height="1.3"/><rect x="1329.6" y="1821.8" width="1.3" height="1.3"/><rect x="1260.8" y="1831.0" width="1.3" height="1.3"/><rect x="1236.8" y="1859.4" width="1.3" height="1.3"/><rect x="1388.5" y="1874.7" width="1.3" height="1.3"/><rect x="1268.4" y="1694.0" width="1.3" height="1.3"/><rect x="1295.5" y="1880.2" width="1.3" height="1.3"/><rect x="1350.9" y="1898.9" width="1.3" height="1.3"/><rect x="1326.2" y="1789.8" width="1.3" height="1.3"/><rect x="1475.4" y="1717.4" width="1.3" height="1.3"/><rect x="1256.2" y="1849.3" width="1.3" height="1.3"/><rect x="1388.9" y="1800.5" width="1.3" height="1.3"/><rect x="1366.0" y="1802.9" width="1.3" height="1.3"/><rect x="1400.6" y="1943.0" width="1.3" height="1.3"/><rect x="1449.5" y="1865.0" width="1.3" height="1.3"/><rect x="1338.5" y="1961.4" width="1.3" height="1.3"/><rect x="1331.3" y="1860.8" width="1.3" height="1.3"/><rect x="1463.1" y="1878.8" width="1.3" height="1.3"/><rect x="1313.6" y="1897.5" width="1.3" height="1.3"/><rect x="1379.2" y="1951.2" width="1.3" height="1.3"/><rect x="1386.3" y="1832.0" width="1.3" height="1.3"/><rect x="1496.2" y="1830.1" width="1.3" height="1.3"/><rect x="1316.0" y="1958.3" width="1.3" height="1.3"/><rect x="1486.8" y="1719.0" width="1.3" height="1.3"/><rect x="1214.0" y="1933.4" width="1.3" height="1.3"/><rect x="1467.6" y="1785.4" width="1.3" height="1.3"/><rect x="1271.0" y="1879.2" width="1.3" height="1.3"/><rect x="1485.6" y="1731.8" width="1.3" height="1.3"/><rect x="1331.5" y="1872.4" width="1.3" height="1.3"/><rect x="1260.4" y="1794.9" width="1.3" height="1.3"/><rect x="1236.0" y="1815.2" width="1.3" height="1.3"/><rect x="1263.3" y="1690.4" width="1.3" height="1.3"/><rect x="1313.1" y="1712.2" width="1.3" height="1.3"/><rect x="1228.5" y="1712.3" width="1.3" height="1.3"/><rect x="1322.0" y="1764.6" width="1.3" height="1.3"/><rect x="1419.3" y="1794.7" width="1.3" height="1.3"/><rect x="1267.4" y="1724.0" width="1.3" height="1.3"/><rect x="1284.3" y="1897.6" width="1.3" height="1.3"/><rect x="1254.4" y="1810.6" width="1.3" height="1.3"/><rect x="1443.8" y="1924.6" width="1.3" height="1.3"/><rect x="1336.0" y="1928.6" width="1.3" height="1.3"/><rect x="1392.4" y="1736.1" width="1.3" height="1.3"/><rect x="1220.4" y="1718.4" width="1.3" height="1.3"/><rect x="1438.6" y="1787.0" width="1.3" height="1.3"/><rect x="1453.4" y="1967.6" width="1.3" height="1.3"/><rect x="1479.1" y="1811.9" width="1.3" height="1.3"/><rect x="1193.7" y="1751.6" width="1.3" height="1.3"/><rect x="1259.8" y="1868.1" width="1.3" height="1.3"/><rect x="1411.0" y="1953.3" width="1.3" height="1.3"/><rect x="1412.0" y="1965.2" width="1.3" height="1.3"/><rect x="1391.0" y="1813.6" width="1.3" height="1.3"/><rect x="1453.2" y="1750.9" width="1.3" height="1.3"/><rect x="1435.0" y="1892.6" width="1.3" height="1.3"/><rect x="1462.6" y="1684.1" width="1.3" height="1.3"/><rect x="1250.3" y="1962.1" width="1.3" height="1.3"/><rect x="1235.8" y="1806.3" width="1.3" height="1.3"/><rect x="1379.6" y="1815.9" width="1.3" height="1.3"/><rect x="1466.5" y="1963.9" width="1.3" height="1.3"/><rect x="1298.1" y="1707.2" width="1.3" height="1.3"/><rect x="1477.5" y="1807.0" width="1.3" height="1.3"/><rect x="1269.1" y="1708.4" width="1.3" height="1.3"/><rect x="1194.1" y="1847.3" width="1.3" height="1.3"/><rect x="1279.3" y="1839.1" width="1.3" height="1.3"/><rect x="1480.6" y="1816.6" width="1.3" height="1.3"/><rect x="1489.7" y="1686.1" width="1.3" height="1.3"/><rect x="1428.6" y="1901.1" width="1.3" height="1.3"/><rect x="1491.4" y="1674.9" width="1.3" height="1.3"/><rect x="1349.9" y="1839.1" width="1.3" height="1.3"/><rect x="1378.6" y="1812.5" width="1.3" height="1.3"/><rect x="1276.7" y="1947.4" width="1.3" height="1.3"/><rect x="1466.1" y="1884.4" width="1.3" height="1.3"/><rect x="1491.5" y="1838.2" width="1.3" height="1.3"/><rect x="1216.2" y="1882.2" width="1.3" height="1.3"/><rect x="1224.1" y="1899.9" width="1.3" height="1.3"/><rect x="1394.3" y="1729.9" width="1.3" height="1.3"/><rect x="1239.0" y="1686.3" width="1.3" height="1.3"/><rect x="1246.7" y="1970.9" width="1.3" height="1.3"/><rect x="1262.6" y="1941.5" width="1.3" height="1.3"/><rect x="1233.4" y="1771.1" width="1.3" height="1.3"/><rect x="1339.1" y="1777.2" width="1.3" height="1.3"/><rect x="1493.1" y="1740.3" width="1.3" height="1.3"/><rect x="1342.7" y="1729.3" width="1.3" height="1.3"/><rect x="1225.5" y="1881.0" width="1.3" height="1.3"/><rect x="1297.4" y="1817.4" width="1.3" height="1.3"/><rect x="1408.1" y="1693.0" width="1.3" height="1.3"/><rect x="1208.4" y="1880.1" width="1.3" height="1.3"/><rect x="1502.3" y="1671.0" width="1.3" height="1.3"/><rect x="1332.8" y="1976.1" width="1.3" height="1.3"/><rect x="1452.0" y="1974.5" width="1.3" height="1.3"/><rect x="1356.9" y="1969.0" width="1.3" height="1.3"/><rect x="1208.8" y="1812.7" width="1.3" height="1.3"/><rect x="1456.7" y="1787.3" width="1.3" height="1.3"/><rect x="1329.2" y="1805.6" width="1.3" height="1.3"/><rect x="1310.2" y="1919.3" width="1.3" height="1.3"/><rect x="1495.8" y="1737.3" width="1.3" height="1.3"/><rect x="1292.2" y="1916.5" width="1.3" height="1.3"/><rect x="1424.2" y="1919.8" width="1.3" height="1.3"/><rect x="1404.7" y="1951.2" width="1.3" height="1.3"/><rect x="1455.8" y="1863.3" width="1.3" height="1.3"/><rect x="1280.1" y="1691.8" width="1.3" height="1.3"/><rect x="1460.5" y="1933.4" width="1.3" height="1.3"/><rect x="1470.3" y="1748.0" width="1.3" height="1.3"/><rect x="1422.4" y="1956.1" width="1.3" height="1.3"/><rect x="1256.0" y="1672.6" width="1.3" height="1.3"/><rect x="1245.8" y="1733.6" width="1.3" height="1.3"/><rect x="1404.1" y="1921.9" width="1.3" height="1.3"/><rect x="1447.6" y="1880.6" width="1.3" height="1.3"/><rect x="1497.5" y="1969.1" width="1.3" height="1.3"/><rect x="1328.8" y="1953.3" width="1.3" height="1.3"/><rect x="1416.4" y="1741.8" width="1.3" height="1.3"/><rect x="1374.5" y="1718.5" width="1.3" height="1.3"/></g>
<g fill="#3cd04e" filter="url(#gblur)"><ellipse cx="1270.3" cy="1860.2" rx="16" ry="8" transform="rotate(25 1270.3 1860.2)"/><path d="M1262.3,1854.2 L1254.3,1835.2 L1260.3,1837.2 L1268.3,1852.2Z"/><ellipse cx="1385.3" cy="1852.2" rx="8" ry="17" transform="rotate(15 1385.3 1852.2)"/><path d="M1382.3,1836.2 C1395.3,1824.2 1402.3,1814.2 1405.3,1794.2" fill="none" stroke-width="3.5" stroke="#2fa03c"/><path d="M1405.3,1794.2 C1410.3,1769.2 1415.3,1759.2 1425.3,1744.2 C1440.3,1724.2 1452.3,1704.2 1470.3,1686.2" fill="none" stroke-width="1.5" stroke="#2a8a36"/></g>
</svg>
<svg x="1511.0" y="1664.2" width="316.0" height="315.6" viewBox="1511.0 1664.2 316.0 315.6" overflow="hidden">
<rect x="1511.0" y="1664.2" width="316.0" height="315.6" fill="#0b1d0c"/>
<rect x="1511.0" y="1664.2" width="316.0" height="315.6" fill="#fff" filter="url(#gbg)"/>
<g fill="#3a9a40" opacity="0.5"><rect x="1558.4" y="1857.8" width="1.3" height="1.3"/><rect x="1565.1" y="1887.9" width="1.3" height="1.3"/><rect x="1702.3" y="1785.3" width="1.3" height="1.3"/><rect x="1705.3" y="1842.2" width="1.3" height="1.3"/><rect x="1525.5" y="1830.9" width="1.3" height="1.3"/><rect x="1706.0" y="1827.6" width="1.3" height="1.3"/><rect x="1787.3" y="1895.1" width="1.3" height="1.3"/><rect x="1630.0" y="1736.1" width="1.3" height="1.3"/><rect x="1552.1" y="1918.5" width="1.3" height="1.3"/><rect x="1727.9" y="1855.7" width="1.3" height="1.3"/><rect x="1650.3" y="1821.8" width="1.3" height="1.3"/><rect x="1581.5" y="1831.0" width="1.3" height="1.3"/><rect x="1557.5" y="1859.4" width="1.3" height="1.3"/><rect x="1709.2" y="1874.7" width="1.3" height="1.3"/><rect x="1589.1" y="1694.0" width="1.3" height="1.3"/><rect x="1616.2" y="1880.2" width="1.3" height="1.3"/><rect x="1671.6" y="1898.9" width="1.3" height="1.3"/><rect x="1646.9" y="1789.8" width="1.3" height="1.3"/><rect x="1796.1" y="1717.4" width="1.3" height="1.3"/><rect x="1576.9" y="1849.3" width="1.3" height="1.3"/><rect x="1709.6" y="1800.5" width="1.3" height="1.3"/><rect x="1686.7" y="1802.9" width="1.3" height="1.3"/><rect x="1721.3" y="1943.0" width="1.3" height="1.3"/><rect x="1770.2" y="1865.0" width="1.3" height="1.3"/><rect x="1659.2" y="1961.4" width="1.3" height="1.3"/><rect x="1652.0" y="1860.8" width="1.3" height="1.3"/><rect x="1783.8" y="1878.8" width="1.3" height="1.3"/><rect x="1634.3" y="1897.5" width="1.3" height="1.3"/><rect x="1699.9" y="1951.2" width="1.3" height="1.3"/><rect x="1707.0" y="1832.0" width="1.3" height="1.3"/><rect x="1816.9" y="1830.1" width="1.3" height="1.3"/><rect x="1636.7" y="1958.3" width="1.3" height="1.3"/><rect x="1807.5" y="1719.0" width="1.3" height="1.3"/><rect x="1534.7" y="1933.4" width="1.3" height="1.3"/><rect x="1788.3" y="1785.4" width="1.3" height="1.3"/><rect x="1591.7" y="1879.2" width="1.3" height="1.3"/><rect x="1806.3" y="1731.8" width="1.3" height="1.3"/><rect x="1652.2" y="1872.4" width="1.3" height="1.3"/><rect x="1581.1" y="1794.9" width="1.3" height="1.3"/><rect x="1556.7" y="1815.2" width="1.3" height="1.3"/><rect x="1584.0" y="1690.4" width="1.3" height="1.3"/><rect x="1633.8" y="1712.2" width="1.3" height="1.3"/><rect x="1549.2" y="1712.3" width="1.3" height="1.3"/><rect x="1642.7" y="1764.6" width="1.3" height="1.3"/><rect x="1740.0" y="1794.7" width="1.3" height="1.3"/><rect x="1588.1" y="1724.0" width="1.3" height="1.3"/><rect x="1605.0" y="1897.6" width="1.3" height="1.3"/><rect x="1575.1" y="1810.6" width="1.3" height="1.3"/><rect x="1764.5" y="1924.6" width="1.3" height="1.3"/><rect x="1656.7" y="1928.6" width="1.3" height="1.3"/><rect x="1713.1" y="1736.1" width="1.3" height="1.3"/><rect x="1541.1" y="1718.4" width="1.3" height="1.3"/><rect x="1759.3" y="1787.0" width="1.3" height="1.3"/><rect x="1774.1" y="1967.6" width="1.3" height="1.3"/><rect x="1799.8" y="1811.9" width="1.3" height="1.3"/><rect x="1514.4" y="1751.6" width="1.3" height="1.3"/><rect x="1580.5" y="1868.1" width="1.3" height="1.3"/><rect x="1731.7" y="1953.3" width="1.3" height="1.3"/><rect x="1732.7" y="1965.2" width="1.3" height="1.3"/><rect x="1711.7" y="1813.6" width="1.3" height="1.3"/><rect x="1773.9" y="1750.9" width="1.3" height="1.3"/><rect x="1755.7" y="1892.6" width="1.3" height="1.3"/><rect x="1783.3" y="1684.1" width="1.3" height="1.3"/><rect x="1571.0" y="1962.1" width="1.3" height="1.3"/><rect x="1556.5" y="1806.3" width="1.3" height="1.3"/><rect x="1700.3" y="1815.9" width="1.3" height="1.3"/><rect x="1787.2" y="1963.9" width="1.3" height="1.3"/><rect x="1618.8" y="1707.2" width="1.3" height="1.3"/><rect x="1798.2" y="1807.0" width="1.3" height="1.3"/><rect x="1589.8" y="1708.4" width="1.3" height="1.3"/><rect x="1514.8" y="1847.3" width="1.3" height="1.3"/><rect x="1600.0" y="1839.1" width="1.3" height="1.3"/><rect x="1801.3" y="1816.6" width="1.3" height="1.3"/><rect x="1810.4" y="1686.1" width="1.3" height="1.3"/><rect x="1749.3" y="1901.1" width="1.3" height="1.3"/><rect x="1812.1" y="1674.9" width="1.3" height="1.3"/><rect x="1670.6" y="1839.1" width="1.3" height="1.3"/><rect x="1699.3" y="1812.5" width="1.3" height="1.3"/><rect x="1597.4" y="1947.4" width="1.3" height="1.3"/><rect x="1786.8" y="1884.4" width="1.3" height="1.3"/></g>
<g filter="url(#nucf)"><g fill="url(#ngM)"><ellipse cx="1695.9" cy="1720.8" rx="17.6" ry="13.4" transform="rotate(174 1695.9 1720.8)"/><ellipse cx="1682.8" cy="1722.2" rx="12.1" ry="9.9" transform="rotate(199 1682.8 1722.2)"/><ellipse cx="1664.2" cy="1915.8" rx="13.7" ry="11.9" transform="rotate(59 1664.2 1915.8)"/><ellipse cx="1673.4" cy="1920.4" rx="10.9" ry="8.9" transform="rotate(51 1673.4 1920.4)"/><ellipse cx="1659.6" cy="1764.3" rx="12.3" ry="12.3" transform="rotate(115 1659.6 1764.3)"/><ellipse cx="1656.1" cy="1772.9" rx="8.8" ry="7.2" transform="rotate(124 1656.1 1772.9)"/><ellipse cx="1710.5" cy="1765.1" rx="22.2" ry="8.5" transform="rotate(155 1710.5 1765.1)"/><ellipse cx="1643.4" cy="1790.4" rx="12.6" ry="9.6" transform="rotate(120 1643.4 1790.4)"/><ellipse cx="1643.8" cy="1799.8" rx="9.3" ry="7.6" transform="rotate(113 1643.8 1799.8)"/><ellipse cx="1622.4" cy="1743.1" rx="17.9" ry="13.6" transform="rotate(147 1622.4 1743.1)"/><ellipse cx="1617.2" cy="1755.5" rx="10.5" ry="8.6" transform="rotate(159 1617.2 1755.5)"/><ellipse cx="1744.8" cy="1776.5" rx="15.2" ry="11.5" transform="rotate(117 1744.8 1776.5)"/><ellipse cx="1563.1" cy="1832.1" rx="14.8" ry="14.8" transform="rotate(157 1563.1 1832.1)"/><ellipse cx="1554.1" cy="1838.5" rx="13.6" ry="11.1" transform="rotate(180 1554.1 1838.5)"/><ellipse cx="1781.4" cy="1695.6" rx="26.6" ry="10.1" transform="rotate(127 1781.4 1695.6)"/><ellipse cx="1714.7" cy="1883.6" rx="15.4" ry="9.8" transform="rotate(166 1714.7 1883.6)"/><ellipse cx="1820.8" cy="1949.5" rx="14.6" ry="9.3" transform="rotate(61 1820.8 1949.5)"/><ellipse cx="1834.5" cy="1809.7" rx="14.9" ry="12.9" transform="rotate(35 1834.5 1809.7)"/><ellipse cx="1838.4" cy="1820.2" rx="9.9" ry="8.1" transform="rotate(17 1838.4 1820.2)"/><ellipse cx="1540.2" cy="1981.5" rx="11.9" ry="11.9" transform="rotate(162 1540.2 1981.5)"/><ellipse cx="1531.9" cy="1978.4" rx="8.5" ry="6.9" transform="rotate(133 1531.9 1978.4)"/><ellipse cx="1634.3" cy="1859.5" rx="11.8" ry="10.2" transform="rotate(118 1634.3 1859.5)"/><ellipse cx="1632.8" cy="1868.2" rx="9.0" ry="7.4" transform="rotate(121 1632.8 1868.2)"/><ellipse cx="1814.1" cy="1751.8" rx="17.4" ry="13.3" transform="rotate(122 1814.1 1751.8)"/><ellipse cx="1750.3" cy="1827.4" rx="13.5" ry="13.5" transform="rotate(39 1750.3 1827.4)"/><ellipse cx="1759.2" cy="1832.3" rx="10.6" ry="8.6" transform="rotate(49 1759.2 1832.3)"/><ellipse cx="1582.9" cy="1800.5" rx="11.8" ry="11.8" transform="rotate(82 1582.9 1800.5)"/><ellipse cx="1583.2" cy="1809.4" rx="8.9" ry="7.3" transform="rotate(105 1583.2 1809.4)"/><ellipse cx="1648.6" cy="1673.3" rx="11.4" ry="11.4" transform="rotate(99 1648.6 1673.3)"/><ellipse cx="1657.4" cy="1982.3" rx="12.9" ry="9.8" transform="rotate(166 1657.4 1982.3)"/><ellipse cx="1770.4" cy="1867.0" rx="19.5" ry="12.4" transform="rotate(6 1770.4 1867.0)"/><ellipse cx="1732.5" cy="1980.1" rx="19.2" ry="9.5" transform="rotate(144 1732.5 1980.1)"/><ellipse cx="1721.2" cy="1989.1" rx="11.2" ry="9.1" transform="rotate(120 1721.2 1989.1)"/><ellipse cx="1505.1" cy="1774.6" rx="12.9" ry="12.9" transform="rotate(116 1505.1 1774.6)"/><ellipse cx="1807.2" cy="1915.6" rx="11.4" ry="11.4" transform="rotate(133 1807.2 1915.6)"/><ellipse cx="1804.5" cy="1923.7" rx="9.1" ry="7.5" transform="rotate(146 1804.5 1923.7)"/><ellipse cx="1808.0" cy="1825.7" rx="13.2" ry="13.2" transform="rotate(41 1808.0 1825.7)"/><ellipse cx="1810.5" cy="1835.3" rx="12.0" ry="9.8" transform="rotate(45 1810.5 1835.3)"/><ellipse cx="1539.7" cy="1669.8" rx="18.5" ry="11.8" transform="rotate(110 1539.7 1669.8)"/><ellipse cx="1598.7" cy="1832.2" rx="11.8" ry="11.8" transform="rotate(178 1598.7 1832.2)"/><ellipse cx="1590.6" cy="1828.6" rx="9.9" ry="8.1" transform="rotate(170 1590.6 1828.6)"/><ellipse cx="1767.5" cy="1947.3" rx="21.9" ry="10.8" transform="rotate(128 1767.5 1947.3)"/><ellipse cx="1767.5" cy="1963.7" rx="10.2" ry="8.3" transform="rotate(151 1767.5 1963.7)"/><ellipse cx="1658.9" cy="1722.6" rx="13.5" ry="10.3" transform="rotate(27 1658.9 1722.6)"/><ellipse cx="1567.3" cy="1747.0" rx="16.0" ry="13.9" transform="rotate(5 1567.3 1747.0)"/><ellipse cx="1514.1" cy="1952.1" rx="21.1" ry="10.4" transform="rotate(23 1514.1 1952.1)"/><ellipse cx="1818.0" cy="1860.7" rx="17.5" ry="13.3" transform="rotate(139 1818.0 1860.7)"/><ellipse cx="1521.4" cy="1878.9" rx="14.8" ry="12.8" transform="rotate(16 1521.4 1878.9)"/><ellipse cx="1625.5" cy="1928.6" rx="25.0" ry="9.6" transform="rotate(39 1625.5 1928.6)"/><ellipse cx="1518.5" cy="1832.1" rx="16.9" ry="8.3" transform="rotate(128 1518.5 1832.1)"/><ellipse cx="1758.7" cy="1902.5" rx="16.0" ry="12.1" transform="rotate(70 1758.7 1902.5)"/><ellipse cx="1762.1" cy="1914.0" rx="12.0" ry="9.8" transform="rotate(67 1762.1 1914.0)"/><ellipse cx="1805.7" cy="1674.3" rx="13.1" ry="13.1" transform="rotate(133 1805.7 1674.3)"/><ellipse cx="1796.5" cy="1677.8" rx="9.2" ry="7.6" transform="rotate(111 1796.5 1677.8)"/><ellipse cx="1732.0" cy="1720.2" rx="13.6" ry="10.4" transform="rotate(9 1732.0 1720.2)"/><ellipse cx="1741.7" cy="1716.9" rx="9.0" ry="7.4" transform="rotate(-3 1741.7 1716.9)"/><ellipse cx="1549.7" cy="1708.8" rx="14.1" ry="14.1" transform="rotate(76 1549.7 1708.8)"/><ellipse cx="1591.6" cy="1966.2" rx="28.5" ry="10.9" transform="rotate(114 1591.6 1966.2)"/><ellipse cx="1797.2" cy="1886.9" rx="14.4" ry="12.5" transform="rotate(57 1797.2 1886.9)"/><ellipse cx="1674.4" cy="1796.2" rx="13.5" ry="13.5" transform="rotate(142 1674.4 1796.2)"/><ellipse cx="1506.7" cy="1692.1" rx="27.5" ry="10.5" transform="rotate(78 1506.7 1692.1)"/><ellipse cx="1518.4" cy="1709.1" rx="11.5" ry="9.4" transform="rotate(83 1518.4 1709.1)"/><ellipse cx="1561.8" cy="1917.8" rx="14.9" ry="12.9" transform="rotate(100 1561.8 1917.8)"/><ellipse cx="1624.2" cy="1893.9" rx="27.4" ry="10.5" transform="rotate(36 1624.2 1893.9)"/><ellipse cx="1678.4" cy="1888.1" rx="12.1" ry="12.1" transform="rotate(42 1678.4 1888.1)"/><ellipse cx="1732.7" cy="1665.4" rx="13.6" ry="11.8" transform="rotate(33 1732.7 1665.4)"/><ellipse cx="1675.0" cy="1952.1" rx="11.9" ry="10.3" transform="rotate(78 1675.0 1952.1)"/><ellipse cx="1777.0" cy="1734.2" rx="18.0" ry="8.9" transform="rotate(60 1777.0 1734.2)"/><ellipse cx="1576.4" cy="1889.2" rx="15.9" ry="10.1" transform="rotate(95 1576.4 1889.2)"/><ellipse cx="1538.9" cy="1758.0" rx="16.5" ry="12.6" transform="rotate(85 1538.9 1758.0)"/><ellipse cx="1547.5" cy="1766.9" rx="10.9" ry="8.9" transform="rotate(61 1547.5 1766.9)"/><ellipse cx="1821.1" cy="1708.4" rx="18.4" ry="11.7" transform="rotate(135 1821.1 1708.4)"/><ellipse cx="1677.7" cy="1838.6" rx="18.1" ry="8.9" transform="rotate(128 1677.7 1838.6)"/><ellipse cx="1600.6" cy="1673.1" rx="15.8" ry="13.7" transform="rotate(141 1600.6 1673.1)"/><ellipse cx="1794.0" cy="1978.0" rx="15.9" ry="12.1" transform="rotate(129 1794.0 1978.0)"/><ellipse cx="1675.4" cy="1692.3" rx="17.2" ry="13.1" transform="rotate(176 1675.4 1692.3)"/><ellipse cx="1663.4" cy="1697.0" rx="12.1" ry="9.9" transform="rotate(178 1663.4 1697.0)"/><ellipse cx="1625.7" cy="1985.2" rx="26.1" ry="10.0" transform="rotate(104 1625.7 1985.2)"/><ellipse cx="1615.5" cy="2001.9" rx="11.6" ry="9.5" transform="rotate(120 1615.5 2001.9)"/><ellipse cx="1782.8" cy="1807.2" rx="14.0" ry="10.7" transform="rotate(161 1782.8 1807.2)"/><ellipse cx="1597.5" cy="1711.4" rx="13.5" ry="11.7" transform="rotate(92 1597.5 1711.4)"/><ellipse cx="1601.5" cy="1867.4" rx="16.7" ry="10.6" transform="rotate(31 1601.5 1867.4)"/><ellipse cx="1712.1" cy="1804.3" rx="23.1" ry="8.8" transform="rotate(2 1712.1 1804.3)"/><ellipse cx="1547.9" cy="1791.0" rx="19.7" ry="9.7" transform="rotate(120 1547.9 1791.0)"/><ellipse cx="1549.0" cy="1805.7" rx="10.5" ry="8.6" transform="rotate(97 1549.0 1805.7)"/><ellipse cx="1807.2" cy="1788.0" rx="18.9" ry="9.3" transform="rotate(131 1807.2 1788.0)"/><ellipse cx="1774.4" cy="1768.3" rx="16.2" ry="14.0" transform="rotate(116 1774.4 1768.3)"/><ellipse cx="1741.9" cy="1930.7" rx="12.8" ry="9.7" transform="rotate(12 1741.9 1930.7)"/><ellipse cx="1521.6" cy="1921.6" rx="14.3" ry="9.1" transform="rotate(31 1521.6 1921.6)"/><ellipse cx="1833.2" cy="1977.0" rx="13.8" ry="12.0" transform="rotate(160 1833.2 1977.0)"/><ellipse cx="1571.4" cy="1686.2" rx="14.4" ry="10.9" transform="rotate(69 1571.4 1686.2)"/><ellipse cx="1731.8" cy="1855.2" rx="15.1" ry="13.1" transform="rotate(175 1731.8 1855.2)"/><ellipse cx="1721.6" cy="1850.3" rx="11.0" ry="9.0" transform="rotate(163 1721.6 1850.3)"/><ellipse cx="1833.9" cy="1663.8" rx="22.1" ry="8.4" transform="rotate(115 1833.9 1663.8)"/><ellipse cx="1646.0" cy="1828.4" rx="14.8" ry="14.8" transform="rotate(23 1646.0 1828.4)"/><ellipse cx="1555.4" cy="1948.6" rx="13.5" ry="11.7" transform="rotate(68 1555.4 1948.6)"/><ellipse cx="1561.9" cy="1956.3" rx="8.2" ry="6.7" transform="rotate(43 1561.9 1956.3)"/><ellipse cx="1506.8" cy="1726.2" rx="12.8" ry="12.8" transform="rotate(122 1506.8 1726.2)"/></g></g>
<g fill="#3cd04e" filter="url(#gblur)"><ellipse cx="1591.0" cy="1860.2" rx="16" ry="8" transform="rotate(25 1591.0 1860.2)"/><path d="M1583.0,1854.2 L1575.0,1835.2 L1581.0,1837.2 L1589.0,1852.2Z"/><ellipse cx="1706.0" cy="1852.2" rx="8" ry="17" transform="rotate(15 1706.0 1852.2)"/><path d="M1703.0,1836.2 C1716.0,1824.2 1723.0,1814.2 1726.0,1794.2" fill="none" stroke-width="3.5" stroke="#2fa03c"/><path d="M1726.0,1794.2 C1731.0,1769.2 1736.0,1759.2 1746.0,1744.2 C1761.0,1724.2 1773.0,1704.2 1791.0,1686.2" fill="none" stroke-width="1.5" stroke="#2a8a36"/></g>
</svg>
<svg x="868.3" y="1985.8" width="316.0" height="315.6" viewBox="868.3 1985.8 316.0 315.6" overflow="hidden">
<rect x="868.3" y="1985.8" width="316.0" height="315.6" fill="#020206"/>
<g filter="url(#nucf)"><g fill="url(#ngD)"><ellipse cx="1113.9" cy="2191.6" rx="18.2" ry="9.0" transform="rotate(74 1113.9 2191.6)"/><ellipse cx="878.9" cy="2124.6" rx="16.0" ry="13.9" transform="rotate(81 878.9 2124.6)"/><ellipse cx="880.9" cy="2136.4" rx="12.0" ry="9.9" transform="rotate(103 880.9 2136.4)"/><ellipse cx="1033.9" cy="2265.9" rx="13.3" ry="10.1" transform="rotate(59 1033.9 2265.9)"/><ellipse cx="1033.7" cy="2227.4" rx="17.3" ry="13.2" transform="rotate(80 1033.7 2227.4)"/><ellipse cx="1043.0" cy="2236.5" rx="13.1" ry="10.7" transform="rotate(103 1043.0 2236.5)"/><ellipse cx="1116.2" cy="1990.6" rx="11.3" ry="11.3" transform="rotate(47 1116.2 1990.6)"/><ellipse cx="1124.3" cy="1993.1" rx="8.1" ry="6.7" transform="rotate(64 1124.3 1993.1)"/><ellipse cx="926.0" cy="2303.9" rx="13.4" ry="13.4" transform="rotate(55 926.0 2303.9)"/><ellipse cx="933.5" cy="2310.7" rx="10.6" ry="8.6" transform="rotate(71 933.5 2310.7)"/><ellipse cx="1184.0" cy="2232.8" rx="16.9" ry="12.8" transform="rotate(110 1184.0 2232.8)"/><ellipse cx="1050.5" cy="2093.7" rx="14.3" ry="12.4" transform="rotate(28 1050.5 2093.7)"/><ellipse cx="897.2" cy="2043.5" rx="17.4" ry="8.6" transform="rotate(58 897.2 2043.5)"/><ellipse cx="989.8" cy="2302.6" rx="14.6" ry="14.6" transform="rotate(19 989.8 2302.6)"/><ellipse cx="999.6" cy="2307.5" rx="11.7" ry="9.5" transform="rotate(32 999.6 2307.5)"/><ellipse cx="1189.2" cy="2193.7" rx="20.8" ry="10.3" transform="rotate(160 1189.2 2193.7)"/><ellipse cx="904.7" cy="1995.9" rx="19.3" ry="9.5" transform="rotate(3 904.7 1995.9)"/><ellipse cx="1108.4" cy="2022.9" rx="21.6" ry="8.2" transform="rotate(90 1108.4 2022.9)"/><ellipse cx="1118.6" cy="2035.5" rx="7.7" ry="6.3" transform="rotate(99 1118.6 2035.5)"/><ellipse cx="1179.0" cy="2142.4" rx="18.2" ry="9.0" transform="rotate(1 1179.0 2142.4)"/><ellipse cx="1179.6" cy="2286.0" rx="12.4" ry="12.4" transform="rotate(46 1179.6 2286.0)"/><ellipse cx="938.1" cy="2198.7" rx="13.2" ry="13.2" transform="rotate(85 938.1 2198.7)"/><ellipse cx="939.4" cy="2208.5" rx="11.6" ry="9.5" transform="rotate(60 939.4 2208.5)"/><ellipse cx="1181.2" cy="1997.7" rx="21.3" ry="10.5" transform="rotate(56 1181.2 1997.7)"/><ellipse cx="1073.4" cy="2275.5" rx="15.8" ry="13.7" transform="rotate(71 1073.4 2275.5)"/><ellipse cx="1080.9" cy="2284.7" rx="9.9" ry="8.1" transform="rotate(74 1080.9 2284.7)"/><ellipse cx="1104.3" cy="2164.0" rx="12.9" ry="12.9" transform="rotate(89 1104.3 2164.0)"/><ellipse cx="1098.5" cy="2171.8" rx="10.8" ry="8.8" transform="rotate(77 1098.5 2171.8)"/><ellipse cx="1151.6" cy="2245.3" rx="14.9" ry="11.3" transform="rotate(66 1151.6 2245.3)"/><ellipse cx="1149.0" cy="2256.1" rx="10.7" ry="8.8" transform="rotate(48 1149.0 2256.1)"/><ellipse cx="1017.5" cy="2091.1" rx="13.3" ry="13.3" transform="rotate(43 1017.5 2091.1)"/><ellipse cx="1019.7" cy="2100.8" rx="11.3" ry="9.2" transform="rotate(51 1019.7 2100.8)"/><ellipse cx="924.6" cy="2043.5" rx="17.6" ry="13.4" transform="rotate(35 924.6 2043.5)"/><ellipse cx="937.8" cy="2043.3" rx="11.0" ry="9.0" transform="rotate(58 937.8 2043.3)"/><ellipse cx="972.3" cy="2024.1" rx="26.2" ry="10.0" transform="rotate(168 972.3 2024.1)"/><ellipse cx="867.4" cy="2077.6" rx="12.3" ry="12.3" transform="rotate(138 867.4 2077.6)"/><ellipse cx="988.6" cy="2196.3" rx="14.8" ry="14.8" transform="rotate(81 988.6 2196.3)"/><ellipse cx="948.0" cy="2119.2" rx="21.6" ry="8.2" transform="rotate(31 948.0 2119.2)"/><ellipse cx="1080.7" cy="2114.6" rx="19.3" ry="9.5" transform="rotate(127 1080.7 2114.6)"/><ellipse cx="955.1" cy="2259.8" rx="23.0" ry="11.4" transform="rotate(113 955.1 2259.8)"/><ellipse cx="955.3" cy="2277.0" rx="9.6" ry="7.8" transform="rotate(103 955.3 2277.0)"/><ellipse cx="931.9" cy="1999.1" rx="14.5" ry="14.5" transform="rotate(121 931.9 1999.1)"/><ellipse cx="930.6" cy="2009.9" rx="12.1" ry="9.9" transform="rotate(101 930.6 2009.9)"/><ellipse cx="986.8" cy="2121.4" rx="17.8" ry="11.3" transform="rotate(174 986.8 2121.4)"/><ellipse cx="933.9" cy="2243.1" rx="27.3" ry="10.4" transform="rotate(127 933.9 2243.1)"/><ellipse cx="942.6" cy="2171.6" rx="10.5" ry="10.5" transform="rotate(87 942.6 2171.6)"/><ellipse cx="877.5" cy="2227.7" rx="13.3" ry="11.5" transform="rotate(57 877.5 2227.7)"/><ellipse cx="885.4" cy="2233.8" rx="8.0" ry="6.6" transform="rotate(49 885.4 2233.8)"/><ellipse cx="1159.6" cy="2216.4" rx="14.4" ry="11.0" transform="rotate(11 1159.6 2216.4)"/><ellipse cx="926.5" cy="2091.5" rx="19.4" ry="9.6" transform="rotate(28 926.5 2091.5)"/><ellipse cx="1027.8" cy="1982.6" rx="15.0" ry="15.0" transform="rotate(26 1027.8 1982.6)"/><ellipse cx="1138.6" cy="2159.6" rx="14.8" ry="12.9" transform="rotate(111 1138.6 2159.6)"/><ellipse cx="1138.4" cy="2124.6" rx="20.2" ry="12.9" transform="rotate(173 1138.4 2124.6)"/><ellipse cx="1018.5" cy="2029.1" rx="18.0" ry="13.7" transform="rotate(43 1018.5 2029.1)"/><ellipse cx="904.3" cy="2269.9" rx="26.6" ry="10.2" transform="rotate(137 904.3 2269.9)"/><ellipse cx="1146.5" cy="1986.2" rx="20.7" ry="10.2" transform="rotate(14 1146.5 1986.2)"/><ellipse cx="1095.3" cy="2074.6" rx="15.4" ry="9.8" transform="rotate(76 1095.3 2074.6)"/><ellipse cx="1092.1" cy="2085.8" rx="8.5" ry="7.0" transform="rotate(47 1092.1 2085.8)"/><ellipse cx="1057.5" cy="1979.7" rx="14.0" ry="14.0" transform="rotate(60 1057.5 1979.7)"/><ellipse cx="1058.7" cy="1990.1" rx="11.7" ry="9.6" transform="rotate(45 1058.7 1990.1)"/><ellipse cx="1056.5" cy="2307.8" rx="13.8" ry="13.8" transform="rotate(28 1056.5 2307.8)"/><ellipse cx="1044.3" cy="2045.8" rx="20.1" ry="12.8" transform="rotate(64 1044.3 2045.8)"/><ellipse cx="1086.7" cy="2246.0" rx="16.9" ry="10.8" transform="rotate(168 1086.7 2246.0)"/><ellipse cx="1084.8" cy="1987.5" rx="12.3" ry="12.3" transform="rotate(110 1084.8 1987.5)"/><ellipse cx="1084.3" cy="1996.7" rx="10.1" ry="8.3" transform="rotate(105 1084.3 1996.7)"/><ellipse cx="1041.8" cy="2148.2" rx="11.0" ry="11.0" transform="rotate(9 1041.8 2148.2)"/><ellipse cx="998.6" cy="1983.1" rx="18.1" ry="9.0" transform="rotate(125 998.6 1983.1)"/><ellipse cx="1114.0" cy="2112.1" rx="13.0" ry="13.0" transform="rotate(30 1114.0 2112.1)"/><ellipse cx="1058.0" cy="2213.2" rx="23.6" ry="9.0" transform="rotate(103 1058.0 2213.2)"/><ellipse cx="1055.8" cy="2230.8" rx="9.5" ry="7.8" transform="rotate(121 1055.8 2230.8)"/><ellipse cx="1125.3" cy="2063.3" rx="15.6" ry="11.8" transform="rotate(85 1125.3 2063.3)"/><ellipse cx="989.3" cy="2077.0" rx="19.7" ry="9.7" transform="rotate(167 989.3 2077.0)"/><ellipse cx="1039.5" cy="2182.9" rx="13.0" ry="13.0" transform="rotate(78 1039.5 2182.9)"/><ellipse cx="894.0" cy="2299.0" rx="28.2" ry="10.8" transform="rotate(75 894.0 2299.0)"/><ellipse cx="967.7" cy="2052.8" rx="11.7" ry="11.7" transform="rotate(109 967.7 2052.8)"/><ellipse cx="1174.7" cy="2098.4" rx="26.6" ry="10.2" transform="rotate(139 1174.7 2098.4)"/><ellipse cx="1162.5" cy="2114.2" rx="12.6" ry="10.3" transform="rotate(129 1162.5 2114.2)"/><ellipse cx="1125.7" cy="2276.0" rx="16.5" ry="10.5" transform="rotate(9 1125.7 2276.0)"/><ellipse cx="1137.6" cy="2279.4" rx="10.0" ry="8.2" transform="rotate(-5 1137.6 2279.4)"/><ellipse cx="960.3" cy="2305.7" rx="22.3" ry="11.0" transform="rotate(85 960.3 2305.7)"/><ellipse cx="870.7" cy="2003.4" rx="17.9" ry="11.4" transform="rotate(121 870.7 2003.4)"/><ellipse cx="1124.7" cy="2216.4" rx="14.5" ry="14.5" transform="rotate(50 1124.7 2216.4)"/><ellipse cx="986.6" cy="2235.4" rx="11.0" ry="11.0" transform="rotate(42 986.6 2235.4)"/><ellipse cx="993.6" cy="2239.6" rx="9.0" ry="7.3" transform="rotate(18 993.6 2239.6)"/><ellipse cx="985.3" cy="2153.4" rx="15.4" ry="13.4" transform="rotate(87 985.3 2153.4)"/><ellipse cx="986.0" cy="2164.9" rx="10.6" ry="8.7" transform="rotate(58 986.0 2164.9)"/><ellipse cx="1144.8" cy="2085.9" rx="15.2" ry="13.1" transform="rotate(32 1144.8 2085.9)"/><ellipse cx="1151.0" cy="2095.5" rx="12.1" ry="9.9" transform="rotate(41 1151.0 2095.5)"/><ellipse cx="1137.4" cy="2308.4" rx="28.1" ry="10.7" transform="rotate(115 1137.4 2308.4)"/><ellipse cx="1068.8" cy="2162.6" rx="11.5" ry="11.5" transform="rotate(25 1068.8 2162.6)"/><ellipse cx="1079.5" cy="2190.4" rx="18.5" ry="11.8" transform="rotate(36 1079.5 2190.4)"/><ellipse cx="1083.6" cy="2203.7" rx="10.7" ry="8.7" transform="rotate(20 1083.6 2203.7)"/><ellipse cx="904.8" cy="2185.1" rx="14.4" ry="11.0" transform="rotate(4 904.8 2185.1)"/><ellipse cx="978.7" cy="2274.8" rx="13.8" ry="13.8" transform="rotate(133 978.7 2274.8)"/><ellipse cx="902.6" cy="2140.9" rx="15.1" ry="13.1" transform="rotate(96 902.6 2140.9)"/><ellipse cx="905.1" cy="2151.9" rx="9.3" ry="7.6" transform="rotate(124 905.1 2151.9)"/><ellipse cx="1095.2" cy="2309.0" rx="12.7" ry="12.7" transform="rotate(34 1095.2 2309.0)"/><ellipse cx="972.5" cy="1992.9" rx="16.2" ry="14.1" transform="rotate(52 972.5 1992.9)"/><ellipse cx="866.3" cy="2186.8" rx="13.8" ry="12.0" transform="rotate(111 866.3 2186.8)"/><ellipse cx="857.6" cy="2192.5" rx="10.6" ry="8.6" transform="rotate(105 857.6 2192.5)"/><ellipse cx="1140.7" cy="2037.6" rx="17.2" ry="11.0" transform="rotate(63 1140.7 2037.6)"/><ellipse cx="1148.5" cy="2047.9" rx="10.3" ry="8.4" transform="rotate(44 1148.5 2047.9)"/><ellipse cx="903.2" cy="2218.2" rx="11.2" ry="11.2" transform="rotate(1 903.2 2218.2)"/><ellipse cx="1073.8" cy="2012.6" rx="14.4" ry="14.4" transform="rotate(11 1073.8 2012.6)"/><ellipse cx="1189.5" cy="2055.3" rx="10.6" ry="10.6" transform="rotate(152 1189.5 2055.3)"/><ellipse cx="1155.8" cy="2181.3" rx="13.4" ry="13.4" transform="rotate(102 1155.8 2181.3)"/><ellipse cx="1056.4" cy="2242.8" rx="16.4" ry="14.2" transform="rotate(8 1056.4 2242.8)"/><ellipse cx="861.0" cy="2265.7" rx="13.7" ry="10.4" transform="rotate(42 861.0 2265.7)"/><ellipse cx="964.6" cy="2097.6" rx="14.0" ry="10.6" transform="rotate(115 964.6 2097.6)"/><ellipse cx="1073.8" cy="2052.7" rx="14.4" ry="12.5" transform="rotate(54 1073.8 2052.7)"/><ellipse cx="866.5" cy="2297.8" rx="14.8" ry="12.8" transform="rotate(64 866.5 2297.8)"/><ellipse cx="860.7" cy="2145.8" rx="21.6" ry="10.7" transform="rotate(15 860.7 2145.8)"/><ellipse cx="1097.7" cy="2216.2" rx="22.3" ry="8.5" transform="rotate(168 1097.7 2216.2)"/><ellipse cx="1081.1" cy="2213.6" rx="8.5" ry="7.0" transform="rotate(138 1081.1 2213.6)"/><ellipse cx="868.5" cy="2049.5" rx="14.0" ry="14.0" transform="rotate(26 868.5 2049.5)"/><ellipse cx="875.2" cy="2057.7" rx="10.7" ry="8.7" transform="rotate(34 875.2 2057.7)"/><ellipse cx="1166.4" cy="2027.4" rx="13.1" ry="13.1" transform="rotate(100 1166.4 2027.4)"/><ellipse cx="1122.7" cy="2247.4" rx="14.0" ry="14.0" transform="rotate(76 1122.7 2247.4)"/><ellipse cx="1124.3" cy="2257.8" rx="11.7" ry="9.6" transform="rotate(93 1124.3 2257.8)"/><ellipse cx="1010.3" cy="2137.4" rx="17.3" ry="8.6" transform="rotate(127 1010.3 2137.4)"/><ellipse cx="894.6" cy="2076.5" rx="18.3" ry="9.1" transform="rotate(129 894.6 2076.5)"/><ellipse cx="1157.1" cy="2059.4" rx="17.6" ry="8.7" transform="rotate(179 1157.1 2059.4)"/><ellipse cx="1015.6" cy="2294.9" rx="18.3" ry="11.7" transform="rotate(170 1015.6 2294.9)"/></g></g>
</svg>
<svg x="1190.3" y="1985.8" width="316.0" height="315.6" viewBox="1190.3 1985.8 316.0 315.6" overflow="hidden">
<rect x="1190.3" y="1985.8" width="316.0" height="315.6" fill="#10290f"/>
<rect x="1190.3" y="1985.8" width="316.0" height="315.6" fill="#fff" filter="url(#gbg)"/>
<g fill="#3a9a40" opacity="0.6"><rect x="1219.7" y="2250.0" width="1.3" height="1.3"/><rect x="1379.2" y="2053.3" width="1.3" height="1.3"/><rect x="1435.3" y="2172.7" width="1.3" height="1.3"/><rect x="1450.5" y="2178.0" width="1.3" height="1.3"/><rect x="1417.7" y="2229.1" width="1.3" height="1.3"/><rect x="1299.0" y="2016.8" width="1.3" height="1.3"/><rect x="1472.3" y="2023.5" width="1.3" height="1.3"/><rect x="1365.6" y="2296.7" width="1.3" height="1.3"/><rect x="1301.0" y="2068.5" width="1.3" height="1.3"/><rect x="1311.0" y="2050.0" width="1.3" height="1.3"/><rect x="1426.0" y="2080.0" width="1.3" height="1.3"/><rect x="1214.2" y="2172.9" width="1.3" height="1.3"/><rect x="1272.4" y="2042.8" width="1.3" height="1.3"/><rect x="1196.6" y="2249.0" width="1.3" height="1.3"/><rect x="1309.5" y="2174.3" width="1.3" height="1.3"/><rect x="1341.8" y="2258.5" width="1.3" height="1.3"/><rect x="1212.4" y="2185.0" width="1.3" height="1.3"/><rect x="1451.0" y="2075.0" width="1.3" height="1.3"/><rect x="1327.0" y="2092.0" width="1.3" height="1.3"/><rect x="1292.7" y="2282.3" width="1.3" height="1.3"/><rect x="1262.9" y="2217.4" width="1.3" height="1.3"/><rect x="1205.1" y="2231.1" width="1.3" height="1.3"/><rect x="1216.5" y="2233.6" width="1.3" height="1.3"/><rect x="1211.9" y="2054.1" width="1.3" height="1.3"/><rect x="1273.9" y="2074.8" width="1.3" height="1.3"/><rect x="1434.5" y="2144.5" width="1.3" height="1.3"/><rect x="1205.6" y="2043.9" width="1.3" height="1.3"/><rect x="1322.4" y="2208.9" width="1.3" height="1.3"/><rect x="1391.8" y="2136.9" width="1.3" height="1.3"/><rect x="1444.1" y="2282.6" width="1.3" height="1.3"/><rect x="1488.5" y="2296.7" width="1.3" height="1.3"/><rect x="1479.0" y="2295.1" width="1.3" height="1.3"/><rect x="1415.5" y="2203.2" width="1.3" height="1.3"/><rect x="1373.9" y="2109.1" width="1.3" height="1.3"/><rect x="1453.3" y="2106.2" width="1.3" height="1.3"/><rect x="1474.8" y="2124.8" width="1.3" height="1.3"/><rect x="1198.2" y="2251.8" width="1.3" height="1.3"/><rect x="1343.0" y="1988.2" width="1.3" height="1.3"/><rect x="1447.3" y="2235.1" width="1.3" height="1.3"/><rect x="1465.6" y="2131.9" width="1.3" height="1.3"/><rect x="1243.8" y="2054.7" width="1.3" height="1.3"/><rect x="1359.5" y="2196.8" width="1.3" height="1.3"/><rect x="1365.7" y="2062.0" width="1.3" height="1.3"/><rect x="1237.6" y="2291.1" width="1.3" height="1.3"/><rect x="1503.6" y="2280.7" width="1.3" height="1.3"/><rect x="1354.0" y="2011.2" width="1.3" height="1.3"/><rect x="1260.4" y="2159.6" width="1.3" height="1.3"/><rect x="1463.9" y="2204.3" width="1.3" height="1.3"/><rect x="1225.2" y="2273.1" width="1.3" height="1.3"/><rect x="1392.2" y="2121.2" width="1.3" height="1.3"/><rect x="1432.3" y="2114.8" width="1.3" height="1.3"/><rect x="1360.2" y="1994.8" width="1.3" height="1.3"/><rect x="1215.1" y="2277.5" width="1.3" height="1.3"/><rect x="1323.4" y="2234.1" width="1.3" height="1.3"/><rect x="1307.5" y="2109.5" width="1.3" height="1.3"/><rect x="1226.1" y="2266.9" width="1.3" height="1.3"/><rect x="1270.3" y="2226.3" width="1.3" height="1.3"/><rect x="1247.0" y="2081.7" width="1.3" height="1.3"/><rect x="1219.0" y="2204.3" width="1.3" height="1.3"/><rect x="1478.6" y="2182.8" width="1.3" height="1.3"/><rect x="1393.0" y="2064.5" width="1.3" height="1.3"/><rect x="1489.4" y="2022.2" width="1.3" height="1.3"/><rect x="1269.7" y="2163.8" width="1.3" height="1.3"/><rect x="1391.6" y="2076.6" width="1.3" height="1.3"/><rect x="1376.3" y="2022.8" width="1.3" height="1.3"/><rect x="1206.6" y="2119.8" width="1.3" height="1.3"/><rect x="1371.9" y="2262.8" width="1.3" height="1.3"/><rect x="1337.5" y="2279.3" width="1.3" height="1.3"/><rect x="1431.3" y="2290.5" width="1.3" height="1.3"/><rect x="1413.2" y="2118.9" width="1.3" height="1.3"/><rect x="1390.5" y="2202.4" width="1.3" height="1.3"/><rect x="1271.2" y="2040.8" width="1.3" height="1.3"/><rect x="1292.6" y="2156.1" width="1.3" height="1.3"/><rect x="1207.1" y="2098.5" width="1.3" height="1.3"/><rect x="1236.6" y="2279.2" width="1.3" height="1.3"/><rect x="1332.8" y="2164.5" width="1.3" height="1.3"/><rect x="1234.9" y="2127.8" width="1.3" height="1.3"/><rect x="1492.5" y="2247.6" width="1.3" height="1.3"/><rect x="1476.7" y="2037.8" width="1.3" height="1.3"/><rect x="1460.5" y="2239.8" width="1.3" height="1.3"/><rect x="1309.9" y="2094.5" width="1.3" height="1.3"/><rect x="1476.6" y="2080.9" width="1.3" height="1.3"/><rect x="1274.1" y="2187.9" width="1.3" height="1.3"/><rect x="1349.1" y="2123.3" width="1.3" height="1.3"/><rect x="1324.0" y="2210.1" width="1.3" height="1.3"/><rect x="1417.4" y="2127.2" width="1.3" height="1.3"/><rect x="1485.4" y="2070.9" width="1.3" height="1.3"/><rect x="1278.6" y="2108.2" width="1.3" height="1.3"/><rect x="1192.0" y="2144.7" width="1.3" height="1.3"/><rect x="1340.6" y="2070.3" width="1.3" height="1.3"/><rect x="1332.4" y="2136.0" width="1.3" height="1.3"/><rect x="1372.9" y="2157.1" width="1.3" height="1.3"/><rect x="1298.3" y="2101.0" width="1.3" height="1.3"/><rect x="1462.4" y="2008.2" width="1.3" height="1.3"/><rect x="1470.3" y="2028.9" width="1.3" height="1.3"/><rect x="1245.0" y="2122.3" width="1.3" height="1.3"/><rect x="1500.6" y="2056.0" width="1.3" height="1.3"/><rect x="1207.2" y="2224.2" width="1.3" height="1.3"/><rect x="1350.6" y="2028.2" width="1.3" height="1.3"/><rect x="1469.8" y="2169.5" width="1.3" height="1.3"/><rect x="1403.0" y="2021.8" width="1.3" height="1.3"/><rect x="1383.1" y="2001.2" width="1.3" height="1.3"/><rect x="1271.5" y="2164.9" width="1.3" height="1.3"/><rect x="1502.0" y="2278.1" width="1.3" height="1.3"/><rect x="1251.7" y="2270.4" width="1.3" height="1.3"/><rect x="1472.1" y="2016.9" width="1.3" height="1.3"/><rect x="1208.8" y="2050.6" width="1.3" height="1.3"/><rect x="1503.6" y="2067.4" width="1.3" height="1.3"/><rect x="1360.1" y="2193.7" width="1.3" height="1.3"/><rect x="1322.5" y="2092.5" width="1.3" height="1.3"/><rect x="1368.0" y="2238.7" width="1.3" height="1.3"/><rect x="1260.1" y="1997.7" width="1.3" height="1.3"/><rect x="1332.1" y="2285.2" width="1.3" height="1.3"/><rect x="1459.0" y="2010.4" width="1.3" height="1.3"/><rect x="1419.0" y="2269.9" width="1.3" height="1.3"/><rect x="1451.7" y="1995.8" width="1.3" height="1.3"/><rect x="1195.3" y="2128.7" width="1.3" height="1.3"/><rect x="1487.8" y="2270.7" width="1.3" height="1.3"/><rect x="1284.9" y="2284.0" width="1.3" height="1.3"/><rect x="1444.7" y="2118.0" width="1.3" height="1.3"/></g>
<g fill="#3cd04e" filter="url(#gblur)"><ellipse cx="1358.3" cy="2103.8" rx="9" ry="12" transform="rotate(10 1358.3 2103.8)"/><ellipse cx="1386.3" cy="2075.8" rx="5" ry="9" transform="rotate(45 1386.3 2075.8)" opacity="0.7"/><path d="M1366.3,2093.8 L1382.3,2077.8 M1390.3,2071.8 C1400.3,2061.8 1410.3,2055.8 1422.3,2051.8" fill="none" stroke-width="1.5" stroke="#2a8a36"/></g>
</svg>
<svg x="1511.0" y="1985.8" width="316.0" height="315.6" viewBox="1511.0 1985.8 316.0 315.6" overflow="hidden">
<rect x="1511.0" y="1985.8" width="316.0" height="315.6" fill="#10290f"/>
<rect x="1511.0" y="1985.8" width="316.0" height="315.6" fill="#fff" filter="url(#gbg)"/>
<g fill="#3a9a40" opacity="0.5"><rect x="1540.4" y="2250.0" width="1.3" height="1.3"/><rect x="1699.9" y="2053.3" width="1.3" height="1.3"/><rect x="1756.0" y="2172.7" width="1.3" height="1.3"/><rect x="1771.2" y="2178.0" width="1.3" height="1.3"/><rect x="1738.4" y="2229.1" width="1.3" height="1.3"/><rect x="1619.7" y="2016.8" width="1.3" height="1.3"/><rect x="1793.0" y="2023.5" width="1.3" height="1.3"/><rect x="1686.3" y="2296.7" width="1.3" height="1.3"/><rect x="1621.7" y="2068.5" width="1.3" height="1.3"/><rect x="1631.7" y="2050.0" width="1.3" height="1.3"/><rect x="1746.7" y="2080.0" width="1.3" height="1.3"/><rect x="1534.9" y="2172.9" width="1.3" height="1.3"/><rect x="1593.1" y="2042.8" width="1.3" height="1.3"/><rect x="1517.3" y="2249.0" width="1.3" height="1.3"/><rect x="1630.2" y="2174.3" width="1.3" height="1.3"/><rect x="1662.5" y="2258.5" width="1.3" height="1.3"/><rect x="1533.1" y="2185.0" width="1.3" height="1.3"/><rect x="1771.7" y="2075.0" width="1.3" height="1.3"/><rect x="1647.7" y="2092.0" width="1.3" height="1.3"/><rect x="1613.4" y="2282.3" width="1.3" height="1.3"/><rect x="1583.6" y="2217.4" width="1.3" height="1.3"/><rect x="1525.8" y="2231.1" width="1.3" height="1.3"/><rect x="1537.2" y="2233.6" width="1.3" height="1.3"/><rect x="1532.6" y="2054.1" width="1.3" height="1.3"/><rect x="1594.6" y="2074.8" width="1.3" height="1.3"/><rect x="1755.2" y="2144.5" width="1.3" height="1.3"/><rect x="1526.3" y="2043.9" width="1.3" height="1.3"/><rect x="1643.1" y="2208.9" width="1.3" height="1.3"/><rect x="1712.5" y="2136.9" width="1.3" height="1.3"/><rect x="1764.8" y="2282.6" width="1.3" height="1.3"/><rect x="1809.2" y="2296.7" width="1.3" height="1.3"/><rect x="1799.7" y="2295.1" width="1.3" height="1.3"/><rect x="1736.2" y="2203.2" width="1.3" height="1.3"/><rect x="1694.6" y="2109.1" width="1.3" height="1.3"/><rect x="1774.0" y="2106.2" width="1.3" height="1.3"/><rect x="1795.5" y="2124.8" width="1.3" height="1.3"/><rect x="1518.9" y="2251.8" width="1.3" height="1.3"/><rect x="1663.7" y="1988.2" width="1.3" height="1.3"/><rect x="1768.0" y="2235.1" width="1.3" height="1.3"/><rect x="1786.3" y="2131.9" width="1.3" height="1.3"/><rect x="1564.5" y="2054.7" width="1.3" height="1.3"/><rect x="1680.2" y="2196.8" width="1.3" height="1.3"/><rect x="1686.4" y="2062.0" width="1.3" height="1.3"/><rect x="1558.3" y="2291.1" width="1.3" height="1.3"/><rect x="1824.3" y="2280.7" width="1.3" height="1.3"/><rect x="1674.7" y="2011.2" width="1.3" height="1.3"/><rect x="1581.1" y="2159.6" width="1.3" height="1.3"/><rect x="1784.6" y="2204.3" width="1.3" height="1.3"/><rect x="1545.9" y="2273.1" width="1.3" height="1.3"/><rect x="1712.9" y="2121.2" width="1.3" height="1.3"/><rect x="1753.0" y="2114.8" width="1.3" height="1.3"/><rect x="1680.9" y="1994.8" width="1.3" height="1.3"/><rect x="1535.8" y="2277.5" width="1.3" height="1.3"/><rect x="1644.1" y="2234.1" width="1.3" height="1.3"/><rect x="1628.2" y="2109.5" width="1.3" height="1.3"/><rect x="1546.8" y="2266.9" width="1.3" height="1.3"/><rect x="1591.0" y="2226.3" width="1.3" height="1.3"/><rect x="1567.7" y="2081.7" width="1.3" height="1.3"/><rect x="1539.7" y="2204.3" width="1.3" height="1.3"/><rect x="1799.3" y="2182.8" width="1.3" height="1.3"/><rect x="1713.7" y="2064.5" width="1.3" height="1.3"/><rect x="1810.1" y="2022.2" width="1.3" height="1.3"/><rect x="1590.4" y="2163.8" width="1.3" height="1.3"/><rect x="1712.3" y="2076.6" width="1.3" height="1.3"/><rect x="1697.0" y="2022.8" width="1.3" height="1.3"/><rect x="1527.3" y="2119.8" width="1.3" height="1.3"/><rect x="1692.6" y="2262.8" width="1.3" height="1.3"/><rect x="1658.2" y="2279.3" width="1.3" height="1.3"/><rect x="1752.0" y="2290.5" width="1.3" height="1.3"/><rect x="1733.9" y="2118.9" width="1.3" height="1.3"/><rect x="1711.2" y="2202.4" width="1.3" height="1.3"/><rect x="1591.9" y="2040.8" width="1.3" height="1.3"/><rect x="1613.3" y="2156.1" width="1.3" height="1.3"/><rect x="1527.8" y="2098.5" width="1.3" height="1.3"/><rect x="1557.3" y="2279.2" width="1.3" height="1.3"/><rect x="1653.5" y="2164.5" width="1.3" height="1.3"/><rect x="1555.6" y="2127.8" width="1.3" height="1.3"/><rect x="1813.2" y="2247.6" width="1.3" height="1.3"/><rect x="1797.4" y="2037.8" width="1.3" height="1.3"/><rect x="1781.2" y="2239.8" width="1.3" height="1.3"/></g>
<g filter="url(#nucf)"><g fill="url(#ngM)"><ellipse cx="1756.6" cy="2191.6" rx="18.2" ry="9.0" transform="rotate(74 1756.6 2191.6)"/><ellipse cx="1521.6" cy="2124.6" rx="16.0" ry="13.9" transform="rotate(81 1521.6 2124.6)"/><ellipse cx="1523.6" cy="2136.4" rx="12.0" ry="9.9" transform="rotate(103 1523.6 2136.4)"/><ellipse cx="1676.6" cy="2265.9" rx="13.3" ry="10.1" transform="rotate(59 1676.6 2265.9)"/><ellipse cx="1676.4" cy="2227.4" rx="17.3" ry="13.2" transform="rotate(80 1676.4 2227.4)"/><ellipse cx="1685.7" cy="2236.5" rx="13.1" ry="10.7" transform="rotate(103 1685.7 2236.5)"/><ellipse cx="1758.9" cy="1990.6" rx="11.3" ry="11.3" transform="rotate(47 1758.9 1990.6)"/><ellipse cx="1767.0" cy="1993.1" rx="8.1" ry="6.7" transform="rotate(64 1767.0 1993.1)"/><ellipse cx="1568.7" cy="2303.9" rx="13.4" ry="13.4" transform="rotate(55 1568.7 2303.9)"/><ellipse cx="1576.2" cy="2310.7" rx="10.6" ry="8.6" transform="rotate(71 1576.2 2310.7)"/><ellipse cx="1826.7" cy="2232.8" rx="16.9" ry="12.8" transform="rotate(110 1826.7 2232.8)"/><ellipse cx="1693.2" cy="2093.7" rx="14.3" ry="12.4" transform="rotate(28 1693.2 2093.7)"/><ellipse cx="1539.9" cy="2043.5" rx="17.4" ry="8.6" transform="rotate(58 1539.9 2043.5)"/><ellipse cx="1632.5" cy="2302.6" rx="14.6" ry="14.6" transform="rotate(19 1632.5 2302.6)"/><ellipse cx="1642.3" cy="2307.5" rx="11.7" ry="9.5" transform="rotate(32 1642.3 2307.5)"/><ellipse cx="1831.9" cy="2193.7" rx="20.8" ry="10.3" transform="rotate(160 1831.9 2193.7)"/><ellipse cx="1547.4" cy="1995.9" rx="19.3" ry="9.5" transform="rotate(3 1547.4 1995.9)"/><ellipse cx="1751.1" cy="2022.9" rx="21.6" ry="8.2" transform="rotate(90 1751.1 2022.9)"/><ellipse cx="1761.3" cy="2035.5" rx="7.7" ry="6.3" transform="rotate(99 1761.3 2035.5)"/><ellipse cx="1821.7" cy="2142.4" rx="18.2" ry="9.0" transform="rotate(1 1821.7 2142.4)"/><ellipse cx="1822.3" cy="2286.0" rx="12.4" ry="12.4" transform="rotate(46 1822.3 2286.0)"/><ellipse cx="1580.8" cy="2198.7" rx="13.2" ry="13.2" transform="rotate(85 1580.8 2198.7)"/><ellipse cx="1582.1" cy="2208.5" rx="11.6" ry="9.5" transform="rotate(60 1582.1 2208.5)"/><ellipse cx="1823.9" cy="1997.7" rx="21.3" ry="10.5" transform="rotate(56 1823.9 1997.7)"/><ellipse cx="1716.1" cy="2275.5" rx="15.8" ry="13.7" transform="rotate(71 1716.1 2275.5)"/><ellipse cx="1723.6" cy="2284.7" rx="9.9" ry="8.1" transform="rotate(74 1723.6 2284.7)"/><ellipse cx="1747.0" cy="2164.0" rx="12.9" ry="12.9" transform="rotate(89 1747.0 2164.0)"/><ellipse cx="1741.2" cy="2171.8" rx="10.8" ry="8.8" transform="rotate(77 1741.2 2171.8)"/><ellipse cx="1794.3" cy="2245.3" rx="14.9" ry="11.3" transform="rotate(66 1794.3 2245.3)"/><ellipse cx="1791.7" cy="2256.1" rx="10.7" ry="8.8" transform="rotate(48 1791.7 2256.1)"/><ellipse cx="1660.2" cy="2091.1" rx="13.3" ry="13.3" transform="rotate(43 1660.2 2091.1)"/><ellipse cx="1662.4" cy="2100.8" rx="11.3" ry="9.2" transform="rotate(51 1662.4 2100.8)"/><ellipse cx="1567.3" cy="2043.5" rx="17.6" ry="13.4" transform="rotate(35 1567.3 2043.5)"/><ellipse cx="1580.5" cy="2043.3" rx="11.0" ry="9.0" transform="rotate(58 1580.5 2043.3)"/><ellipse cx="1615.0" cy="2024.1" rx="26.2" ry="10.0" transform="rotate(168 1615.0 2024.1)"/><ellipse cx="1510.1" cy="2077.6" rx="12.3" ry="12.3" transform="rotate(138 1510.1 2077.6)"/><ellipse cx="1631.3" cy="2196.3" rx="14.8" ry="14.8" transform="rotate(81 1631.3 2196.3)"/><ellipse cx="1590.7" cy="2119.2" rx="21.6" ry="8.2" transform="rotate(31 1590.7 2119.2)"/><ellipse cx="1723.4" cy="2114.6" rx="19.3" ry="9.5" transform="rotate(127 1723.4 2114.6)"/><ellipse cx="1597.8" cy="2259.8" rx="23.0" ry="11.4" transform="rotate(113 1597.8 2259.8)"/><ellipse cx="1598.0" cy="2277.0" rx="9.6" ry="7.8" transform="rotate(103 1598.0 2277.0)"/><ellipse cx="1574.6" cy="1999.1" rx="14.5" ry="14.5" transform="rotate(121 1574.6 1999.1)"/><ellipse cx="1573.3" cy="2009.9" rx="12.1" ry="9.9" transform="rotate(101 1573.3 2009.9)"/><ellipse cx="1629.5" cy="2121.4" rx="17.8" ry="11.3" transform="rotate(174 1629.5 2121.4)"/><ellipse cx="1576.6" cy="2243.1" rx="27.3" ry="10.4" transform="rotate(127 1576.6 2243.1)"/><ellipse cx="1585.3" cy="2171.6" rx="10.5" ry="10.5" transform="rotate(87 1585.3 2171.6)"/><ellipse cx="1520.2" cy="2227.7" rx="13.3" ry="11.5" transform="rotate(57 1520.2 2227.7)"/><ellipse cx="1528.1" cy="2233.8" rx="8.0" ry="6.6" transform="rotate(49 1528.1 2233.8)"/><ellipse cx="1802.3" cy="2216.4" rx="14.4" ry="11.0" transform="rotate(11 1802.3 2216.4)"/><ellipse cx="1569.2" cy="2091.5" rx="19.4" ry="9.6" transform="rotate(28 1569.2 2091.5)"/><ellipse cx="1670.5" cy="1982.6" rx="15.0" ry="15.0" transform="rotate(26 1670.5 1982.6)"/><ellipse cx="1781.3" cy="2159.6" rx="14.8" ry="12.9" transform="rotate(111 1781.3 2159.6)"/><ellipse cx="1781.1" cy="2124.6" rx="20.2" ry="12.9" transform="rotate(173 1781.1 2124.6)"/><ellipse cx="1661.2" cy="2029.1" rx="18.0" ry="13.7" transform="rotate(43 1661.2 2029.1)"/><ellipse cx="1547.0" cy="2269.9" rx="26.6" ry="10.2" transform="rotate(137 1547.0 2269.9)"/><ellipse cx="1789.2" cy="1986.2" rx="20.7" ry="10.2" transform="rotate(14 1789.2 1986.2)"/><ellipse cx="1738.0" cy="2074.6" rx="15.4" ry="9.8" transform="rotate(76 1738.0 2074.6)"/><ellipse cx="1734.8" cy="2085.8" rx="8.5" ry="7.0" transform="rotate(47 1734.8 2085.8)"/><ellipse cx="1700.2" cy="1979.7" rx="14.0" ry="14.0" transform="rotate(60 1700.2 1979.7)"/><ellipse cx="1701.4" cy="1990.1" rx="11.7" ry="9.6" transform="rotate(45 1701.4 1990.1)"/><ellipse cx="1699.2" cy="2307.8" rx="13.8" ry="13.8" transform="rotate(28 1699.2 2307.8)"/><ellipse cx="1687.0" cy="2045.8" rx="20.1" ry="12.8" transform="rotate(64 1687.0 2045.8)"/><ellipse cx="1729.4" cy="2246.0" rx="16.9" ry="10.8" transform="rotate(168 1729.4 2246.0)"/><ellipse cx="1727.5" cy="1987.5" rx="12.3" ry="12.3" transform="rotate(110 1727.5 1987.5)"/><ellipse cx="1727.0" cy="1996.7" rx="10.1" ry="8.3" transform="rotate(105 1727.0 1996.7)"/><ellipse cx="1684.5" cy="2148.2" rx="11.0" ry="11.0" transform="rotate(9 1684.5 2148.2)"/><ellipse cx="1641.3" cy="1983.1" rx="18.1" ry="9.0" transform="rotate(125 1641.3 1983.1)"/><ellipse cx="1756.7" cy="2112.1" rx="13.0" ry="13.0" transform="rotate(30 1756.7 2112.1)"/><ellipse cx="1700.7" cy="2213.2" rx="23.6" ry="9.0" transform="rotate(103 1700.7 2213.2)"/><ellipse cx="1698.5" cy="2230.8" rx="9.5" ry="7.8" transform="rotate(121 1698.5 2230.8)"/><ellipse cx="1768.0" cy="2063.3" rx="15.6" ry="11.8" transform="rotate(85 1768.0 2063.3)"/><ellipse cx="1632.0" cy="2077.0" rx="19.7" ry="9.7" transform="rotate(167 1632.0 2077.0)"/><ellipse cx="1682.2" cy="2182.9" rx="13.0" ry="13.0" transform="rotate(78 1682.2 2182.9)"/><ellipse cx="1536.7" cy="2299.0" rx="28.2" ry="10.8" transform="rotate(75 1536.7 2299.0)"/><ellipse cx="1610.4" cy="2052.8" rx="11.7" ry="11.7" transform="rotate(109 1610.4 2052.8)"/><ellipse cx="1817.4" cy="2098.4" rx="26.6" ry="10.2" transform="rotate(139 1817.4 2098.4)"/><ellipse cx="1805.2" cy="2114.2" rx="12.6" ry="10.3" transform="rotate(129 1805.2 2114.2)"/><ellipse cx="1768.4" cy="2276.0" rx="16.5" ry="10.5" transform="rotate(9 1768.4 2276.0)"/><ellipse cx="1780.3" cy="2279.4" rx="10.0" ry="8.2" transform="rotate(-5 1780.3 2279.4)"/><ellipse cx="1603.0" cy="2305.7" rx="22.3" ry="11.0" transform="rotate(85 1603.0 2305.7)"/><ellipse cx="1513.4" cy="2003.4" rx="17.9" ry="11.4" transform="rotate(121 1513.4 2003.4)"/><ellipse cx="1767.4" cy="2216.4" rx="14.5" ry="14.5" transform="rotate(50 1767.4 2216.4)"/><ellipse cx="1629.3" cy="2235.4" rx="11.0" ry="11.0" transform="rotate(42 1629.3 2235.4)"/><ellipse cx="1636.3" cy="2239.6" rx="9.0" ry="7.3" transform="rotate(18 1636.3 2239.6)"/><ellipse cx="1628.0" cy="2153.4" rx="15.4" ry="13.4" transform="rotate(87 1628.0 2153.4)"/><ellipse cx="1628.7" cy="2164.9" rx="10.6" ry="8.7" transform="rotate(58 1628.7 2164.9)"/><ellipse cx="1787.5" cy="2085.9" rx="15.2" ry="13.1" transform="rotate(32 1787.5 2085.9)"/><ellipse cx="1793.7" cy="2095.5" rx="12.1" ry="9.9" transform="rotate(41 1793.7 2095.5)"/><ellipse cx="1780.1" cy="2308.4" rx="28.1" ry="10.7" transform="rotate(115 1780.1 2308.4)"/><ellipse cx="1711.5" cy="2162.6" rx="11.5" ry="11.5" transform="rotate(25 1711.5 2162.6)"/><ellipse cx="1722.2" cy="2190.4" rx="18.5" ry="11.8" transform="rotate(36 1722.2 2190.4)"/><ellipse cx="1726.3" cy="2203.7" rx="10.7" ry="8.7" transform="rotate(20 1726.3 2203.7)"/><ellipse cx="1547.5" cy="2185.1" rx="14.4" ry="11.0" transform="rotate(4 1547.5 2185.1)"/><ellipse cx="1621.4" cy="2274.8" rx="13.8" ry="13.8" transform="rotate(133 1621.4 2274.8)"/><ellipse cx="1545.3" cy="2140.9" rx="15.1" ry="13.1" transform="rotate(96 1545.3 2140.9)"/><ellipse cx="1547.8" cy="2151.9" rx="9.3" ry="7.6" transform="rotate(124 1547.8 2151.9)"/><ellipse cx="1737.9" cy="2309.0" rx="12.7" ry="12.7" transform="rotate(34 1737.9 2309.0)"/><ellipse cx="1615.2" cy="1992.9" rx="16.2" ry="14.1" transform="rotate(52 1615.2 1992.9)"/><ellipse cx="1509.0" cy="2186.8" rx="13.8" ry="12.0" transform="rotate(111 1509.0 2186.8)"/><ellipse cx="1500.3" cy="2192.5" rx="10.6" ry="8.6" transform="rotate(105 1500.3 2192.5)"/><ellipse cx="1783.4" cy="2037.6" rx="17.2" ry="11.0" transform="rotate(63 1783.4 2037.6)"/><ellipse cx="1791.2" cy="2047.9" rx="10.3" ry="8.4" transform="rotate(44 1791.2 2047.9)"/><ellipse cx="1545.9" cy="2218.2" rx="11.2" ry="11.2" transform="rotate(1 1545.9 2218.2)"/><ellipse cx="1716.5" cy="2012.6" rx="14.4" ry="14.4" transform="rotate(11 1716.5 2012.6)"/><ellipse cx="1832.2" cy="2055.3" rx="10.6" ry="10.6" transform="rotate(152 1832.2 2055.3)"/><ellipse cx="1798.5" cy="2181.3" rx="13.4" ry="13.4" transform="rotate(102 1798.5 2181.3)"/><ellipse cx="1699.1" cy="2242.8" rx="16.4" ry="14.2" transform="rotate(8 1699.1 2242.8)"/><ellipse cx="1503.7" cy="2265.7" rx="13.7" ry="10.4" transform="rotate(42 1503.7 2265.7)"/><ellipse cx="1607.3" cy="2097.6" rx="14.0" ry="10.6" transform="rotate(115 1607.3 2097.6)"/><ellipse cx="1716.5" cy="2052.7" rx="14.4" ry="12.5" transform="rotate(54 1716.5 2052.7)"/><ellipse cx="1509.2" cy="2297.8" rx="14.8" ry="12.8" transform="rotate(64 1509.2 2297.8)"/><ellipse cx="1503.4" cy="2145.8" rx="21.6" ry="10.7" transform="rotate(15 1503.4 2145.8)"/><ellipse cx="1740.4" cy="2216.2" rx="22.3" ry="8.5" transform="rotate(168 1740.4 2216.2)"/><ellipse cx="1723.8" cy="2213.6" rx="8.5" ry="7.0" transform="rotate(138 1723.8 2213.6)"/><ellipse cx="1511.2" cy="2049.5" rx="14.0" ry="14.0" transform="rotate(26 1511.2 2049.5)"/><ellipse cx="1517.9" cy="2057.7" rx="10.7" ry="8.7" transform="rotate(34 1517.9 2057.7)"/><ellipse cx="1809.1" cy="2027.4" rx="13.1" ry="13.1" transform="rotate(100 1809.1 2027.4)"/><ellipse cx="1765.4" cy="2247.4" rx="14.0" ry="14.0" transform="rotate(76 1765.4 2247.4)"/><ellipse cx="1767.0" cy="2257.8" rx="11.7" ry="9.6" transform="rotate(93 1767.0 2257.8)"/><ellipse cx="1653.0" cy="2137.4" rx="17.3" ry="8.6" transform="rotate(127 1653.0 2137.4)"/><ellipse cx="1537.3" cy="2076.5" rx="18.3" ry="9.1" transform="rotate(129 1537.3 2076.5)"/><ellipse cx="1799.8" cy="2059.4" rx="17.6" ry="8.7" transform="rotate(179 1799.8 2059.4)"/><ellipse cx="1658.3" cy="2294.9" rx="18.3" ry="11.7" transform="rotate(170 1658.3 2294.9)"/></g></g>
<g fill="#3cd04e" filter="url(#gblur)"><ellipse cx="1679.0" cy="2103.8" rx="9" ry="12" transform="rotate(10 1679.0 2103.8)"/><ellipse cx="1707.0" cy="2075.8" rx="5" ry="9" transform="rotate(45 1707.0 2075.8)" opacity="0.7"/><path d="M1687.0,2093.8 L1703.0,2077.8 M1711.0,2071.8 C1721.0,2061.8 1731.0,2055.8 1743.0,2051.8" fill="none" stroke-width="1.5" stroke="#2a8a36"/></g>
</svg>
<svg x="868.3" y="2309.0" width="316.0" height="315.6" viewBox="868.3 2309.0 316.0 315.6" overflow="hidden">
<rect x="868.3" y="2309.0" width="316.0" height="315.6" fill="#020206"/>
<g filter="url(#nucf)"><g fill="url(#ngD)"><ellipse cx="870.8" cy="2622.3" rx="20.2" ry="12.9" transform="rotate(35 870.8 2622.3)"/><ellipse cx="883.0" cy="2631.2" rx="11.5" ry="9.4" transform="rotate(30 883.0 2631.2)"/><ellipse cx="1122.5" cy="2575.5" rx="20.7" ry="10.2" transform="rotate(46 1122.5 2575.5)"/><ellipse cx="1127.3" cy="2590.2" rx="11.0" ry="9.0" transform="rotate(24 1127.3 2590.2)"/><ellipse cx="956.5" cy="2302.4" rx="19.8" ry="9.8" transform="rotate(112 956.5 2302.4)"/><ellipse cx="936.4" cy="2413.0" rx="25.0" ry="9.5" transform="rotate(28 936.4 2413.0)"/><ellipse cx="955.0" cy="2415.7" rx="11.3" ry="9.2" transform="rotate(30 955.0 2415.7)"/><ellipse cx="1165.9" cy="2475.3" rx="14.1" ry="14.1" transform="rotate(45 1165.9 2475.3)"/><ellipse cx="1151.6" cy="2552.0" rx="13.6" ry="13.6" transform="rotate(146 1151.6 2552.0)"/><ellipse cx="1101.7" cy="2324.9" rx="14.5" ry="14.5" transform="rotate(176 1101.7 2324.9)"/><ellipse cx="1090.8" cy="2324.9" rx="13.0" ry="10.7" transform="rotate(196 1090.8 2324.9)"/><ellipse cx="1190.3" cy="2602.0" rx="12.7" ry="12.7" transform="rotate(145 1190.3 2602.0)"/><ellipse cx="984.9" cy="2408.0" rx="14.7" ry="14.7" transform="rotate(104 984.9 2408.0)"/><ellipse cx="1068.1" cy="2534.9" rx="12.0" ry="12.0" transform="rotate(0 1068.1 2534.9)"/><ellipse cx="1076.8" cy="2536.9" rx="8.0" ry="6.5" transform="rotate(22 1076.8 2536.9)"/><ellipse cx="1069.5" cy="2386.7" rx="11.9" ry="10.3" transform="rotate(129 1069.5 2386.7)"/><ellipse cx="1062.4" cy="2391.9" rx="7.7" ry="6.3" transform="rotate(121 1062.4 2391.9)"/><ellipse cx="1024.6" cy="2466.9" rx="13.4" ry="13.4" transform="rotate(104 1024.6 2466.9)"/><ellipse cx="1023.4" cy="2476.9" rx="9.6" ry="7.9" transform="rotate(101 1023.4 2476.9)"/><ellipse cx="976.3" cy="2440.6" rx="20.3" ry="10.0" transform="rotate(61 976.3 2440.6)"/><ellipse cx="868.7" cy="2562.8" rx="12.4" ry="12.4" transform="rotate(158 868.7 2562.8)"/><ellipse cx="1027.7" cy="2353.9" rx="15.6" ry="11.9" transform="rotate(57 1027.7 2353.9)"/><ellipse cx="888.6" cy="2528.4" rx="26.7" ry="10.2" transform="rotate(28 888.6 2528.4)"/><ellipse cx="908.4" cy="2531.8" rx="10.6" ry="8.7" transform="rotate(55 908.4 2531.8)"/><ellipse cx="1090.7" cy="2613.9" rx="23.9" ry="9.1" transform="rotate(178 1090.7 2613.9)"/><ellipse cx="1072.8" cy="2612.3" rx="11.1" ry="9.1" transform="rotate(162 1072.8 2612.3)"/><ellipse cx="1189.4" cy="2395.4" rx="14.9" ry="12.9" transform="rotate(28 1189.4 2395.4)"/><ellipse cx="1165.7" cy="2309.7" rx="13.4" ry="13.4" transform="rotate(4 1165.7 2309.7)"/><ellipse cx="1077.3" cy="2500.3" rx="14.1" ry="14.1" transform="rotate(75 1077.3 2500.3)"/><ellipse cx="1159.9" cy="2585.8" rx="11.9" ry="11.9" transform="rotate(32 1159.9 2585.8)"/><ellipse cx="1017.5" cy="2517.2" rx="12.1" ry="12.1" transform="rotate(91 1017.5 2517.2)"/><ellipse cx="1000.9" cy="2585.1" rx="16.8" ry="12.8" transform="rotate(99 1000.9 2585.1)"/><ellipse cx="1006.7" cy="2596.3" rx="10.2" ry="8.3" transform="rotate(124 1006.7 2596.3)"/><ellipse cx="1044.8" cy="2482.8" rx="17.0" ry="12.9" transform="rotate(81 1044.8 2482.8)"/><ellipse cx="1050.2" cy="2494.4" rx="10.9" ry="8.9" transform="rotate(96 1050.2 2494.4)"/><ellipse cx="1088.8" cy="2562.2" rx="26.0" ry="9.9" transform="rotate(43 1088.8 2562.2)"/><ellipse cx="893.9" cy="2360.2" rx="16.9" ry="10.8" transform="rotate(168 893.9 2360.2)"/><ellipse cx="972.6" cy="2612.0" rx="12.6" ry="12.6" transform="rotate(22 972.6 2612.0)"/><ellipse cx="990.3" cy="2554.0" rx="13.5" ry="13.5" transform="rotate(5 990.3 2554.0)"/><ellipse cx="1067.2" cy="2308.3" rx="11.1" ry="11.1" transform="rotate(160 1067.2 2308.3)"/><ellipse cx="1059.1" cy="2310.1" rx="9.3" ry="7.6" transform="rotate(190 1059.1 2310.1)"/><ellipse cx="931.8" cy="2333.3" rx="15.8" ry="10.1" transform="rotate(166 931.8 2333.3)"/><ellipse cx="1142.3" cy="2447.9" rx="23.0" ry="8.8" transform="rotate(65 1142.3 2447.9)"/><ellipse cx="1153.7" cy="2460.9" rx="9.5" ry="7.8" transform="rotate(88 1153.7 2460.9)"/><ellipse cx="1172.9" cy="2513.9" rx="28.0" ry="10.7" transform="rotate(121 1172.9 2513.9)"/><ellipse cx="1057.0" cy="2628.0" rx="27.5" ry="10.5" transform="rotate(4 1057.0 2628.0)"/><ellipse cx="904.2" cy="2469.5" rx="12.6" ry="10.9" transform="rotate(123 904.2 2469.5)"/><ellipse cx="1170.1" cy="2346.7" rx="23.5" ry="11.6" transform="rotate(56 1170.1 2346.7)"/><ellipse cx="1177.7" cy="2362.6" rx="13.5" ry="11.0" transform="rotate(81 1177.7 2362.6)"/><ellipse cx="1110.5" cy="2435.7" rx="17.1" ry="10.9" transform="rotate(31 1110.5 2435.7)"/><ellipse cx="1116.5" cy="2447.0" rx="9.0" ry="7.3" transform="rotate(57 1116.5 2447.0)"/><ellipse cx="932.7" cy="2627.0" rx="17.2" ry="8.5" transform="rotate(154 932.7 2627.0)"/><ellipse cx="919.9" cy="2625.5" rx="7.9" ry="6.5" transform="rotate(173 919.9 2625.5)"/><ellipse cx="872.6" cy="2439.8" rx="10.6" ry="10.6" transform="rotate(3 872.6 2439.8)"/><ellipse cx="1023.9" cy="2389.1" rx="15.4" ry="9.8" transform="rotate(16 1023.9 2389.1)"/><ellipse cx="929.9" cy="2382.0" rx="16.3" ry="10.4" transform="rotate(39 929.9 2382.0)"/><ellipse cx="1108.3" cy="2518.8" rx="11.8" ry="10.3" transform="rotate(138 1108.3 2518.8)"/><ellipse cx="945.7" cy="2533.8" rx="12.6" ry="12.6" transform="rotate(1 945.7 2533.8)"/><ellipse cx="1051.7" cy="2565.0" rx="19.7" ry="9.8" transform="rotate(132 1051.7 2565.0)"/><ellipse cx="958.8" cy="2472.4" rx="13.3" ry="11.5" transform="rotate(0 958.8 2472.4)"/><ellipse cx="915.0" cy="2502.9" rx="22.8" ry="8.7" transform="rotate(141 915.0 2502.9)"/><ellipse cx="903.9" cy="2515.9" rx="8.2" ry="6.7" transform="rotate(127 903.9 2515.9)"/><ellipse cx="1075.6" cy="2346.9" rx="24.4" ry="9.3" transform="rotate(60 1075.6 2346.9)"/><ellipse cx="1136.3" cy="2610.9" rx="12.7" ry="11.0" transform="rotate(2 1136.3 2610.9)"/><ellipse cx="884.8" cy="2396.9" rx="25.8" ry="9.8" transform="rotate(33 884.8 2396.9)"/><ellipse cx="918.3" cy="2578.4" rx="19.5" ry="9.6" transform="rotate(176 918.3 2578.4)"/><ellipse cx="1113.5" cy="2472.4" rx="14.1" ry="12.2" transform="rotate(173 1113.5 2472.4)"/><ellipse cx="1135.4" cy="2370.5" rx="22.7" ry="8.7" transform="rotate(155 1135.4 2370.5)"/><ellipse cx="1118.4" cy="2368.3" rx="8.4" ry="6.9" transform="rotate(142 1118.4 2368.3)"/><ellipse cx="1022.0" cy="2438.6" rx="12.6" ry="10.9" transform="rotate(83 1022.0 2438.6)"/><ellipse cx="1028.8" cy="2445.2" rx="10.0" ry="8.2" transform="rotate(70 1028.8 2445.2)"/><ellipse cx="1142.6" cy="2407.3" rx="12.8" ry="12.8" transform="rotate(102 1142.6 2407.3)"/><ellipse cx="1181.1" cy="2437.0" rx="16.2" ry="14.0" transform="rotate(114 1181.1 2437.0)"/><ellipse cx="1180.3" cy="2449.1" rx="13.6" ry="11.1" transform="rotate(108 1180.3 2449.1)"/><ellipse cx="1077.5" cy="2423.2" rx="11.7" ry="11.7" transform="rotate(17 1077.5 2423.2)"/><ellipse cx="1085.1" cy="2427.5" rx="7.8" ry="6.4" transform="rotate(46 1085.1 2427.5)"/><ellipse cx="882.0" cy="2308.3" rx="15.7" ry="13.6" transform="rotate(54 882.0 2308.3)"/><ellipse cx="976.0" cy="2343.0" rx="22.9" ry="11.3" transform="rotate(165 976.0 2343.0)"/><ellipse cx="1088.4" cy="2477.0" rx="23.1" ry="11.4" transform="rotate(8 1088.4 2477.0)"/><ellipse cx="1102.2" cy="2487.4" rx="11.1" ry="9.1" transform="rotate(-1 1102.2 2487.4)"/><ellipse cx="959.2" cy="2388.1" rx="12.5" ry="12.5" transform="rotate(178 959.2 2388.1)"/><ellipse cx="982.6" cy="2520.0" rx="13.4" ry="11.6" transform="rotate(93 982.6 2520.0)"/></g></g>
</svg>
<svg x="1190.3" y="2309.0" width="316.0" height="315.6" viewBox="1190.3 2309.0 316.0 315.6" overflow="hidden">
<rect x="1190.3" y="2309.0" width="316.0" height="315.6" fill="#0a1a0a"/>
<rect x="1190.3" y="2309.0" width="316.0" height="315.6" fill="#fff" filter="url(#gbg)"/>
<g fill="#3a9a40" opacity="0.6"><rect x="1233.2" y="2443.5" width="1.3" height="1.3"/><rect x="1458.0" y="2451.1" width="1.3" height="1.3"/><rect x="1264.2" y="2519.0" width="1.3" height="1.3"/><rect x="1287.1" y="2492.6" width="1.3" height="1.3"/><rect x="1263.3" y="2546.3" width="1.3" height="1.3"/><rect x="1207.2" y="2400.4" width="1.3" height="1.3"/><rect x="1482.3" y="2337.1" width="1.3" height="1.3"/><rect x="1313.5" y="2368.3" width="1.3" height="1.3"/><rect x="1310.7" y="2486.7" width="1.3" height="1.3"/><rect x="1490.0" y="2606.3" width="1.3" height="1.3"/><rect x="1288.1" y="2549.0" width="1.3" height="1.3"/><rect x="1335.0" y="2341.7" width="1.3" height="1.3"/><rect x="1275.3" y="2409.3" width="1.3" height="1.3"/><rect x="1315.6" y="2621.9" width="1.3" height="1.3"/><rect x="1441.9" y="2339.9" width="1.3" height="1.3"/><rect x="1372.8" y="2401.2" width="1.3" height="1.3"/><rect x="1272.7" y="2583.0" width="1.3" height="1.3"/><rect x="1212.4" y="2539.7" width="1.3" height="1.3"/><rect x="1469.2" y="2310.7" width="1.3" height="1.3"/><rect x="1283.3" y="2556.9" width="1.3" height="1.3"/><rect x="1206.0" y="2423.9" width="1.3" height="1.3"/><rect x="1264.9" y="2587.0" width="1.3" height="1.3"/><rect x="1445.0" y="2549.0" width="1.3" height="1.3"/><rect x="1277.7" y="2345.2" width="1.3" height="1.3"/><rect x="1474.3" y="2380.4" width="1.3" height="1.3"/><rect x="1258.9" y="2335.5" width="1.3" height="1.3"/><rect x="1449.2" y="2449.6" width="1.3" height="1.3"/><rect x="1246.6" y="2316.8" width="1.3" height="1.3"/><rect x="1334.7" y="2323.0" width="1.3" height="1.3"/><rect x="1192.0" y="2458.7" width="1.3" height="1.3"/><rect x="1367.7" y="2479.2" width="1.3" height="1.3"/><rect x="1478.8" y="2323.9" width="1.3" height="1.3"/><rect x="1212.1" y="2339.3" width="1.3" height="1.3"/><rect x="1383.4" y="2515.7" width="1.3" height="1.3"/><rect x="1262.4" y="2489.5" width="1.3" height="1.3"/><rect x="1208.4" y="2350.2" width="1.3" height="1.3"/><rect x="1277.4" y="2352.4" width="1.3" height="1.3"/><rect x="1275.3" y="2402.6" width="1.3" height="1.3"/><rect x="1319.5" y="2578.4" width="1.3" height="1.3"/><rect x="1428.3" y="2562.7" width="1.3" height="1.3"/><rect x="1240.5" y="2558.2" width="1.3" height="1.3"/><rect x="1310.2" y="2594.3" width="1.3" height="1.3"/><rect x="1384.9" y="2522.9" width="1.3" height="1.3"/><rect x="1374.7" y="2316.9" width="1.3" height="1.3"/><rect x="1284.3" y="2365.0" width="1.3" height="1.3"/><rect x="1274.1" y="2547.4" width="1.3" height="1.3"/><rect x="1315.8" y="2352.2" width="1.3" height="1.3"/><rect x="1440.8" y="2399.3" width="1.3" height="1.3"/><rect x="1225.0" y="2427.9" width="1.3" height="1.3"/><rect x="1302.1" y="2479.2" width="1.3" height="1.3"/><rect x="1396.3" y="2555.0" width="1.3" height="1.3"/><rect x="1375.1" y="2458.7" width="1.3" height="1.3"/><rect x="1286.3" y="2519.7" width="1.3" height="1.3"/><rect x="1418.3" y="2590.8" width="1.3" height="1.3"/><rect x="1396.9" y="2582.5" width="1.3" height="1.3"/><rect x="1198.8" y="2409.8" width="1.3" height="1.3"/><rect x="1289.9" y="2516.8" width="1.3" height="1.3"/><rect x="1454.8" y="2502.6" width="1.3" height="1.3"/><rect x="1273.5" y="2495.6" width="1.3" height="1.3"/><rect x="1253.4" y="2477.1" width="1.3" height="1.3"/><rect x="1201.8" y="2563.5" width="1.3" height="1.3"/><rect x="1491.8" y="2369.7" width="1.3" height="1.3"/><rect x="1398.3" y="2328.6" width="1.3" height="1.3"/><rect x="1225.1" y="2497.3" width="1.3" height="1.3"/><rect x="1211.9" y="2439.0" width="1.3" height="1.3"/><rect x="1334.4" y="2556.4" width="1.3" height="1.3"/><rect x="1475.4" y="2456.6" width="1.3" height="1.3"/><rect x="1201.7" y="2412.3" width="1.3" height="1.3"/><rect x="1239.5" y="2469.9" width="1.3" height="1.3"/><rect x="1292.9" y="2409.6" width="1.3" height="1.3"/><rect x="1351.7" y="2434.9" width="1.3" height="1.3"/><rect x="1224.4" y="2582.8" width="1.3" height="1.3"/><rect x="1302.8" y="2365.8" width="1.3" height="1.3"/><rect x="1323.7" y="2554.7" width="1.3" height="1.3"/><rect x="1300.0" y="2325.7" width="1.3" height="1.3"/><rect x="1384.8" y="2561.2" width="1.3" height="1.3"/><rect x="1387.5" y="2447.0" width="1.3" height="1.3"/><rect x="1258.2" y="2330.2" width="1.3" height="1.3"/><rect x="1386.2" y="2356.5" width="1.3" height="1.3"/><rect x="1485.9" y="2420.6" width="1.3" height="1.3"/><rect x="1350.8" y="2356.9" width="1.3" height="1.3"/><rect x="1362.7" y="2461.7" width="1.3" height="1.3"/><rect x="1428.8" y="2614.8" width="1.3" height="1.3"/><rect x="1234.9" y="2582.8" width="1.3" height="1.3"/><rect x="1261.5" y="2468.3" width="1.3" height="1.3"/><rect x="1468.4" y="2429.1" width="1.3" height="1.3"/><rect x="1299.5" y="2447.7" width="1.3" height="1.3"/><rect x="1300.8" y="2421.5" width="1.3" height="1.3"/><rect x="1331.3" y="2495.2" width="1.3" height="1.3"/><rect x="1388.1" y="2339.4" width="1.3" height="1.3"/><rect x="1244.2" y="2405.4" width="1.3" height="1.3"/><rect x="1296.5" y="2443.1" width="1.3" height="1.3"/><rect x="1362.7" y="2621.6" width="1.3" height="1.3"/><rect x="1451.4" y="2591.4" width="1.3" height="1.3"/><rect x="1295.1" y="2427.5" width="1.3" height="1.3"/><rect x="1425.0" y="2334.8" width="1.3" height="1.3"/><rect x="1483.1" y="2485.9" width="1.3" height="1.3"/><rect x="1297.9" y="2570.2" width="1.3" height="1.3"/><rect x="1439.1" y="2505.9" width="1.3" height="1.3"/><rect x="1450.2" y="2433.3" width="1.3" height="1.3"/><rect x="1252.5" y="2366.4" width="1.3" height="1.3"/><rect x="1501.1" y="2434.3" width="1.3" height="1.3"/><rect x="1501.8" y="2591.8" width="1.3" height="1.3"/><rect x="1502.9" y="2428.1" width="1.3" height="1.3"/><rect x="1468.0" y="2454.8" width="1.3" height="1.3"/><rect x="1321.4" y="2479.8" width="1.3" height="1.3"/><rect x="1442.4" y="2358.0" width="1.3" height="1.3"/><rect x="1225.6" y="2511.8" width="1.3" height="1.3"/><rect x="1477.5" y="2598.5" width="1.3" height="1.3"/><rect x="1404.5" y="2343.2" width="1.3" height="1.3"/><rect x="1362.7" y="2361.5" width="1.3" height="1.3"/><rect x="1199.5" y="2485.0" width="1.3" height="1.3"/><rect x="1281.0" y="2415.1" width="1.3" height="1.3"/><rect x="1246.5" y="2503.9" width="1.3" height="1.3"/><rect x="1286.7" y="2448.5" width="1.3" height="1.3"/><rect x="1256.1" y="2368.6" width="1.3" height="1.3"/><rect x="1347.7" y="2548.1" width="1.3" height="1.3"/><rect x="1475.1" y="2534.9" width="1.3" height="1.3"/><rect x="1211.7" y="2557.3" width="1.3" height="1.3"/><rect x="1420.3" y="2507.5" width="1.3" height="1.3"/></g>
<g fill="#3cd04e" filter="url(#gblur)"><path d="M1352.3,2471.0 C1360.3,2459.0 1368.3,2461.0 1372.3,2474.0 C1380.3,2487.0 1378.3,2501.0 1370.3,2507.0 C1360.3,2515.0 1350.3,2509.0 1348.3,2499.0 C1340.3,2489.0 1344.3,2479.0 1352.3,2471.0Z"/><ellipse cx="1318.3" cy="2503.0" rx="4" ry="4"/><ellipse cx="1336.3" cy="2511.0" rx="3.5" ry="3.5"/><path d="M1362.3,2467.0 C1362.3,2449.0 1370.3,2437.0 1378.3,2427.0 C1385.3,2417.0 1390.3,2404.0 1395.3,2387.0" fill="none" stroke-width="1.6" stroke="#2a9a36"/><ellipse cx="1440.3" cy="2382.0" rx="2" ry="2"/></g>
</svg>
<svg x="1511.0" y="2309.0" width="316.0" height="315.6" viewBox="1511.0 2309.0 316.0 315.6" overflow="hidden">
<rect x="1511.0" y="2309.0" width="316.0" height="315.6" fill="#0a1a0a"/>
<rect x="1511.0" y="2309.0" width="316.0" height="315.6" fill="#fff" filter="url(#gbg)"/>
<g fill="#3a9a40" opacity="0.5"><rect x="1553.9" y="2443.5" width="1.3" height="1.3"/><rect x="1778.7" y="2451.1" width="1.3" height="1.3"/><rect x="1584.9" y="2519.0" width="1.3" height="1.3"/><rect x="1607.8" y="2492.6" width="1.3" height="1.3"/><rect x="1584.0" y="2546.3" width="1.3" height="1.3"/><rect x="1527.9" y="2400.4" width="1.3" height="1.3"/><rect x="1803.0" y="2337.1" width="1.3" height="1.3"/><rect x="1634.2" y="2368.3" width="1.3" height="1.3"/><rect x="1631.4" y="2486.7" width="1.3" height="1.3"/><rect x="1810.7" y="2606.3" width="1.3" height="1.3"/><rect x="1608.8" y="2549.0" width="1.3" height="1.3"/><rect x="1655.7" y="2341.7" width="1.3" height="1.3"/><rect x="1596.0" y="2409.3" width="1.3" height="1.3"/><rect x="1636.3" y="2621.9" width="1.3" height="1.3"/><rect x="1762.6" y="2339.9" width="1.3" height="1.3"/><rect x="1693.5" y="2401.2" width="1.3" height="1.3"/><rect x="1593.4" y="2583.0" width="1.3" height="1.3"/><rect x="1533.1" y="2539.7" width="1.3" height="1.3"/><rect x="1789.9" y="2310.7" width="1.3" height="1.3"/><rect x="1604.0" y="2556.9" width="1.3" height="1.3"/><rect x="1526.7" y="2423.9" width="1.3" height="1.3"/><rect x="1585.6" y="2587.0" width="1.3" height="1.3"/><rect x="1765.7" y="2549.0" width="1.3" height="1.3"/><rect x="1598.4" y="2345.2" width="1.3" height="1.3"/><rect x="1795.0" y="2380.4" width="1.3" height="1.3"/><rect x="1579.6" y="2335.5" width="1.3" height="1.3"/><rect x="1769.9" y="2449.6" width="1.3" height="1.3"/><rect x="1567.3" y="2316.8" width="1.3" height="1.3"/><rect x="1655.4" y="2323.0" width="1.3" height="1.3"/><rect x="1512.7" y="2458.7" width="1.3" height="1.3"/><rect x="1688.4" y="2479.2" width="1.3" height="1.3"/><rect x="1799.5" y="2323.9" width="1.3" height="1.3"/><rect x="1532.8" y="2339.3" width="1.3" height="1.3"/><rect x="1704.1" y="2515.7" width="1.3" height="1.3"/><rect x="1583.1" y="2489.5" width="1.3" height="1.3"/><rect x="1529.1" y="2350.2" width="1.3" height="1.3"/><rect x="1598.1" y="2352.4" width="1.3" height="1.3"/><rect x="1596.0" y="2402.6" width="1.3" height="1.3"/><rect x="1640.2" y="2578.4" width="1.3" height="1.3"/><rect x="1749.0" y="2562.7" width="1.3" height="1.3"/><rect x="1561.2" y="2558.2" width="1.3" height="1.3"/><rect x="1630.9" y="2594.3" width="1.3" height="1.3"/><rect x="1705.6" y="2522.9" width="1.3" height="1.3"/><rect x="1695.4" y="2316.9" width="1.3" height="1.3"/><rect x="1605.0" y="2365.0" width="1.3" height="1.3"/><rect x="1594.8" y="2547.4" width="1.3" height="1.3"/><rect x="1636.5" y="2352.2" width="1.3" height="1.3"/><rect x="1761.5" y="2399.3" width="1.3" height="1.3"/><rect x="1545.7" y="2427.9" width="1.3" height="1.3"/><rect x="1622.8" y="2479.2" width="1.3" height="1.3"/><rect x="1717.0" y="2555.0" width="1.3" height="1.3"/><rect x="1695.8" y="2458.7" width="1.3" height="1.3"/><rect x="1607.0" y="2519.7" width="1.3" height="1.3"/><rect x="1739.0" y="2590.8" width="1.3" height="1.3"/><rect x="1717.6" y="2582.5" width="1.3" height="1.3"/><rect x="1519.5" y="2409.8" width="1.3" height="1.3"/><rect x="1610.6" y="2516.8" width="1.3" height="1.3"/><rect x="1775.5" y="2502.6" width="1.3" height="1.3"/><rect x="1594.2" y="2495.6" width="1.3" height="1.3"/><rect x="1574.1" y="2477.1" width="1.3" height="1.3"/><rect x="1522.5" y="2563.5" width="1.3" height="1.3"/><rect x="1812.5" y="2369.7" width="1.3" height="1.3"/><rect x="1719.0" y="2328.6" width="1.3" height="1.3"/><rect x="1545.8" y="2497.3" width="1.3" height="1.3"/><rect x="1532.6" y="2439.0" width="1.3" height="1.3"/><rect x="1655.1" y="2556.4" width="1.3" height="1.3"/><rect x="1796.1" y="2456.6" width="1.3" height="1.3"/><rect x="1522.4" y="2412.3" width="1.3" height="1.3"/><rect x="1560.2" y="2469.9" width="1.3" height="1.3"/><rect x="1613.6" y="2409.6" width="1.3" height="1.3"/><rect x="1672.4" y="2434.9" width="1.3" height="1.3"/><rect x="1545.1" y="2582.8" width="1.3" height="1.3"/><rect x="1623.5" y="2365.8" width="1.3" height="1.3"/><rect x="1644.4" y="2554.7" width="1.3" height="1.3"/><rect x="1620.7" y="2325.7" width="1.3" height="1.3"/><rect x="1705.5" y="2561.2" width="1.3" height="1.3"/><rect x="1708.2" y="2447.0" width="1.3" height="1.3"/><rect x="1578.9" y="2330.2" width="1.3" height="1.3"/><rect x="1706.9" y="2356.5" width="1.3" height="1.3"/><rect x="1806.6" y="2420.6" width="1.3" height="1.3"/></g>
<g filter="url(#nucf)"><g fill="url(#ngM)"><ellipse cx="1513.5" cy="2622.3" rx="20.2" ry="12.9" transform="rotate(35 1513.5 2622.3)"/><ellipse cx="1525.7" cy="2631.2" rx="11.5" ry="9.4" transform="rotate(30 1525.7 2631.2)"/><ellipse cx="1765.2" cy="2575.5" rx="20.7" ry="10.2" transform="rotate(46 1765.2 2575.5)"/><ellipse cx="1770.0" cy="2590.2" rx="11.0" ry="9.0" transform="rotate(24 1770.0 2590.2)"/><ellipse cx="1599.2" cy="2302.4" rx="19.8" ry="9.8" transform="rotate(112 1599.2 2302.4)"/><ellipse cx="1579.1" cy="2413.0" rx="25.0" ry="9.5" transform="rotate(28 1579.1 2413.0)"/><ellipse cx="1597.7" cy="2415.7" rx="11.3" ry="9.2" transform="rotate(30 1597.7 2415.7)"/><ellipse cx="1808.6" cy="2475.3" rx="14.1" ry="14.1" transform="rotate(45 1808.6 2475.3)"/><ellipse cx="1794.3" cy="2552.0" rx="13.6" ry="13.6" transform="rotate(146 1794.3 2552.0)"/><ellipse cx="1744.4" cy="2324.9" rx="14.5" ry="14.5" transform="rotate(176 1744.4 2324.9)"/><ellipse cx="1733.5" cy="2324.9" rx="13.0" ry="10.7" transform="rotate(196 1733.5 2324.9)"/><ellipse cx="1833.0" cy="2602.0" rx="12.7" ry="12.7" transform="rotate(145 1833.0 2602.0)"/><ellipse cx="1627.6" cy="2408.0" rx="14.7" ry="14.7" transform="rotate(104 1627.6 2408.0)"/><ellipse cx="1710.8" cy="2534.9" rx="12.0" ry="12.0" transform="rotate(0 1710.8 2534.9)"/><ellipse cx="1719.5" cy="2536.9" rx="8.0" ry="6.5" transform="rotate(22 1719.5 2536.9)"/><ellipse cx="1712.2" cy="2386.7" rx="11.9" ry="10.3" transform="rotate(129 1712.2 2386.7)"/><ellipse cx="1705.1" cy="2391.9" rx="7.7" ry="6.3" transform="rotate(121 1705.1 2391.9)"/><ellipse cx="1667.3" cy="2466.9" rx="13.4" ry="13.4" transform="rotate(104 1667.3 2466.9)"/><ellipse cx="1666.1" cy="2476.9" rx="9.6" ry="7.9" transform="rotate(101 1666.1 2476.9)"/><ellipse cx="1619.0" cy="2440.6" rx="20.3" ry="10.0" transform="rotate(61 1619.0 2440.6)"/><ellipse cx="1511.4" cy="2562.8" rx="12.4" ry="12.4" transform="rotate(158 1511.4 2562.8)"/><ellipse cx="1670.4" cy="2353.9" rx="15.6" ry="11.9" transform="rotate(57 1670.4 2353.9)"/><ellipse cx="1531.3" cy="2528.4" rx="26.7" ry="10.2" transform="rotate(28 1531.3 2528.4)"/><ellipse cx="1551.1" cy="2531.8" rx="10.6" ry="8.7" transform="rotate(55 1551.1 2531.8)"/><ellipse cx="1733.4" cy="2613.9" rx="23.9" ry="9.1" transform="rotate(178 1733.4 2613.9)"/><ellipse cx="1715.5" cy="2612.3" rx="11.1" ry="9.1" transform="rotate(162 1715.5 2612.3)"/><ellipse cx="1832.1" cy="2395.4" rx="14.9" ry="12.9" transform="rotate(28 1832.1 2395.4)"/><ellipse cx="1808.4" cy="2309.7" rx="13.4" ry="13.4" transform="rotate(4 1808.4 2309.7)"/><ellipse cx="1720.0" cy="2500.3" rx="14.1" ry="14.1" transform="rotate(75 1720.0 2500.3)"/><ellipse cx="1802.6" cy="2585.8" rx="11.9" ry="11.9" transform="rotate(32 1802.6 2585.8)"/><ellipse cx="1660.2" cy="2517.2" rx="12.1" ry="12.1" transform="rotate(91 1660.2 2517.2)"/><ellipse cx="1643.6" cy="2585.1" rx="16.8" ry="12.8" transform="rotate(99 1643.6 2585.1)"/><ellipse cx="1649.4" cy="2596.3" rx="10.2" ry="8.3" transform="rotate(124 1649.4 2596.3)"/><ellipse cx="1687.5" cy="2482.8" rx="17.0" ry="12.9" transform="rotate(81 1687.5 2482.8)"/><ellipse cx="1692.9" cy="2494.4" rx="10.9" ry="8.9" transform="rotate(96 1692.9 2494.4)"/><ellipse cx="1731.5" cy="2562.2" rx="26.0" ry="9.9" transform="rotate(43 1731.5 2562.2)"/><ellipse cx="1536.6" cy="2360.2" rx="16.9" ry="10.8" transform="rotate(168 1536.6 2360.2)"/><ellipse cx="1615.3" cy="2612.0" rx="12.6" ry="12.6" transform="rotate(22 1615.3 2612.0)"/><ellipse cx="1633.0" cy="2554.0" rx="13.5" ry="13.5" transform="rotate(5 1633.0 2554.0)"/><ellipse cx="1709.9" cy="2308.3" rx="11.1" ry="11.1" transform="rotate(160 1709.9 2308.3)"/><ellipse cx="1701.8" cy="2310.1" rx="9.3" ry="7.6" transform="rotate(190 1701.8 2310.1)"/><ellipse cx="1574.5" cy="2333.3" rx="15.8" ry="10.1" transform="rotate(166 1574.5 2333.3)"/><ellipse cx="1785.0" cy="2447.9" rx="23.0" ry="8.8" transform="rotate(65 1785.0 2447.9)"/><ellipse cx="1796.4" cy="2460.9" rx="9.5" ry="7.8" transform="rotate(88 1796.4 2460.9)"/><ellipse cx="1815.6" cy="2513.9" rx="28.0" ry="10.7" transform="rotate(121 1815.6 2513.9)"/><ellipse cx="1699.7" cy="2628.0" rx="27.5" ry="10.5" transform="rotate(4 1699.7 2628.0)"/><ellipse cx="1546.9" cy="2469.5" rx="12.6" ry="10.9" transform="rotate(123 1546.9 2469.5)"/><ellipse cx="1812.8" cy="2346.7" rx="23.5" ry="11.6" transform="rotate(56 1812.8 2346.7)"/><ellipse cx="1820.4" cy="2362.6" rx="13.5" ry="11.0" transform="rotate(81 1820.4 2362.6)"/><ellipse cx="1753.2" cy="2435.7" rx="17.1" ry="10.9" transform="rotate(31 1753.2 2435.7)"/><ellipse cx="1759.2" cy="2447.0" rx="9.0" ry="7.3" transform="rotate(57 1759.2 2447.0)"/><ellipse cx="1575.4" cy="2627.0" rx="17.2" ry="8.5" transform="rotate(154 1575.4 2627.0)"/><ellipse cx="1562.6" cy="2625.5" rx="7.9" ry="6.5" transform="rotate(173 1562.6 2625.5)"/><ellipse cx="1515.3" cy="2439.8" rx="10.6" ry="10.6" transform="rotate(3 1515.3 2439.8)"/><ellipse cx="1666.6" cy="2389.1" rx="15.4" ry="9.8" transform="rotate(16 1666.6 2389.1)"/><ellipse cx="1572.6" cy="2382.0" rx="16.3" ry="10.4" transform="rotate(39 1572.6 2382.0)"/><ellipse cx="1751.0" cy="2518.8" rx="11.8" ry="10.3" transform="rotate(138 1751.0 2518.8)"/><ellipse cx="1588.4" cy="2533.8" rx="12.6" ry="12.6" transform="rotate(1 1588.4 2533.8)"/><ellipse cx="1694.4" cy="2565.0" rx="19.7" ry="9.8" transform="rotate(132 1694.4 2565.0)"/><ellipse cx="1601.5" cy="2472.4" rx="13.3" ry="11.5" transform="rotate(0 1601.5 2472.4)"/><ellipse cx="1557.7" cy="2502.9" rx="22.8" ry="8.7" transform="rotate(141 1557.7 2502.9)"/><ellipse cx="1546.6" cy="2515.9" rx="8.2" ry="6.7" transform="rotate(127 1546.6 2515.9)"/><ellipse cx="1718.3" cy="2346.9" rx="24.4" ry="9.3" transform="rotate(60 1718.3 2346.9)"/><ellipse cx="1779.0" cy="2610.9" rx="12.7" ry="11.0" transform="rotate(2 1779.0 2610.9)"/><ellipse cx="1527.5" cy="2396.9" rx="25.8" ry="9.8" transform="rotate(33 1527.5 2396.9)"/><ellipse cx="1561.0" cy="2578.4" rx="19.5" ry="9.6" transform="rotate(176 1561.0 2578.4)"/><ellipse cx="1756.2" cy="2472.4" rx="14.1" ry="12.2" transform="rotate(173 1756.2 2472.4)"/><ellipse cx="1778.1" cy="2370.5" rx="22.7" ry="8.7" transform="rotate(155 1778.1 2370.5)"/><ellipse cx="1761.1" cy="2368.3" rx="8.4" ry="6.9" transform="rotate(142 1761.1 2368.3)"/><ellipse cx="1664.7" cy="2438.6" rx="12.6" ry="10.9" transform="rotate(83 1664.7 2438.6)"/><ellipse cx="1671.5" cy="2445.2" rx="10.0" ry="8.2" transform="rotate(70 1671.5 2445.2)"/><ellipse cx="1785.3" cy="2407.3" rx="12.8" ry="12.8" transform="rotate(102 1785.3 2407.3)"/><ellipse cx="1823.8" cy="2437.0" rx="16.2" ry="14.0" transform="rotate(114 1823.8 2437.0)"/><ellipse cx="1823.0" cy="2449.1" rx="13.6" ry="11.1" transform="rotate(108 1823.0 2449.1)"/><ellipse cx="1720.2" cy="2423.2" rx="11.7" ry="11.7" transform="rotate(17 1720.2 2423.2)"/><ellipse cx="1727.8" cy="2427.5" rx="7.8" ry="6.4" transform="rotate(46 1727.8 2427.5)"/><ellipse cx="1524.7" cy="2308.3" rx="15.7" ry="13.6" transform="rotate(54 1524.7 2308.3)"/><ellipse cx="1618.7" cy="2343.0" rx="22.9" ry="11.3" transform="rotate(165 1618.7 2343.0)"/><ellipse cx="1731.1" cy="2477.0" rx="23.1" ry="11.4" transform="rotate(8 1731.1 2477.0)"/><ellipse cx="1744.9" cy="2487.4" rx="11.1" ry="9.1" transform="rotate(-1 1744.9 2487.4)"/><ellipse cx="1601.9" cy="2388.1" rx="12.5" ry="12.5" transform="rotate(178 1601.9 2388.1)"/><ellipse cx="1625.3" cy="2520.0" rx="13.4" ry="11.6" transform="rotate(93 1625.3 2520.0)"/></g></g>
<g fill="#3cd04e" filter="url(#gblur)"><path d="M1673.0,2471.0 C1681.0,2459.0 1689.0,2461.0 1693.0,2474.0 C1701.0,2487.0 1699.0,2501.0 1691.0,2507.0 C1681.0,2515.0 1671.0,2509.0 1669.0,2499.0 C1661.0,2489.0 1665.0,2479.0 1673.0,2471.0Z"/><ellipse cx="1639.0" cy="2503.0" rx="4" ry="4"/><ellipse cx="1657.0" cy="2511.0" rx="3.5" ry="3.5"/><path d="M1683.0,2467.0 C1683.0,2449.0 1691.0,2437.0 1699.0,2427.0 C1706.0,2417.0 1711.0,2404.0 1716.0,2387.0" fill="none" stroke-width="1.6" stroke="#2a9a36"/><ellipse cx="1761.0" cy="2382.0" rx="2" ry="2"/></g>
</svg>
<line x1="1617.8" y1="1816.8" x2="1600.7" y2="1828.4" stroke="#fff" stroke-width="3.2"/><path d="M1593.3,1833.5 L1597.9,1824.3 L1603.6,1832.6Z" fill="#fff"/>
<line x1="1694.2" y1="1780.5" x2="1716.4" y2="1790.6" stroke="#fff" stroke-width="3.2"/><path d="M1724.6,1794.3 L1714.3,1795.1 L1718.5,1786.0Z" fill="#fff"/>
<line x1="1679.5" y1="2054.4" x2="1700.4" y2="2063.1" stroke="#fff" stroke-width="3.2"/><path d="M1708.7,2066.6 L1698.5,2067.7 L1702.3,2058.5Z" fill="#fff"/>
<line x1="1666" y1="2413.7" x2="1688.1" y2="2422.6" stroke="#fff" stroke-width="3.2"/><path d="M1696.5,2425.9 L1686.3,2427.2 L1690.0,2417.9Z" fill="#fff"/>
<rect x="867.8" y="1663.7" width="317.0" height="316.6" fill="none" stroke="#d8d8d8" stroke-width="1"/>
<rect x="1189.8" y="1663.7" width="317.0" height="316.6" fill="none" stroke="#d8d8d8" stroke-width="1"/>
<rect x="1510.5" y="1663.7" width="317.0" height="316.6" fill="none" stroke="#d8d8d8" stroke-width="1"/>
<rect x="867.8" y="1985.3" width="317.0" height="316.6" fill="none" stroke="#d8d8d8" stroke-width="1"/>
<rect x="1189.8" y="1985.3" width="317.0" height="316.6" fill="none" stroke="#d8d8d8" stroke-width="1"/>
<rect x="1510.5" y="1985.3" width="317.0" height="316.6" fill="none" stroke="#d8d8d8" stroke-width="1"/>
<rect x="867.8" y="2308.5" width="317.0" height="316.6" fill="none" stroke="#d8d8d8" stroke-width="1"/>
<rect x="1189.8" y="2308.5" width="317.0" height="316.6" fill="none" stroke="#d8d8d8" stroke-width="1"/>
<rect x="1510.5" y="2308.5" width="317.0" height="316.6" fill="none" stroke="#d8d8d8" stroke-width="1"/>
</svg>
</body></html>
